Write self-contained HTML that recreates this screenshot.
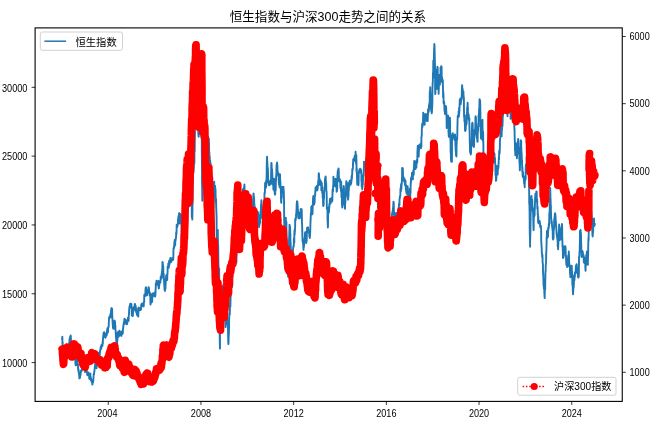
<!DOCTYPE html><html><head><meta charset="utf-8"><title>chart</title><style>html,body{margin:0;padding:0;background:#fff}body{width:661px;height:428px;overflow:hidden;font-family:"Liberation Sans",sans-serif}svg{display:block;will-change:transform}text{filter:grayscale(1)}</style></head><body><svg width="661" height="428" viewBox="0 0 661 428" font-family="Liberation Sans, sans-serif"><rect width="661" height="428" fill="#fff"/><path d="M62.1 339.2L62.3 336.6L62.4 338.9L62.4 341.3L62.5 344.1L62.6 342.1L62.8 346.0L62.8 349.1L62.9 350.2L62.9 350.1L63.0 351.3L63.2 350.5L63.3 350.6L63.3 349.8L63.4 350.0L63.5 351.4L63.6 351.4L63.7 351.6L63.8 352.5L63.8 351.9L63.9 354.6L64.1 353.9L64.2 354.9L64.2 355.7L64.3 355.5L64.3 356.2L64.5 356.3L64.6 356.5L64.7 356.6L64.7 356.3L64.8 355.7L65.0 356.2L65.0 355.4L65.1 355.3L65.2 355.4L65.2 355.7L65.4 355.1L65.5 356.3L65.5 356.2L65.6 356.0L65.7 355.2L65.9 352.5L65.9 351.0L66.0 348.7L66.1 346.1L66.1 344.7L66.3 344.8L66.4 344.6L66.4 346.9L66.5 346.9L66.6 347.3L66.8 348.6L66.8 348.2L66.9 349.0L66.9 348.9L67.0 349.0L67.2 349.2L67.3 348.6L67.3 349.0L67.4 348.4L67.5 348.4L67.6 349.2L67.7 348.4L67.8 350.2L67.8 348.5L67.9 348.2L68.1 349.3L68.1 350.6L68.2 352.1L68.3 352.8L68.3 353.0L68.5 350.1L68.6 347.9L68.7 346.3L68.7 347.7L68.8 345.2L69.0 344.9L69.0 345.3L69.1 344.1L69.2 342.6L69.2 343.6L69.4 342.6L69.5 342.0L69.5 340.8L69.6 338.6L69.7 339.3L69.9 340.6L69.9 339.9L70.0 339.1L70.1 338.7L70.1 337.0L70.3 336.4L70.4 338.7L70.4 337.9L70.5 336.6L70.6 335.4L70.8 336.1L70.8 337.2L70.9 337.5L70.9 341.1L71.0 341.8L71.2 343.1L71.3 344.7L71.3 343.9L71.4 343.3L71.4 344.7L71.6 346.1L71.7 345.7L71.8 348.7L71.8 349.8L71.9 350.1L72.1 352.5L72.1 352.8L72.2 353.0L72.3 354.2L72.3 353.0L72.5 354.0L72.6 353.3L72.7 352.7L72.7 353.7L72.8 354.0L73.0 354.1L73.0 355.5L73.1 357.1L73.2 357.5L73.2 357.4L73.4 357.3L73.5 357.0L73.5 357.2L73.6 356.2L73.7 354.3L73.9 352.3L73.9 351.2L74.0 350.2L74.1 351.2L74.1 350.0L74.3 350.4L74.4 351.1L74.4 351.3L74.5 352.1L74.6 353.9L74.7 355.6L74.8 356.0L74.9 355.1L74.9 355.1L75.0 356.9L75.2 358.7L75.3 359.3L75.3 359.0L75.4 361.6L75.4 363.9L75.6 363.8L75.7 365.4L75.8 365.1L75.8 364.1L75.9 365.4L76.1 363.7L76.1 364.5L76.2 363.0L76.3 360.9L76.3 359.5L76.5 360.4L76.6 359.4L76.7 358.9L76.7 357.8L76.8 357.1L77.0 358.2L77.0 359.1L77.1 359.9L77.2 361.0L77.2 362.0L77.4 362.5L77.5 362.3L77.5 364.2L77.6 365.1L77.7 363.1L77.9 364.8L77.9 364.8L78.0 364.5L78.0 366.6L78.1 369.2L78.3 369.9L78.4 368.9L78.4 370.4L78.5 372.0L78.6 371.1L78.7 370.1L78.8 371.2L78.9 371.9L78.9 372.6L79.0 373.5L79.2 375.4L79.3 376.5L79.3 377.5L79.4 378.4L79.4 377.5L79.6 378.4L79.7 376.9L79.8 377.6L79.8 378.3L79.9 378.0L80.1 376.0L80.1 375.5L80.2 374.6L80.3 373.6L80.3 374.1L80.5 374.7L80.6 374.2L80.6 374.9L80.7 372.7L80.8 372.4L81.0 370.9L81.0 370.8L81.1 371.1L81.2 370.3L81.2 370.4L81.4 370.8L81.5 370.7L81.5 371.0L81.6 371.0L81.7 370.9L81.9 368.4L81.9 368.9L82.0 366.6L82.0 366.1L82.1 365.4L82.3 365.5L82.4 363.9L82.4 363.8L82.5 364.7L82.6 361.4L82.7 362.3L82.8 361.0L82.9 360.6L82.9 359.5L83.0 359.7L83.2 359.8L83.3 361.4L83.3 362.5L83.4 365.1L83.4 365.3L83.6 366.3L83.7 366.6L83.8 367.1L83.8 368.9L83.9 367.8L84.1 367.5L84.1 368.0L84.2 367.9L84.3 365.3L84.3 366.8L84.5 366.2L84.6 369.6L84.6 369.9L84.7 369.5L84.8 370.1L85.0 372.0L85.0 371.9L85.1 371.2L85.2 370.1L85.2 368.7L85.4 364.5L85.5 364.7L85.5 366.3L85.6 366.1L85.7 366.7L85.9 365.0L85.9 364.7L86.0 366.0L86.0 365.5L86.1 366.5L86.3 368.8L86.4 368.4L86.4 370.2L86.5 369.2L86.6 369.2L86.7 370.7L86.8 371.7L86.9 373.0L86.9 372.4L87.0 372.8L87.2 373.2L87.2 374.1L87.3 375.0L87.4 375.3L87.4 375.0L87.6 373.8L87.7 372.7L87.8 373.1L87.8 374.1L87.9 374.0L88.1 373.6L88.1 372.7L88.2 372.4L88.3 372.4L88.3 372.5L88.5 372.5L88.6 372.6L88.6 373.6L88.7 375.0L88.8 374.7L89.0 374.7L89.0 374.6L89.1 376.0L89.2 377.5L89.2 378.3L89.4 378.6L89.5 379.1L89.5 379.1L89.6 378.8L89.7 378.1L89.8 377.2L89.9 376.1L90.0 375.6L90.0 375.5L90.1 373.6L90.3 373.8L90.4 373.7L90.4 376.1L90.5 376.1L90.5 377.6L90.7 376.8L90.8 377.8L90.9 378.0L90.9 380.2L91.0 378.1L91.2 379.2L91.2 379.2L91.3 380.2L91.4 381.4L91.4 381.1L91.6 381.7L91.7 381.7L91.8 380.4L91.8 381.8L91.9 381.0L92.1 380.5L92.1 382.6L92.2 383.2L92.3 384.4L92.3 384.5L92.5 384.3L92.6 383.1L92.6 382.6L92.7 381.3L92.8 381.2L93.0 382.0L93.0 381.5L93.1 380.7L93.1 382.2L93.2 380.5L93.4 380.0L93.5 377.3L93.5 377.1L93.6 375.8L93.7 374.1L93.8 373.7L93.9 373.5L94.0 374.5L94.0 373.6L94.1 372.8L94.3 371.4L94.4 371.3L94.4 371.8L94.5 371.1L94.5 369.7L94.7 368.7L94.8 366.6L94.9 366.1L94.9 366.2L95.0 365.2L95.2 363.8L95.2 361.8L95.3 361.8L95.4 361.7L95.4 361.7L95.6 361.8L95.7 362.2L95.8 362.7L95.8 363.0L95.9 363.5L96.1 365.2L96.1 366.3L96.2 363.3L96.3 365.1L96.3 367.0L96.5 368.4L96.6 367.4L96.6 366.3L96.7 366.5L96.8 365.7L97.0 365.9L97.0 364.5L97.1 363.8L97.1 364.7L97.2 362.1L97.4 361.2L97.5 359.8L97.5 360.7L97.6 360.6L97.7 361.2L97.8 361.2L97.9 360.9L98.0 360.4L98.0 359.6L98.1 361.1L98.3 361.2L98.4 361.1L98.4 360.6L98.5 360.7L98.5 360.3L98.7 360.9L98.8 359.9L98.9 357.6L98.9 354.2L99.0 352.7L99.2 352.5L99.2 354.0L99.3 354.7L99.4 355.6L99.4 356.1L99.6 356.5L99.7 355.3L99.7 355.6L99.8 354.4L99.9 351.8L100.1 351.9L100.1 350.9L100.2 349.9L100.3 349.9L100.3 350.1L100.5 348.8L100.6 349.0L100.6 348.3L100.7 347.0L100.8 347.0L101.0 346.1L101.0 347.2L101.1 347.7L101.1 348.5L101.2 348.8L101.4 347.5L101.5 347.2L101.5 345.4L101.6 344.7L101.7 344.7L101.8 345.6L101.9 345.9L102.0 345.5L102.0 345.8L102.1 346.0L102.3 345.6L102.3 345.7L102.4 345.9L102.5 345.8L102.5 345.7L102.7 340.8L102.8 343.7L102.9 341.0L102.9 340.7L103.0 337.8L103.2 338.0L103.2 335.9L103.3 336.0L103.4 334.3L103.4 334.4L103.6 334.0L103.7 332.8L103.7 332.4L103.8 332.9L103.9 334.3L104.1 333.7L104.1 332.9L104.2 332.2L104.3 333.1L104.3 332.5L104.5 333.3L104.6 333.7L104.6 333.9L104.7 334.1L104.8 334.5L105.0 335.1L105.0 335.8L105.1 337.2L105.1 336.1L105.2 336.2L105.4 337.3L105.5 337.4L105.5 337.8L105.6 337.2L105.6 335.8L105.8 336.5L105.9 336.4L106.0 334.0L106.0 333.8L106.1 334.6L106.3 334.3L106.3 334.5L106.4 335.5L106.5 335.7L106.5 333.1L106.7 334.3L106.8 335.0L106.9 333.5L106.9 331.2L107.0 332.0L107.2 331.5L107.2 329.9L107.3 329.8L107.4 328.1L107.4 328.3L107.6 331.6L107.7 329.8L107.7 331.1L107.8 332.5L107.9 332.4L108.1 330.9L108.1 327.9L108.2 327.1L108.2 327.1L108.3 327.1L108.5 327.0L108.6 327.2L108.6 326.1L108.7 326.4L108.8 322.9L108.9 321.0L109.0 319.5L109.1 317.8L109.1 317.2L109.2 317.5L109.4 316.8L109.5 316.6L109.5 316.9L109.6 316.9L109.6 317.9L109.8 316.6L109.9 316.7L110.0 316.9L110.0 317.5L110.1 317.3L110.3 315.2L110.3 314.1L110.4 315.5L110.5 317.6L110.5 315.2L110.7 315.8L110.8 314.3L110.9 313.1L110.9 313.2L111.0 311.7L111.2 309.6L111.2 309.5L111.3 308.5L111.4 309.1L111.4 308.2L111.6 309.1L111.7 308.2L111.7 309.2L111.8 308.6L111.9 308.6L112.1 308.9L112.1 310.0L112.2 310.3L112.2 313.0L112.3 316.3L112.5 320.2L112.6 321.4L112.6 323.2L112.7 323.4L112.8 326.0L112.9 326.1L113.0 327.9L113.1 327.3L113.1 326.8L113.2 328.5L113.4 328.1L113.5 328.2L113.5 328.7L113.6 328.8L113.6 328.4L113.8 327.2L113.9 326.8L114.0 325.6L114.0 324.8L114.1 325.1L114.3 324.9L114.3 323.9L114.4 322.0L114.5 320.8L114.5 323.2L114.7 323.0L114.8 320.9L114.8 320.7L114.9 322.2L115.0 323.0L115.2 325.2L115.2 326.2L115.3 325.1L115.4 326.1L115.4 330.1L115.6 330.1L115.7 330.6L115.7 332.3L115.8 333.9L115.9 335.9L116.1 338.3L116.1 338.0L116.2 338.9L116.2 340.1L116.3 341.1L116.5 343.3L116.6 347.1L116.6 347.1L116.7 347.5L116.8 347.8L116.9 349.3L117.0 347.1L117.1 346.3L117.1 344.2L117.2 338.7L117.4 340.4L117.5 337.1L117.5 334.9L117.6 335.0L117.6 333.1L117.8 332.3L117.9 333.3L118.0 332.2L118.0 333.5L118.1 333.3L118.3 333.8L118.3 332.9L118.4 335.5L118.5 336.8L118.5 335.4L118.7 335.2L118.8 336.4L118.8 335.3L118.9 335.0L119.0 334.5L119.2 332.0L119.2 332.4L119.3 330.6L119.4 330.7L119.4 331.0L119.6 330.8L119.7 331.6L119.7 331.1L119.8 331.8L119.9 333.1L120.1 334.4L120.1 335.4L120.2 334.7L120.2 334.8L120.3 335.1L120.5 335.3L120.6 335.3L120.6 334.0L120.7 335.1L120.7 333.6L120.9 333.9L121.0 335.2L121.1 332.2L121.1 334.5L121.2 334.3L121.4 335.7L121.4 335.9L121.5 334.2L121.6 332.7L121.6 331.8L121.8 333.1L121.9 334.1L122.0 333.5L122.0 334.1L122.1 331.3L122.3 331.6L122.3 332.1L122.4 331.0L122.5 331.2L122.5 331.9L122.7 333.7L122.8 333.0L122.8 333.2L122.9 330.6L123.0 328.5L123.2 327.9L123.2 327.9L123.3 327.5L123.4 325.0L123.4 325.4L123.6 324.7L123.7 323.4L123.7 323.5L123.8 322.5L123.9 323.3L124.0 323.8L124.1 323.8L124.2 323.7L124.2 322.5L124.3 319.2L124.5 318.8L124.6 319.2L124.6 323.7L124.7 323.6L124.7 322.3L124.9 322.5L125.0 321.3L125.1 321.8L125.1 321.3L125.2 321.2L125.4 320.4L125.4 321.8L125.5 320.7L125.6 319.7L125.6 320.6L125.8 322.1L125.9 320.6L126.0 320.4L126.0 321.9L126.1 323.3L126.3 324.0L126.3 322.8L126.4 323.1L126.5 324.2L126.5 324.1L126.7 322.4L126.8 321.4L126.8 322.9L126.9 323.6L127.0 324.1L127.2 323.8L127.2 323.4L127.3 323.3L127.3 323.1L127.4 320.5L127.6 320.1L127.7 320.9L127.7 320.7L127.8 319.7L127.9 319.6L128.0 317.6L128.1 318.7L128.2 319.1L128.2 319.3L128.3 318.7L128.5 318.6L128.6 320.9L128.6 320.3L128.7 318.1L128.7 315.9L128.9 315.1L129.0 313.4L129.1 311.7L129.1 310.7L129.2 309.2L129.4 308.0L129.4 306.7L129.5 307.3L129.6 306.7L129.6 307.3L129.8 306.7L129.9 305.6L129.9 304.9L130.0 306.9L130.1 305.2L130.3 304.0L130.3 303.6L130.4 304.0L130.5 304.1L130.5 303.6L130.7 304.6L130.8 307.3L130.8 307.4L130.9 307.0L131.0 307.6L131.2 307.1L131.2 306.7L131.3 304.0L131.3 303.9L131.4 304.4L131.6 306.7L131.7 307.2L131.7 311.3L131.8 315.4L131.9 314.9L132.0 312.4L132.1 310.6L132.2 312.4L132.2 313.8L132.3 315.3L132.5 316.0L132.6 313.4L132.6 314.6L132.7 316.0L132.7 316.0L132.9 315.8L133.0 313.2L133.1 312.6L133.1 311.3L133.2 311.0L133.4 311.4L133.4 310.3L133.5 309.9L133.6 308.1L133.6 307.5L133.8 306.9L133.9 310.1L133.9 310.3L134.0 309.0L134.1 306.9L134.3 308.2L134.3 309.5L134.4 309.3L134.5 309.7L134.5 307.3L134.7 304.6L134.8 303.9L134.8 304.3L134.9 304.0L135.0 304.0L135.2 304.9L135.2 307.0L135.3 306.2L135.3 308.9L135.4 309.3L135.6 309.4L135.7 308.1L135.7 305.9L135.8 307.8L135.9 308.0L136.0 310.8L136.1 311.8L136.2 312.3L136.2 309.9L136.3 308.4L136.5 311.3L136.5 311.3L136.6 311.8L136.7 311.2L136.7 313.7L136.9 314.4L137.0 314.5L137.1 314.2L137.1 314.2L137.2 315.2L137.4 315.6L137.4 315.3L137.5 313.9L137.6 313.7L137.6 314.3L137.8 313.9L137.9 314.2L137.9 313.9L138.0 313.8L138.1 315.3L138.3 316.5L138.3 315.0L138.4 312.7L138.5 309.9L138.5 307.7L138.7 307.6L138.8 308.3L138.8 308.5L138.9 308.5L139.0 308.8L139.2 309.7L139.2 309.1L139.3 309.8L139.3 310.2L139.4 309.9L139.6 310.2L139.7 309.8L139.7 309.8L139.8 308.9L139.8 309.1L140.0 308.8L140.1 308.4L140.2 309.9L140.2 308.5L140.3 308.4L140.5 308.0L140.5 308.6L140.6 309.7L140.7 309.9L140.7 308.9L140.9 308.7L141.0 309.4L141.1 309.3L141.1 307.7L141.2 305.1L141.4 304.6L141.4 306.6L141.5 304.1L141.6 304.0L141.6 304.5L141.8 304.4L141.9 306.1L141.9 304.2L142.0 304.2L142.1 303.5L142.3 304.4L142.3 304.2L142.4 304.4L142.4 304.5L142.5 304.8L142.7 304.6L142.8 304.6L142.8 304.1L142.9 304.8L143.0 305.2L143.1 305.8L143.2 305.7L143.3 306.1L143.3 306.2L143.4 306.3L143.6 306.4L143.7 306.0L143.7 305.8L143.8 305.3L143.8 302.7L144.0 302.5L144.1 302.0L144.2 301.2L144.2 297.2L144.3 294.8L144.5 295.7L144.5 295.0L144.6 295.0L144.7 295.1L144.7 295.4L144.9 295.5L145.0 295.8L145.1 295.8L145.1 295.0L145.2 296.1L145.4 295.3L145.4 292.5L145.5 289.4L145.6 288.4L145.6 287.8L145.8 287.6L145.9 287.9L145.9 288.7L146.0 287.2L146.1 289.4L146.3 289.8L146.3 289.7L146.4 292.7L146.4 291.9L146.5 291.6L146.7 295.4L146.8 294.0L146.8 295.1L146.9 295.4L147.0 295.3L147.1 294.4L147.2 291.2L147.3 291.9L147.3 291.6L147.4 291.1L147.6 290.4L147.7 290.3L147.7 290.1L147.8 290.9L147.8 292.5L148.0 291.2L148.1 289.3L148.2 289.0L148.2 289.5L148.3 289.4L148.5 287.3L148.5 287.6L148.6 287.8L148.7 287.5L148.7 287.9L148.9 287.6L149.0 288.3L149.0 290.0L149.1 290.4L149.2 292.7L149.4 292.0L149.4 293.7L149.5 294.0L149.6 295.4L149.6 292.8L149.8 292.5L149.9 294.5L149.9 293.1L150.0 293.2L150.1 294.5L150.3 296.1L150.3 298.3L150.4 302.1L150.4 304.1L150.5 304.6L150.7 302.2L150.8 301.4L150.8 299.8L150.9 302.5L151.0 303.0L151.1 302.8L151.2 302.6L151.3 302.7L151.3 302.5L151.4 301.3L151.6 297.2L151.6 298.0L151.7 298.5L151.8 295.4L151.8 294.1L152.0 294.4L152.1 297.3L152.2 301.7L152.2 297.2L152.3 298.3L152.5 297.1L152.5 296.5L152.6 294.6L152.7 294.2L152.7 293.5L152.9 293.5L153.0 293.4L153.0 293.7L153.1 293.9L153.2 295.0L153.4 294.2L153.4 294.4L153.5 295.7L153.6 293.7L153.6 293.9L153.8 293.8L153.9 293.9L153.9 294.0L154.0 293.3L154.1 294.0L154.3 293.9L154.3 294.2L154.4 296.0L154.4 295.8L154.5 295.5L154.7 292.8L154.8 292.3L154.8 293.7L154.9 293.3L154.9 295.7L155.1 296.5L155.2 295.8L155.3 295.7L155.3 295.7L155.4 295.2L155.6 289.8L155.6 290.6L155.7 288.0L155.8 286.7L155.8 283.6L156.0 283.0L156.1 283.0L156.2 282.9L156.2 283.6L156.3 283.4L156.5 281.6L156.5 280.8L156.6 283.7L156.7 283.8L156.7 283.8L156.9 281.5L157.0 283.7L157.0 284.0L157.1 281.9L157.2 283.2L157.4 283.1L157.4 283.7L157.5 283.8L157.6 284.7L157.6 284.9L157.8 284.9L157.9 284.0L157.9 283.6L158.0 283.9L158.1 281.7L158.2 282.4L158.3 281.1L158.4 280.8L158.4 283.5L158.5 286.0L158.7 288.1L158.8 288.4L158.8 287.7L158.9 288.1L158.9 288.4L159.1 285.2L159.2 285.3L159.3 284.1L159.3 285.5L159.4 283.7L159.6 282.7L159.6 283.7L159.7 282.3L159.8 282.2L159.8 282.5L160.0 282.3L160.1 281.2L160.2 281.9L160.2 282.0L160.3 282.7L160.5 280.5L160.5 280.0L160.6 280.3L160.7 276.8L160.7 278.4L160.9 279.1L161.0 277.6L161.0 278.7L161.1 278.0L161.2 277.2L161.4 278.1L161.4 278.6L161.5 275.6L161.5 274.1L161.6 275.3L161.8 275.3L161.9 273.6L161.9 271.6L162.0 271.7L162.1 270.9L162.2 268.6L162.3 267.9L162.4 264.2L162.4 262.1L162.5 262.6L162.7 262.1L162.8 265.5L162.8 265.8L162.9 266.0L162.9 264.3L163.1 268.9L163.2 268.6L163.3 266.7L163.3 272.9L163.4 277.5L163.6 276.0L163.6 274.8L163.7 273.6L163.8 276.9L163.8 277.6L164.0 280.4L164.1 279.0L164.1 282.0L164.2 283.8L164.3 285.8L164.5 287.7L164.5 289.4L164.6 289.4L164.7 290.4L164.7 289.1L164.9 289.9L165.0 290.6L165.0 290.9L165.1 289.1L165.2 287.6L165.4 285.7L165.4 282.9L165.5 288.6L165.5 287.4L165.6 284.2L165.8 282.0L165.9 279.2L165.9 280.0L166.0 278.4L166.1 276.3L166.2 275.7L166.3 275.7L166.4 275.4L166.4 275.3L166.5 275.9L166.7 275.9L166.8 276.0L166.8 275.5L166.9 275.6L166.9 276.1L167.1 278.7L167.2 280.0L167.3 276.2L167.3 274.5L167.4 274.8L167.6 271.4L167.6 268.8L167.7 266.4L167.8 266.9L167.8 267.1L168.0 266.6L168.1 266.4L168.1 267.0L168.2 266.3L168.3 263.5L168.5 263.4L168.5 267.3L168.6 267.3L168.7 267.9L168.7 267.0L168.9 266.9L169.0 263.5L169.0 264.3L169.1 260.8L169.2 261.4L169.4 265.0L169.4 262.8L169.5 260.5L169.5 260.5L169.6 260.3L169.8 263.1L169.9 261.3L169.9 261.1L170.0 260.8L170.1 260.2L170.2 260.5L170.3 258.0L170.4 258.4L170.4 260.4L170.5 259.6L170.7 258.9L170.7 261.1L170.8 261.6L170.9 259.4L170.9 260.2L171.1 260.0L171.2 261.8L171.3 262.0L171.3 261.1L171.4 258.2L171.6 259.4L171.6 259.0L171.7 258.6L171.8 258.4L171.8 258.8L172.0 259.2L172.1 259.3L172.1 259.8L172.2 260.4L172.3 260.0L172.5 260.0L172.5 259.8L172.6 259.6L172.7 259.2L172.7 259.5L172.9 258.9L173.0 259.2L173.0 258.2L173.1 259.3L173.2 259.9L173.3 257.5L173.4 254.3L173.5 248.6L173.5 248.3L173.6 248.3L173.8 247.8L173.9 248.0L173.9 247.1L174.0 246.3L174.0 247.2L174.2 248.0L174.3 244.3L174.4 242.1L174.4 242.2L174.5 243.5L174.7 240.0L174.7 242.0L174.8 242.0L174.9 239.8L174.9 243.3L175.1 244.8L175.2 245.4L175.3 240.5L175.3 241.9L175.4 241.4L175.6 240.3L175.6 238.9L175.7 239.2L175.8 239.3L175.8 239.1L176.0 237.5L176.1 236.0L176.1 232.8L176.2 235.7L176.3 234.9L176.5 233.1L176.5 230.5L176.6 231.3L176.6 228.6L176.7 224.7L176.9 225.1L177.0 224.4L177.0 225.1L177.1 224.8L177.2 227.0L177.3 224.5L177.4 226.7L177.5 226.0L177.5 225.0L177.6 225.4L177.8 224.4L177.9 222.9L177.9 219.8L178.0 223.7L178.0 221.7L178.2 221.5L178.3 217.1L178.4 220.0L178.4 217.3L178.5 216.1L178.7 216.7L178.7 220.9L178.8 218.5L178.9 219.4L178.9 217.0L179.1 213.1L179.2 213.2L179.3 213.6L179.3 213.1L179.4 214.9L179.6 218.9L179.6 220.1L179.7 223.5L179.8 221.7L179.8 221.0L180.0 219.0L180.1 214.8L180.1 214.1L180.2 217.3L180.3 215.5L180.5 216.2L180.5 214.3L180.6 214.6L180.6 214.1L180.7 214.9L180.9 214.8L181.0 214.7L181.0 215.0L181.1 215.3L181.2 219.0L181.3 220.8L181.4 223.7L181.5 229.7L181.5 233.6L181.6 239.0L181.8 243.3L181.9 242.4L181.9 241.2L182.0 239.9L182.0 242.4L182.2 239.5L182.3 236.2L182.4 236.3L182.4 236.8L182.5 234.8L182.7 233.7L182.7 231.3L182.8 227.3L182.9 227.4L182.9 229.6L183.1 228.5L183.2 229.1L183.2 228.3L183.3 227.2L183.4 227.7L183.6 228.1L183.6 227.1L183.7 228.0L183.8 226.8L183.8 228.0L184.0 226.3L184.1 227.8L184.1 227.4L184.2 228.2L184.3 222.9L184.5 220.4L184.5 220.2L184.6 220.1L184.6 221.6L184.7 223.5L184.9 220.2L185.0 223.3L185.0 226.7L185.1 224.3L185.2 220.1L185.3 220.6L185.4 220.9L185.5 221.1L185.5 221.2L185.6 221.9L185.8 221.2L185.8 222.0L185.9 221.5L186.0 222.1L186.0 221.6L186.2 221.1L186.3 220.9L186.4 215.8L186.4 216.1L186.5 214.7L186.7 215.6L186.7 215.6L186.8 215.7L186.9 219.2L186.9 221.3L187.1 215.9L187.2 218.6L187.2 220.0L187.3 216.2L187.4 212.9L187.6 210.7L187.6 211.5L187.7 210.1L187.8 206.6L187.8 206.6L188.0 207.1L188.1 208.3L188.1 202.7L188.2 203.3L188.3 205.6L188.5 205.3L188.5 201.7L188.6 199.3L188.6 199.1L188.7 199.2L188.9 199.5L189.0 202.2L189.0 202.8L189.1 201.9L189.1 200.5L189.3 197.6L189.4 200.0L189.5 194.1L189.5 197.6L189.6 196.8L189.8 193.4L189.8 193.4L189.9 185.5L190.0 182.3L190.0 186.5L190.2 184.5L190.3 185.3L190.4 184.0L190.4 179.1L190.5 176.9L190.7 182.1L190.7 183.1L190.8 180.8L190.9 177.2L190.9 176.8L191.1 176.8L191.2 181.1L191.2 180.0L191.3 187.1L191.4 191.0L191.6 193.9L191.6 203.5L191.7 205.0L191.7 205.7L191.8 217.2L192.0 215.0L192.1 216.3L192.1 212.6L192.2 217.0L192.3 219.6L192.4 214.0L192.5 209.2L192.6 201.0L192.6 196.0L192.7 183.7L192.9 184.2L193.0 174.0L193.0 173.3L193.1 171.3L193.1 170.1L193.3 170.9L193.4 171.0L193.5 172.7L193.5 171.4L193.6 170.8L193.8 167.8L193.8 159.9L193.9 155.9L194.0 161.5L194.0 164.1L194.2 159.5L194.3 163.6L194.4 160.7L194.4 155.2L194.5 147.9L194.7 146.7L194.7 151.4L194.8 141.6L194.9 136.0L194.9 126.6L195.1 124.3L195.2 123.7L195.2 118.6L195.3 118.4L195.4 112.2L195.6 99.3L195.6 103.7L195.7 101.8L195.7 99.2L195.8 98.5L196.0 104.9L196.1 99.9L196.1 97.9L196.2 105.1L196.3 110.1L196.4 109.7L196.5 100.4L196.6 95.3L196.6 87.7L196.7 78.8L196.9 70.5L197.0 64.8L197.0 63.2L197.1 66.8L197.1 70.2L197.3 67.0L197.4 76.1L197.5 80.2L197.5 88.6L197.6 97.4L197.8 99.9L197.8 104.6L197.9 112.2L198.0 115.0L198.0 116.7L198.2 121.2L198.3 130.1L198.3 133.9L198.4 134.2L198.5 135.9L198.7 136.8L198.7 134.9L198.8 122.7L198.9 113.2L198.9 106.0L199.1 105.1L199.2 107.1L199.2 107.2L199.3 108.4L199.4 102.4L199.6 104.1L199.6 98.3L199.7 103.9L199.7 108.5L199.8 121.8L200.0 129.8L200.1 134.1L200.1 128.3L200.2 125.6L200.3 122.4L200.4 115.3L200.5 116.5L200.6 115.6L200.6 121.0L200.7 119.7L200.9 117.4L200.9 120.0L201.0 120.7L201.1 123.1L201.1 122.3L201.3 126.4L201.4 123.0L201.5 126.3L201.5 125.4L201.6 136.1L201.8 141.0L201.8 148.8L201.9 160.5L202.0 168.2L202.0 181.7L202.2 191.0L202.3 200.8L202.3 191.3L202.4 176.2L202.5 177.3L202.7 176.9L202.7 178.7L202.8 175.9L202.9 177.4L202.9 175.1L203.1 171.1L203.2 158.9L203.2 157.6L203.3 158.0L203.4 157.5L203.6 158.4L203.6 157.4L203.7 161.4L203.7 165.2L203.8 162.0L204.0 158.4L204.1 157.2L204.1 156.7L204.2 157.1L204.2 158.0L204.4 159.7L204.5 161.7L204.6 166.0L204.6 164.6L204.7 165.3L204.9 164.7L204.9 165.3L205.0 172.2L205.1 174.5L205.1 178.5L205.3 192.4L205.4 198.3L205.5 199.9L205.5 200.3L205.6 203.2L205.8 210.0L205.8 207.6L205.9 206.5L206.0 203.0L206.0 201.8L206.2 198.6L206.3 193.7L206.3 186.5L206.4 184.3L206.5 183.9L206.7 185.7L206.7 183.3L206.8 180.6L206.9 180.8L206.9 174.2L207.1 165.7L207.2 166.2L207.2 169.5L207.3 166.7L207.4 167.1L207.5 163.3L207.6 161.7L207.7 158.1L207.7 163.8L207.8 159.4L208.0 154.5L208.1 157.5L208.1 156.2L208.2 151.0L208.2 152.8L208.4 150.9L208.5 148.6L208.6 145.7L208.6 143.6L208.7 138.2L208.9 138.8L208.9 142.1L209.0 142.8L209.1 146.8L209.1 153.9L209.3 154.8L209.4 152.5L209.5 159.5L209.5 162.8L209.6 159.7L209.8 157.0L209.8 160.2L209.9 164.1L210.0 163.7L210.0 160.3L210.2 163.8L210.3 163.7L210.3 162.7L210.4 162.9L210.5 162.6L210.7 168.1L210.7 174.4L210.8 177.8L210.8 183.2L210.9 178.6L211.1 179.1L211.2 177.5L211.2 178.0L211.3 181.1L211.4 182.5L211.5 183.5L211.6 183.4L211.7 188.7L211.7 187.7L211.8 191.2L212.0 193.5L212.1 192.9L212.1 190.1L212.2 191.8L212.2 191.0L212.4 196.0L212.5 201.0L212.6 205.0L212.6 204.4L212.7 206.8L212.9 209.8L212.9 209.8L213.0 206.2L213.1 209.0L213.1 208.5L213.3 208.7L213.4 206.3L213.4 208.1L213.5 205.6L213.6 195.5L213.8 192.1L213.8 188.8L213.9 187.1L214.0 182.5L214.0 182.0L214.2 181.7L214.3 185.3L214.3 187.1L214.4 187.4L214.5 186.9L214.7 194.3L214.7 195.1L214.8 190.6L214.8 195.0L214.9 188.9L215.1 185.7L215.2 189.9L215.2 194.8L215.3 196.5L215.4 191.6L215.5 189.0L215.6 195.0L215.7 197.2L215.7 198.1L215.8 201.0L216.0 203.0L216.1 199.3L216.1 203.5L216.2 206.1L216.2 207.6L216.4 212.1L216.5 214.9L216.6 218.7L216.6 229.1L216.7 233.1L216.9 235.6L216.9 240.3L217.0 240.4L217.1 246.2L217.1 252.8L217.3 243.4L217.4 250.8L217.4 255.2L217.5 257.5L217.6 245.8L217.8 230.0L217.8 235.2L217.9 238.0L218.0 241.8L218.0 243.3L218.2 245.8L218.3 252.3L218.3 256.5L218.4 263.7L218.5 266.1L218.7 269.4L218.7 275.2L218.8 281.3L218.8 288.3L218.9 296.6L219.1 283.2L219.2 268.5L219.2 281.0L219.3 288.8L219.4 302.7L219.5 312.5L219.6 321.9L219.7 330.6L219.7 336.2L219.8 342.7L220.0 348.6L220.0 336.5L220.1 321.2L220.2 303.0L220.2 308.0L220.4 304.1L220.5 300.3L220.6 296.0L220.6 298.6L220.7 299.1L220.9 304.1L220.9 308.5L221.0 313.9L221.1 314.4L221.1 317.9L221.3 323.8L221.4 326.3L221.4 329.3L221.5 331.0L221.6 325.3L221.8 320.5L221.8 316.7L221.9 316.8L222.0 313.9L222.0 309.1L222.2 305.2L222.3 301.2L222.3 301.7L222.4 302.2L222.5 298.6L222.6 294.2L222.7 289.1L222.8 285.8L222.8 286.4L222.9 288.3L223.1 289.9L223.2 291.0L223.2 294.1L223.3 293.3L223.3 292.2L223.5 297.2L223.6 295.8L223.7 302.3L223.7 300.3L223.8 300.3L224.0 301.3L224.0 300.5L224.1 302.2L224.2 299.8L224.2 300.5L224.4 295.7L224.5 291.7L224.6 286.8L224.6 293.2L224.7 296.5L224.9 298.9L224.9 304.6L225.0 310.3L225.1 312.9L225.1 310.1L225.3 313.9L225.4 318.0L225.4 321.0L225.5 324.1L225.6 327.1L225.8 325.7L225.8 321.1L225.9 322.6L225.9 320.9L226.0 317.5L226.2 316.9L226.3 313.8L226.3 311.1L226.4 314.6L226.5 311.2L226.6 310.7L226.7 315.4L226.8 315.4L226.8 314.3L226.9 314.8L227.1 316.9L227.2 317.1L227.2 320.3L227.3 324.1L227.3 324.4L227.5 324.5L227.6 324.4L227.7 324.6L227.7 324.8L227.8 323.9L228.0 325.4L228.0 327.9L228.1 334.5L228.2 337.9L228.2 340.9L228.4 344.1L228.5 343.7L228.6 339.6L228.6 337.0L228.7 336.7L228.9 333.3L228.9 332.4L229.0 328.9L229.1 327.4L229.1 322.3L229.3 314.4L229.4 314.8L229.4 314.5L229.5 313.0L229.6 314.0L229.8 314.8L229.8 313.4L229.9 310.5L229.9 309.8L230.0 305.4L230.2 298.6L230.3 302.6L230.3 299.2L230.4 306.6L230.5 300.9L230.6 298.2L230.7 292.0L230.8 292.1L230.8 287.7L230.9 285.5L231.1 287.4L231.2 287.0L231.2 286.9L231.3 285.1L231.3 285.2L231.5 287.3L231.6 287.2L231.7 286.2L231.7 286.6L231.8 285.9L232.0 285.6L232.0 287.1L232.1 287.0L232.2 285.1L232.2 278.7L232.4 276.1L232.5 272.9L232.5 276.7L232.6 274.7L232.7 266.8L232.9 266.3L232.9 257.8L233.0 253.7L233.1 252.9L233.1 252.1L233.3 252.0L233.4 249.1L233.4 249.4L233.5 249.5L233.6 250.1L233.8 249.3L233.8 244.2L233.9 241.3L233.9 240.4L234.0 239.2L234.2 239.7L234.3 240.2L234.3 241.7L234.4 241.6L234.5 242.5L234.6 248.0L234.7 250.1L234.8 250.8L234.8 249.0L234.9 248.4L235.1 247.5L235.1 247.8L235.2 248.1L235.3 244.9L235.3 248.0L235.5 248.4L235.6 247.3L235.7 252.9L235.7 256.1L235.8 258.5L236.0 262.5L236.0 257.9L236.1 259.0L236.2 260.8L236.2 261.5L236.4 262.7L236.5 260.8L236.5 259.2L236.6 253.4L236.7 250.4L236.9 249.0L236.9 241.4L237.0 234.7L237.1 231.4L237.1 229.8L237.3 223.6L237.4 222.0L237.4 220.4L237.5 218.5L237.6 217.1L237.8 215.2L237.8 214.0L237.9 215.6L237.9 217.0L238.0 216.1L238.2 218.7L238.3 220.2L238.3 219.2L238.4 222.2L238.4 224.8L238.6 223.4L238.7 222.8L238.8 225.6L238.8 224.9L238.9 224.9L239.1 225.2L239.1 224.7L239.2 226.9L239.3 225.8L239.3 228.4L239.5 228.7L239.6 229.0L239.7 229.4L239.7 228.7L239.8 225.8L240.0 222.5L240.0 222.2L240.1 219.6L240.2 214.4L240.2 213.6L240.4 208.5L240.5 208.4L240.5 203.7L240.6 200.6L240.7 203.7L240.9 206.6L240.9 206.7L241.0 211.7L241.1 212.2L241.1 213.8L241.3 213.2L241.4 213.4L241.4 213.4L241.5 216.7L241.6 219.8L241.7 218.1L241.8 215.1L241.9 214.5L241.9 211.8L242.0 209.1L242.2 200.9L242.3 196.4L242.3 198.5L242.4 196.6L242.4 195.8L242.6 192.2L242.7 190.7L242.8 190.4L242.8 190.5L242.9 189.3L243.1 190.6L243.1 193.2L243.2 197.0L243.3 201.3L243.3 200.8L243.5 199.0L243.6 196.1L243.7 196.9L243.7 191.9L243.8 194.3L244.0 187.2L244.0 189.5L244.1 188.7L244.2 190.2L244.2 188.4L244.4 184.4L244.5 185.3L244.5 186.7L244.6 192.9L244.7 193.9L244.9 195.9L244.9 195.6L245.0 198.9L245.0 205.1L245.1 209.3L245.3 199.9L245.4 200.6L245.4 201.1L245.5 202.2L245.6 202.7L245.7 205.4L245.8 209.0L245.9 207.2L245.9 205.6L246.0 208.5L246.2 211.7L246.3 210.3L246.3 212.1L246.4 208.5L246.4 210.0L246.6 211.9L246.7 211.8L246.8 211.3L246.8 209.2L246.9 208.2L247.1 206.9L247.1 205.4L247.2 201.4L247.3 199.2L247.3 198.0L247.5 195.5L247.6 194.4L247.6 191.7L247.7 193.6L247.8 194.0L248.0 194.4L248.0 194.0L248.1 197.3L248.2 202.4L248.2 206.1L248.4 208.0L248.5 212.7L248.5 215.2L248.6 219.1L248.7 222.8L248.9 223.5L248.9 223.8L249.0 224.0L249.0 222.2L249.1 223.3L249.3 224.5L249.4 223.1L249.4 224.3L249.5 226.4L249.6 229.1L249.7 231.1L249.8 230.6L249.9 228.4L249.9 230.6L250.0 229.3L250.2 226.5L250.3 225.2L250.3 226.1L250.4 227.3L250.4 227.1L250.6 227.6L250.7 223.5L250.8 217.9L250.8 217.9L250.9 216.6L251.1 214.7L251.1 214.5L251.2 214.3L251.3 213.1L251.3 212.9L251.5 213.7L251.6 212.7L251.6 215.1L251.7 213.0L251.8 210.0L252.0 213.2L252.0 208.8L252.1 208.4L252.2 207.4L252.2 211.2L252.4 210.6L252.5 210.8L252.5 208.9L252.6 207.0L252.7 211.2L252.9 215.0L252.9 209.4L253.0 207.9L253.0 202.8L253.1 200.6L253.3 197.7L253.4 194.0L253.4 195.4L253.5 194.7L253.5 193.4L253.7 194.1L253.8 197.7L253.9 197.4L253.9 196.7L254.0 197.1L254.2 200.4L254.2 202.3L254.3 204.0L254.4 203.8L254.4 210.1L254.6 208.6L254.7 206.2L254.8 209.8L254.8 210.0L254.9 209.7L255.1 213.7L255.1 218.9L255.2 219.3L255.3 222.6L255.3 226.1L255.5 229.3L255.6 228.9L255.6 229.4L255.7 230.9L255.8 236.5L256.0 238.0L256.0 239.3L256.1 239.2L256.2 237.9L256.2 238.9L256.4 238.5L256.5 238.9L256.5 237.1L256.6 234.6L256.7 230.0L256.8 228.2L256.9 226.7L257.0 227.3L257.0 227.5L257.1 224.4L257.3 222.4L257.4 215.2L257.4 211.8L257.5 213.3L257.5 212.0L257.7 214.1L257.8 220.1L257.9 219.0L257.9 215.6L258.0 213.6L258.2 212.4L258.2 214.9L258.3 212.9L258.4 215.0L258.4 215.7L258.6 219.9L258.7 221.2L258.8 223.2L258.8 223.8L258.9 225.1L259.1 227.1L259.1 226.0L259.2 224.3L259.3 225.2L259.3 225.7L259.5 224.5L259.6 221.3L259.6 220.5L259.7 215.0L259.8 217.8L260.0 219.8L260.0 218.7L260.1 220.4L260.1 220.2L260.2 222.7L260.4 219.3L260.5 217.5L260.5 215.0L260.6 213.9L260.7 210.8L260.8 210.6L260.9 211.1L261.0 208.0L261.0 204.5L261.1 205.0L261.3 203.8L261.4 200.2L261.4 204.6L261.5 206.3L261.5 206.9L261.7 206.2L261.8 208.8L261.9 210.0L261.9 209.9L262.0 214.1L262.2 217.4L262.2 217.9L262.3 218.0L262.4 217.7L262.4 215.0L262.6 218.0L262.7 217.6L262.8 216.9L262.8 217.4L262.9 216.2L263.1 214.8L263.1 213.9L263.2 216.3L263.3 213.9L263.3 210.8L263.5 211.1L263.6 213.9L263.6 210.5L263.7 212.0L263.8 201.8L264.0 202.9L264.0 204.3L264.1 203.3L264.1 207.0L264.2 205.2L264.4 200.4L264.5 194.9L264.5 193.3L264.6 192.5L264.7 193.1L264.8 192.1L264.9 192.9L265.0 190.1L265.0 186.4L265.1 183.0L265.3 186.6L265.4 184.7L265.4 182.6L265.5 187.8L265.5 184.9L265.7 187.4L265.8 185.2L265.9 187.7L265.9 181.7L266.0 181.1L266.2 181.7L266.2 186.7L266.3 184.5L266.4 181.9L266.4 182.3L266.6 176.6L266.7 171.5L266.7 168.1L266.8 163.9L266.9 159.1L267.1 156.6L267.1 158.1L267.2 161.8L267.3 163.2L267.3 161.2L267.5 166.6L267.6 167.1L267.6 172.5L267.7 170.6L267.8 168.0L268.0 171.0L268.0 172.3L268.1 177.4L268.1 182.2L268.2 178.7L268.4 181.1L268.5 183.5L268.5 183.6L268.6 183.7L268.7 182.8L268.8 184.0L268.9 184.7L269.0 185.1L269.0 185.3L269.1 185.1L269.3 185.2L269.3 184.7L269.4 183.1L269.5 181.4L269.5 183.4L269.7 184.0L269.8 183.3L269.9 181.9L269.9 182.5L270.0 182.2L270.2 182.3L270.2 184.3L270.3 184.2L270.4 183.6L270.4 183.2L270.6 181.5L270.7 180.5L270.7 184.3L270.8 184.1L270.9 183.7L271.1 177.0L271.1 174.4L271.2 169.1L271.3 163.2L271.3 163.0L271.5 163.2L271.6 163.9L271.6 164.1L271.7 167.9L271.8 170.7L272.0 169.0L272.0 173.1L272.1 170.7L272.1 172.0L272.2 171.6L272.4 177.5L272.5 177.8L272.5 178.8L272.6 180.1L272.6 179.9L272.8 183.5L272.9 184.6L273.0 179.7L273.0 178.3L273.1 182.4L273.3 185.4L273.3 186.9L273.4 189.6L273.5 188.4L273.5 189.6L273.7 189.6L273.8 189.2L273.9 186.5L273.9 185.1L274.0 184.0L274.2 179.0L274.2 179.3L274.3 183.8L274.4 185.9L274.4 191.3L274.6 190.9L274.7 193.4L274.7 192.3L274.8 192.8L274.9 194.3L275.1 194.7L275.1 194.4L275.2 194.6L275.2 193.5L275.3 191.9L275.5 189.5L275.6 188.5L275.6 190.6L275.7 189.5L275.8 186.5L275.9 178.6L276.0 178.3L276.1 180.3L276.1 176.4L276.2 176.2L276.4 173.1L276.5 166.1L276.5 168.4L276.6 166.9L276.6 164.4L276.8 166.7L276.9 168.1L277.0 167.3L277.0 162.4L277.1 162.9L277.3 165.8L277.3 164.7L277.4 166.0L277.5 170.5L277.5 174.7L277.7 171.1L277.8 174.0L277.9 173.1L277.9 172.7L278.0 173.7L278.2 173.2L278.2 173.1L278.3 173.6L278.4 173.1L278.4 176.7L278.6 176.9L278.7 174.7L278.7 178.6L278.8 182.5L278.9 181.1L279.1 184.9L279.1 183.5L279.2 182.4L279.2 184.1L279.3 183.8L279.5 183.1L279.6 185.8L279.6 187.4L279.7 184.6L279.8 179.0L279.9 176.0L280.0 174.2L280.1 177.4L280.1 179.9L280.2 179.8L280.4 182.3L280.5 185.5L280.5 184.8L280.6 185.9L280.6 187.5L280.8 188.8L280.9 193.3L281.0 193.2L281.0 199.0L281.1 201.4L281.3 202.9L281.3 201.3L281.4 197.2L281.5 194.7L281.5 190.4L281.7 195.2L281.8 197.7L281.8 196.0L281.9 191.9L282.0 191.0L282.2 192.5L282.2 187.8L282.3 187.0L282.4 187.3L282.4 187.4L282.6 187.0L282.7 188.1L282.7 188.9L282.8 186.6L282.9 188.9L283.1 186.9L283.1 186.9L283.2 189.1L283.2 187.6L283.3 187.6L283.5 186.9L283.6 190.6L283.6 191.7L283.7 190.7L283.8 191.4L283.9 195.2L284.0 200.6L284.1 206.5L284.1 212.9L284.2 221.2L284.4 228.3L284.4 234.2L284.5 232.6L284.6 231.7L284.6 232.0L284.8 231.7L284.9 230.8L285.0 229.4L285.0 229.7L285.1 229.6L285.3 230.0L285.3 226.8L285.4 226.6L285.5 226.2L285.5 221.4L285.7 218.8L285.8 218.3L285.8 217.6L285.9 220.4L286.0 220.8L286.2 223.2L286.2 223.0L286.3 221.3L286.4 223.2L286.4 229.0L286.6 233.7L286.7 241.2L286.7 243.7L286.8 243.6L286.9 242.6L287.1 249.7L287.1 252.9L287.2 252.7L287.2 254.8L287.3 256.6L287.5 260.6L287.6 259.9L287.6 259.9L287.7 258.5L287.7 258.1L287.9 268.1L288.0 276.6L288.1 273.8L288.1 271.9L288.2 269.4L288.4 268.6L288.4 265.2L288.5 264.4L288.6 258.6L288.6 257.4L288.8 254.0L288.9 249.8L289.0 245.6L289.0 239.8L289.1 238.8L289.3 234.1L289.3 231.4L289.4 231.5L289.5 227.4L289.5 224.7L289.7 226.8L289.8 226.4L289.8 226.1L289.9 226.4L290.0 226.5L290.2 229.6L290.2 233.0L290.3 237.3L290.4 234.0L290.4 239.4L290.6 244.0L290.7 242.8L290.7 245.1L290.8 246.5L290.9 253.4L291.0 255.2L291.1 254.4L291.2 251.6L291.2 252.8L291.3 256.8L291.5 256.7L291.6 254.8L291.6 252.6L291.7 252.3L291.7 251.2L291.9 252.0L292.0 252.9L292.1 250.2L292.1 250.5L292.2 251.1L292.4 251.0L292.4 250.1L292.5 250.5L292.6 251.1L292.6 251.1L292.8 251.5L292.9 251.4L293.0 249.7L293.0 248.9L293.1 248.4L293.3 247.5L293.3 246.7L293.4 246.0L293.5 245.9L293.5 246.5L293.7 246.7L293.8 245.1L293.8 240.6L293.9 238.4L294.0 240.8L294.2 241.3L294.2 239.8L294.3 242.8L294.3 235.0L294.4 232.5L294.6 229.9L294.7 233.9L294.7 234.7L294.8 230.2L294.9 231.6L295.0 228.4L295.1 228.1L295.2 221.7L295.2 219.1L295.3 221.1L295.5 219.3L295.6 219.6L295.6 218.2L295.7 219.9L295.7 219.9L295.9 217.2L296.0 216.4L296.1 214.0L296.1 217.2L296.2 214.1L296.4 212.6L296.4 210.6L296.5 210.3L296.6 208.4L296.6 205.9L296.8 202.9L296.9 202.7L296.9 201.5L297.0 201.2L297.1 201.3L297.3 201.9L297.3 201.7L297.4 201.8L297.5 204.3L297.5 204.3L297.7 206.2L297.8 209.0L297.8 208.9L297.9 210.0L298.0 211.8L298.2 212.5L298.2 217.9L298.3 215.9L298.3 214.3L298.4 212.6L298.6 213.3L298.7 216.5L298.7 218.2L298.8 216.0L298.9 214.6L299.0 216.6L299.1 215.0L299.2 213.9L299.2 212.8L299.3 217.3L299.5 215.0L299.6 214.2L299.6 216.1L299.7 218.4L299.7 217.6L299.9 212.8L300.0 214.7L300.1 213.4L300.1 214.7L300.2 217.1L300.4 216.2L300.4 213.0L300.5 214.1L300.6 214.3L300.6 209.3L300.8 209.3L300.9 211.9L300.9 209.3L301.0 211.4L301.1 209.4L301.3 209.9L301.3 209.5L301.4 211.4L301.5 211.9L301.5 209.3L301.7 209.2L301.8 213.9L301.8 214.6L301.9 219.1L302.0 223.8L302.2 227.5L302.2 228.8L302.3 232.2L302.3 233.0L302.4 236.6L302.6 241.1L302.7 242.0L302.7 241.0L302.8 240.6L302.9 243.3L303.0 242.8L303.1 243.7L303.2 243.7L303.2 243.8L303.3 247.0L303.5 249.9L303.5 248.4L303.6 246.4L303.7 247.7L303.7 247.4L303.9 247.3L304.0 244.3L304.1 245.4L304.1 244.5L304.2 241.9L304.4 243.1L304.4 240.0L304.5 239.1L304.6 238.5L304.6 238.0L304.8 237.4L304.9 235.1L304.9 235.3L305.0 233.0L305.1 232.6L305.3 232.1L305.3 236.9L305.4 239.2L305.5 240.4L305.5 240.9L305.7 240.4L305.8 238.9L305.8 240.9L305.9 240.7L306.0 240.9L306.1 240.9L306.2 242.7L306.3 243.0L306.3 242.2L306.4 241.0L306.6 241.1L306.7 240.8L306.7 240.4L306.8 236.6L306.8 232.8L307.0 230.6L307.1 227.7L307.2 231.0L307.2 229.6L307.3 230.6L307.5 227.6L307.5 229.9L307.6 227.5L307.7 229.5L307.7 231.6L307.9 230.7L308.0 229.8L308.1 227.4L308.1 228.4L308.2 231.1L308.4 230.8L308.4 229.7L308.5 230.6L308.6 232.1L308.6 232.3L308.8 233.1L308.9 231.7L308.9 230.6L309.0 230.8L309.1 232.1L309.3 232.2L309.3 234.9L309.4 236.7L309.4 233.1L309.5 231.9L309.7 236.2L309.8 238.0L309.8 237.5L309.9 236.4L310.0 236.7L310.1 232.0L310.2 232.9L310.3 229.0L310.3 229.6L310.4 224.9L310.6 219.0L310.7 219.7L310.7 216.8L310.8 215.7L310.8 213.4L311.0 212.7L311.1 213.9L311.2 212.7L311.2 210.3L311.3 206.6L311.5 207.8L311.5 209.8L311.6 207.2L311.7 209.5L311.7 207.2L311.9 206.0L312.0 210.6L312.1 210.4L312.1 209.8L312.2 208.7L312.4 214.3L312.4 213.9L312.5 213.7L312.6 211.0L312.6 208.7L312.8 206.0L312.9 204.9L312.9 202.3L313.0 200.4L313.1 197.7L313.3 196.7L313.3 196.6L313.4 195.9L313.4 196.1L313.5 197.4L313.7 199.5L313.8 200.4L313.8 201.0L313.9 202.8L314.0 203.5L314.1 204.0L314.2 204.5L314.3 203.2L314.3 202.5L314.4 201.7L314.6 203.1L314.7 199.2L314.7 199.1L314.8 196.7L314.8 197.0L315.0 195.2L315.1 194.0L315.2 194.9L315.2 195.2L315.3 190.6L315.5 190.0L315.5 188.1L315.6 188.0L315.7 187.6L315.7 187.1L315.9 187.9L316.0 187.6L316.0 188.5L316.1 190.7L316.2 190.6L316.4 188.6L316.4 186.8L316.5 187.2L316.6 187.1L316.6 187.4L316.8 188.4L316.9 187.9L316.9 186.4L317.0 185.7L317.1 189.3L317.3 190.1L317.3 190.4L317.4 190.2L317.4 189.4L317.5 189.1L317.7 188.9L317.8 185.9L317.8 186.2L317.9 184.7L318.0 185.8L318.1 185.6L318.2 181.1L318.3 182.1L318.3 183.3L318.4 181.4L318.6 179.1L318.6 176.8L318.7 173.7L318.8 173.6L318.8 173.1L319.0 174.2L319.1 177.5L319.2 178.1L319.2 177.6L319.3 180.7L319.5 183.0L319.5 183.0L319.6 179.4L319.7 179.2L319.7 181.8L319.9 180.1L320.0 183.9L320.0 185.1L320.1 184.8L320.2 183.8L320.4 181.8L320.4 182.6L320.5 182.0L320.6 183.4L320.6 182.3L320.8 182.7L320.9 182.8L320.9 181.8L321.0 181.3L321.1 185.6L321.3 185.2L321.3 190.3L321.4 188.2L321.4 184.3L321.5 182.8L321.7 185.6L321.8 183.0L321.8 183.5L321.9 186.6L321.9 185.2L322.1 187.8L322.2 191.7L322.3 192.9L322.3 193.3L322.4 193.1L322.6 193.2L322.6 197.1L322.7 197.4L322.8 196.4L322.8 197.0L323.0 198.3L323.1 204.5L323.2 204.7L323.2 205.7L323.3 206.1L323.5 205.6L323.5 205.2L323.6 204.9L323.7 204.1L323.7 198.7L323.9 195.2L324.0 195.0L324.0 199.1L324.1 192.1L324.2 190.6L324.4 189.0L324.4 187.3L324.5 187.2L324.6 188.2L324.6 188.5L324.8 186.6L324.9 185.1L324.9 180.0L325.0 180.9L325.1 178.4L325.2 180.9L325.3 183.7L325.4 177.6L325.4 178.0L325.5 176.4L325.7 176.9L325.8 180.6L325.8 181.0L325.9 180.9L325.9 184.7L326.1 182.7L326.2 183.6L326.3 189.7L326.3 191.0L326.4 192.0L326.6 191.4L326.6 191.8L326.7 196.4L326.8 202.5L326.8 208.8L327.0 208.1L327.1 209.1L327.2 208.3L327.2 208.9L327.3 209.7L327.5 210.9L327.5 220.1L327.6 221.2L327.7 221.2L327.7 223.1L327.9 227.5L328.0 225.1L328.0 222.5L328.1 217.0L328.2 213.9L328.4 213.2L328.4 210.7L328.5 207.9L328.5 208.7L328.6 207.2L328.8 209.2L328.9 207.3L328.9 210.7L329.0 212.1L329.1 210.4L329.2 205.4L329.3 207.6L329.4 205.7L329.4 203.7L329.5 204.9L329.7 203.9L329.8 202.9L329.8 200.2L329.9 199.5L329.9 199.0L330.1 201.6L330.2 200.8L330.3 199.0L330.3 201.4L330.4 202.2L330.6 202.5L330.6 203.5L330.7 202.0L330.8 202.4L330.8 201.9L331.0 198.6L331.1 201.9L331.1 200.2L331.2 198.3L331.3 198.5L331.5 199.8L331.5 198.8L331.6 199.9L331.7 197.8L331.7 198.5L331.9 198.6L332.0 198.8L332.0 201.6L332.1 200.8L332.2 201.1L332.4 199.4L332.4 196.4L332.5 192.6L332.5 193.6L332.6 189.7L332.8 189.2L332.9 190.1L332.9 190.6L333.0 191.4L333.1 186.5L333.2 185.2L333.3 185.0L333.4 181.0L333.4 176.7L333.5 177.9L333.7 179.4L333.8 182.0L333.8 185.4L333.9 186.3L333.9 185.1L334.1 185.6L334.2 186.0L334.3 181.0L334.3 179.5L334.4 180.4L334.6 181.9L334.6 179.9L334.7 181.3L334.8 181.5L334.8 183.5L335.0 181.7L335.1 180.8L335.1 179.4L335.2 178.9L335.3 179.6L335.5 179.4L335.5 179.7L335.6 178.8L335.7 181.4L335.7 184.0L335.9 186.6L336.0 185.6L336.0 185.1L336.1 180.8L336.2 180.5L336.4 183.9L336.4 183.9L336.5 181.0L336.5 186.6L336.6 191.7L336.8 191.5L336.9 189.1L336.9 191.0L337.0 191.1L337.0 190.2L337.2 189.0L337.3 183.9L337.4 180.6L337.4 175.1L337.5 176.9L337.7 171.4L337.7 172.9L337.8 171.0L337.9 171.1L337.9 171.5L338.1 169.4L338.2 171.4L338.3 170.2L338.3 170.8L338.4 172.3L338.6 168.4L338.6 168.6L338.7 171.1L338.8 171.1L338.8 175.3L339.0 177.6L339.1 179.6L339.1 180.5L339.2 181.2L339.3 180.6L339.5 180.3L339.5 181.0L339.6 180.9L339.7 180.4L339.7 180.6L339.9 180.2L340.0 179.4L340.0 182.2L340.1 180.8L340.2 179.9L340.3 183.3L340.4 188.0L340.5 185.3L340.5 184.1L340.6 185.1L340.8 182.8L340.9 189.6L340.9 191.1L341.0 187.0L341.0 186.5L341.2 181.8L341.3 187.2L341.4 190.6L341.4 196.0L341.5 197.3L341.7 194.8L341.7 195.3L341.8 197.3L341.9 196.9L341.9 203.5L342.1 206.0L342.2 206.8L342.3 207.5L342.3 206.4L342.4 205.4L342.6 203.7L342.6 206.8L342.7 199.5L342.8 196.6L342.8 198.1L343.0 190.8L343.1 192.8L343.1 191.9L343.2 189.3L343.3 190.0L343.5 189.7L343.5 188.6L343.6 186.2L343.6 187.6L343.7 185.9L343.9 189.3L344.0 187.8L344.0 191.1L344.1 195.7L344.2 195.3L344.3 198.2L344.4 204.2L344.5 202.7L344.5 198.4L344.6 197.2L344.8 200.6L344.9 205.9L344.9 205.2L345.0 208.7L345.0 208.2L345.2 202.6L345.3 202.7L345.4 201.6L345.4 197.0L345.5 197.5L345.7 195.3L345.7 194.7L345.8 194.3L345.9 195.3L345.9 194.7L346.1 187.0L346.2 184.6L346.2 183.9L346.3 181.1L346.4 182.0L346.6 182.9L346.6 182.5L346.7 184.2L346.8 183.4L346.8 186.8L347.0 182.9L347.1 184.8L347.1 186.2L347.2 190.2L347.3 189.8L347.5 190.1L347.5 192.4L347.6 195.6L347.6 195.8L347.7 197.7L347.9 195.2L348.0 195.2L348.0 198.1L348.1 199.7L348.2 199.1L348.3 197.4L348.4 196.5L348.5 194.3L348.5 195.8L348.6 188.6L348.8 190.4L348.9 185.3L348.9 186.2L349.0 184.6L349.0 182.4L349.2 184.2L349.3 186.5L349.4 182.4L349.4 182.0L349.5 182.5L349.7 180.6L349.7 181.1L349.8 183.5L349.9 183.7L349.9 181.6L350.1 183.9L350.2 184.5L350.2 184.7L350.3 184.0L350.4 184.2L350.6 183.8L350.6 184.3L350.7 184.7L350.8 184.2L350.8 183.3L351.0 180.0L351.1 180.7L351.1 180.9L351.2 183.3L351.3 182.0L351.5 181.0L351.5 179.8L351.6 175.9L351.6 175.9L351.7 179.5L351.9 177.9L352.0 177.8L352.0 176.7L352.1 175.3L352.2 173.4L352.3 169.5L352.4 168.9L352.5 171.0L352.5 169.5L352.6 169.8L352.8 169.0L352.8 168.1L352.9 167.7L353.0 162.6L353.0 165.8L353.2 159.4L353.3 160.3L353.4 160.6L353.4 159.5L353.5 160.3L353.7 159.0L353.7 158.4L353.8 158.9L353.9 160.3L353.9 160.7L354.1 160.2L354.2 160.5L354.2 158.2L354.3 158.7L354.4 158.2L354.6 157.7L354.6 157.0L354.7 155.7L354.8 157.3L354.8 159.9L355.0 158.6L355.1 160.3L355.1 160.9L355.2 160.5L355.3 159.7L355.4 158.0L355.5 154.3L355.6 151.7L355.6 154.3L355.7 154.6L355.9 158.7L356.0 163.6L356.0 156.6L356.1 159.8L356.1 156.6L356.3 154.9L356.4 160.6L356.5 160.9L356.5 171.4L356.6 170.9L356.8 172.6L356.8 168.6L356.9 174.1L357.0 174.2L357.0 176.4L357.2 183.1L357.3 184.6L357.4 184.0L357.4 183.9L357.5 183.9L357.7 183.2L357.7 182.2L357.8 183.2L357.9 182.9L357.9 183.1L358.1 184.2L358.2 184.1L358.2 184.6L358.3 185.0L358.4 185.2L358.6 183.3L358.6 180.1L358.7 177.0L358.7 172.8L358.8 173.5L359.0 171.8L359.1 172.1L359.1 170.8L359.2 170.3L359.3 169.9L359.4 170.9L359.5 169.6L359.6 169.9L359.6 169.3L359.7 171.3L359.9 172.3L360.0 170.8L360.0 171.1L360.1 170.4L360.1 168.8L360.3 168.8L360.4 169.3L360.5 169.1L360.5 169.8L360.6 172.0L360.8 171.1L360.8 169.4L360.9 170.3L361.0 170.8L361.0 170.1L361.2 172.3L361.3 174.1L361.4 174.0L361.4 179.8L361.5 181.4L361.7 182.5L361.7 186.8L361.8 183.3L361.9 183.8L361.9 183.3L362.1 185.0L362.2 188.6L362.2 189.4L362.3 188.1L362.4 187.0L362.6 185.6L362.6 185.1L362.7 181.5L362.7 180.0L362.8 184.6L363.0 179.3L363.1 175.2L363.1 175.3L363.2 176.4L363.3 176.9L363.4 175.9L363.5 175.9L363.6 175.5L363.6 175.1L363.7 170.0L363.9 171.4L364.0 166.0L364.0 161.6L364.1 162.0L364.1 164.4L364.3 162.3L364.4 162.4L364.5 162.1L364.5 165.6L364.6 163.0L364.8 165.2L364.8 167.4L364.9 165.3L365.0 163.6L365.0 162.9L365.2 163.0L365.3 164.0L365.3 163.8L365.4 164.0L365.5 164.1L365.7 163.4L365.7 163.5L365.8 163.4L365.9 162.3L365.9 160.3L366.1 159.0L366.2 158.7L366.2 164.0L366.3 160.6L366.4 162.7L366.6 161.5L366.6 158.1L366.7 157.7L366.7 158.3L366.8 158.6L367.0 158.2L367.1 158.0L367.1 159.8L367.2 168.4L367.3 171.0L367.4 170.7L367.5 170.7L367.6 173.8L367.6 173.9L367.7 172.7L367.9 169.7L367.9 169.1L368.0 167.7L368.1 166.9L368.1 165.8L368.3 166.4L368.4 159.1L368.5 157.6L368.5 160.1L368.6 157.5L368.8 157.2L368.8 157.5L368.9 151.6L369.0 148.1L369.0 141.3L369.2 137.4L369.3 136.4L369.3 133.5L369.4 127.0L369.5 122.4L369.7 114.6L369.7 115.1L369.8 112.9L369.9 111.9L369.9 109.0L370.1 113.7L370.2 116.0L370.2 116.8L370.3 112.3L370.4 112.8L370.6 111.6L370.6 108.7L370.7 108.4L370.7 111.7L370.8 111.1L371.0 108.0L371.1 115.8L371.1 124.2L371.2 124.6L371.2 121.2L371.4 121.3L371.5 121.2L371.6 125.8L371.6 123.2L371.7 121.4L371.9 119.0L371.9 118.1L372.0 119.8L372.1 114.6L372.1 114.9L372.3 113.1L372.4 111.4L372.5 115.2L372.5 120.9L372.6 122.8L372.8 124.5L372.8 127.8L372.9 122.1L373.0 125.2L373.0 120.7L373.2 121.8L373.3 122.3L373.3 124.3L373.4 129.2L373.5 126.0L373.7 131.3L373.7 134.4L373.8 133.2L373.9 127.9L373.9 123.4L374.1 121.7L374.2 123.2L374.2 134.2L374.3 139.8L374.4 139.7L374.5 139.6L374.6 138.9L374.7 145.4L374.7 151.9L374.8 155.8L375.0 163.2L375.1 172.1L375.1 176.5L375.2 175.4L375.2 176.5L375.4 172.7L375.5 167.4L375.6 165.8L375.6 165.4L375.7 169.8L375.9 167.8L375.9 167.6L376.0 160.3L376.1 155.6L376.1 154.4L376.3 157.9L376.4 159.9L376.5 161.6L376.5 161.7L376.6 161.1L376.8 168.2L376.8 171.7L376.9 173.3L377.0 174.2L377.0 175.4L377.2 180.9L377.3 187.3L377.3 188.6L377.4 189.8L377.5 192.5L377.7 196.4L377.7 196.9L377.8 196.5L377.8 203.2L377.9 206.1L378.1 207.7L378.2 208.3L378.2 208.3L378.3 203.1L378.4 202.4L378.5 201.9L378.6 202.1L378.7 201.9L378.7 201.0L378.8 200.8L379.0 200.0L379.1 200.1L379.1 206.6L379.2 210.3L379.2 213.5L379.4 215.5L379.5 216.9L379.6 216.9L379.6 217.5L379.7 216.3L379.9 217.7L379.9 218.5L380.0 219.3L380.1 218.2L380.1 218.5L380.3 218.0L380.4 217.3L380.4 213.3L380.5 209.8L380.6 207.2L380.8 204.5L380.8 202.2L380.9 197.2L381.0 201.1L381.0 201.0L381.2 198.7L381.3 201.2L381.3 198.4L381.4 197.9L381.5 194.5L381.7 190.4L381.7 189.1L381.8 191.3L381.8 185.5L381.9 181.6L382.1 183.9L382.2 186.8L382.2 186.6L382.3 188.6L382.4 188.6L382.5 190.3L382.6 190.7L382.7 192.4L382.7 197.9L382.8 195.7L383.0 194.2L383.1 192.2L383.1 195.4L383.2 191.4L383.2 195.5L383.4 193.3L383.5 196.2L383.6 194.9L383.6 193.4L383.7 192.3L383.9 192.5L383.9 194.8L384.0 193.4L384.1 196.6L384.1 197.1L384.3 197.5L384.4 196.9L384.4 196.7L384.5 196.9L384.6 201.2L384.8 201.9L384.8 207.0L384.9 205.7L385.0 207.5L385.0 207.6L385.2 206.9L385.3 204.8L385.3 204.3L385.4 203.4L385.5 200.3L385.7 202.1L385.7 202.5L385.8 202.6L385.8 205.1L385.9 204.4L386.1 203.7L386.2 202.9L386.2 200.5L386.3 198.6L386.4 204.5L386.5 211.6L386.6 215.9L386.7 217.0L386.7 220.2L386.8 217.4L387.0 221.6L387.0 222.9L387.1 228.5L387.2 231.8L387.2 235.0L387.4 240.4L387.5 241.1L387.6 244.6L387.6 245.0L387.7 241.7L387.9 240.3L387.9 238.2L388.0 233.8L388.1 232.8L388.1 229.3L388.3 228.7L388.4 228.0L388.4 227.8L388.5 230.2L388.6 231.1L388.8 229.7L388.8 234.4L388.9 239.1L389.0 243.8L389.0 248.1L389.2 245.8L389.3 248.6L389.3 248.7L389.4 245.8L389.5 244.3L389.6 243.9L389.7 244.6L389.8 241.7L389.8 240.8L389.9 238.3L390.1 237.2L390.2 237.2L390.2 235.4L390.3 231.4L390.3 235.0L390.5 229.9L390.6 227.5L390.7 228.7L390.7 222.6L390.8 225.5L391.0 222.5L391.0 225.0L391.1 221.2L391.2 217.4L391.2 221.4L391.4 220.0L391.5 217.9L391.6 220.1L391.6 222.1L391.7 218.6L391.9 215.7L391.9 216.5L392.0 213.7L392.1 214.3L392.1 214.7L392.3 214.5L392.4 213.0L392.4 211.8L392.5 212.7L392.6 214.5L392.8 212.8L392.8 211.4L392.9 208.3L392.9 212.2L393.0 210.2L393.2 206.5L393.3 205.6L393.3 204.3L393.4 202.6L393.5 201.7L393.6 201.7L393.7 204.1L393.8 204.0L393.8 206.3L393.9 210.3L394.1 212.9L394.2 212.6L394.2 218.2L394.3 216.7L394.3 217.1L394.5 220.6L394.6 224.3L394.7 226.5L394.7 227.5L394.8 228.8L395.0 226.4L395.0 224.7L395.1 227.4L395.2 223.7L395.2 225.7L395.4 221.7L395.5 217.7L395.6 213.9L395.6 215.0L395.7 213.3L395.9 213.4L395.9 213.7L396.0 213.3L396.1 213.8L396.1 213.2L396.3 213.0L396.4 215.7L396.4 221.7L396.5 222.1L396.6 222.0L396.8 214.2L396.8 219.3L396.9 220.0L396.9 222.2L397.0 222.3L397.2 219.8L397.3 219.9L397.3 220.2L397.4 221.7L397.5 221.4L397.6 220.5L397.7 215.8L397.8 214.9L397.8 214.0L397.9 212.6L398.1 211.3L398.2 211.2L398.2 211.1L398.3 209.0L398.3 212.8L398.5 209.9L398.6 209.4L398.7 207.2L398.7 207.1L398.8 208.3L399.0 205.1L399.0 204.2L399.1 203.6L399.2 203.5L399.2 204.8L399.4 205.5L399.5 203.8L399.5 199.3L399.6 199.0L399.7 198.9L399.9 196.6L399.9 197.1L400.0 196.0L400.1 197.1L400.1 196.6L400.3 194.9L400.4 192.0L400.4 189.9L400.5 189.1L400.6 187.7L400.8 189.0L400.8 190.7L400.9 191.3L400.9 190.5L401.0 184.5L401.2 186.3L401.3 183.6L401.3 186.1L401.4 188.9L401.5 186.6L401.6 184.0L401.7 184.2L401.8 184.0L401.8 181.9L401.9 180.6L402.1 174.8L402.1 167.9L402.2 170.0L402.3 170.9L402.3 168.5L402.5 168.6L402.6 168.4L402.7 169.1L402.7 168.9L402.8 168.1L403.0 172.4L403.0 177.3L403.1 180.4L403.2 176.5L403.2 176.1L403.4 177.2L403.5 177.6L403.5 180.5L403.6 180.3L403.7 179.6L403.9 179.1L403.9 179.0L404.0 178.7L404.1 178.5L404.1 178.0L404.3 178.3L404.4 178.5L404.4 179.4L404.5 182.2L404.6 181.7L404.8 179.7L404.8 181.7L404.9 182.2L404.9 184.4L405.0 184.9L405.2 185.4L405.3 184.4L405.3 183.7L405.4 180.8L405.4 180.4L405.6 184.5L405.7 185.1L405.8 185.3L405.8 189.0L405.9 189.2L406.1 189.7L406.1 188.2L406.2 191.7L406.3 192.3L406.3 191.5L406.5 189.8L406.6 193.7L406.7 193.4L406.7 191.9L406.8 186.1L407.0 186.1L407.0 191.3L407.1 190.5L407.2 192.5L407.2 190.5L407.4 192.0L407.5 189.7L407.5 186.5L407.6 186.2L407.7 188.0L407.9 189.0L407.9 189.9L408.0 194.2L408.0 193.1L408.1 194.9L408.3 194.4L408.4 197.8L408.4 200.6L408.5 201.7L408.6 199.8L408.7 201.1L408.8 202.6L408.9 200.7L408.9 200.5L409.0 203.3L409.2 201.0L409.3 202.4L409.3 201.2L409.4 201.3L409.4 197.4L409.6 197.9L409.7 198.1L409.8 197.4L409.8 194.1L409.9 188.7L410.1 195.8L410.1 193.5L410.2 194.9L410.3 196.4L410.3 192.9L410.5 193.3L410.6 188.8L410.7 182.7L410.7 184.3L410.8 184.4L411.0 180.5L411.0 178.0L411.1 177.7L411.2 177.3L411.2 178.6L411.4 178.2L411.5 178.7L411.5 179.2L411.6 178.1L411.7 179.7L411.9 179.0L411.9 178.2L412.0 172.8L412.0 173.1L412.1 173.6L412.3 175.9L412.4 175.7L412.4 176.5L412.5 177.0L412.6 177.9L412.7 179.0L412.8 177.9L412.9 179.2L412.9 174.8L413.0 173.9L413.2 173.6L413.3 173.5L413.3 171.8L413.4 170.2L413.4 174.7L413.6 174.8L413.7 173.2L413.8 174.0L413.8 169.2L413.9 167.7L414.1 165.5L414.1 164.1L414.2 161.6L414.3 161.0L414.3 161.5L414.5 161.7L414.6 161.7L414.6 165.1L414.7 164.6L414.8 166.3L415.0 163.9L415.0 165.1L415.1 166.7L415.2 167.8L415.2 168.3L415.4 168.9L415.5 169.1L415.5 166.9L415.6 164.0L415.7 163.8L415.9 161.1L415.9 162.8L416.0 163.3L416.0 167.1L416.1 167.1L416.3 166.1L416.4 167.6L416.4 166.7L416.5 162.4L416.6 161.9L416.7 160.5L416.8 159.9L416.9 160.7L416.9 160.9L417.0 161.4L417.2 161.4L417.2 162.7L417.3 160.6L417.4 156.9L417.4 152.1L417.6 149.6L417.7 146.1L417.8 145.8L417.8 149.8L417.9 151.7L418.1 153.4L418.1 154.1L418.2 151.3L418.3 150.6L418.3 151.9L418.5 152.2L418.6 156.0L418.6 155.1L418.7 156.6L418.8 152.9L419.0 149.3L419.0 147.3L419.1 147.0L419.2 147.0L419.2 145.1L419.4 147.1L419.5 147.5L419.5 147.8L419.6 144.5L419.7 144.6L419.9 146.2L419.9 148.0L420.0 147.8L420.0 147.0L420.1 144.8L420.3 145.4L420.4 144.8L420.4 144.5L420.5 145.5L420.5 148.0L420.7 147.9L420.8 147.9L420.9 148.4L420.9 146.6L421.0 145.6L421.2 144.5L421.2 142.1L421.3 146.4L421.4 146.8L421.4 137.2L421.6 136.8L421.7 134.3L421.8 135.5L421.8 130.3L421.9 128.2L422.1 126.5L422.1 124.3L422.2 125.7L422.3 124.3L422.3 123.5L422.5 123.6L422.6 125.0L422.6 126.6L422.7 123.3L422.8 123.3L423.0 124.1L423.0 123.0L423.1 116.7L423.2 114.6L423.2 112.8L423.4 116.5L423.5 118.2L423.5 114.3L423.6 113.5L423.7 113.9L423.8 113.7L423.9 113.9L424.0 114.9L424.0 114.2L424.1 117.3L424.3 118.7L424.4 117.1L424.4 121.9L424.5 122.1L424.5 124.6L424.7 124.7L424.8 118.9L424.9 118.3L424.9 115.2L425.0 117.5L425.2 117.1L425.2 114.6L425.3 115.6L425.4 114.4L425.4 116.2L425.6 118.0L425.7 119.4L425.8 116.3L425.8 114.4L425.9 114.0L426.1 115.0L426.1 117.8L426.2 114.8L426.3 118.0L426.3 120.4L426.5 118.1L426.6 118.0L426.6 119.0L426.7 120.1L426.8 121.0L427.0 120.4L427.0 120.8L427.1 119.8L427.1 118.4L427.2 115.8L427.4 119.0L427.5 121.0L427.5 118.4L427.6 118.8L427.7 121.1L427.8 117.0L427.9 116.4L428.0 114.6L428.0 110.2L428.1 109.2L428.3 113.5L428.4 109.7L428.4 111.0L428.5 111.0L428.5 111.3L428.7 111.5L428.8 111.4L428.9 106.7L428.9 105.8L429.0 109.3L429.2 104.1L429.2 105.0L429.3 108.2L429.4 103.3L429.4 103.4L429.6 107.2L429.7 102.2L429.7 96.5L429.8 91.3L429.9 92.4L430.1 92.8L430.1 90.0L430.2 87.3L430.3 91.1L430.3 91.5L430.5 95.4L430.6 93.7L430.6 96.2L430.7 98.6L430.8 100.6L431.0 99.5L431.0 104.4L431.1 107.1L431.1 110.7L431.2 109.2L431.4 111.6L431.5 110.6L431.5 111.4L431.6 111.3L431.7 113.0L431.8 113.3L431.9 111.5L432.0 111.0L432.0 110.0L432.1 107.8L432.3 105.2L432.4 100.9L432.4 92.2L432.5 87.8L432.5 88.4L432.7 82.1L432.8 82.4L432.9 77.1L432.9 72.9L433.0 77.4L433.2 77.9L433.2 68.6L433.3 60.7L433.4 62.6L433.4 71.5L433.6 62.7L433.7 67.9L433.7 64.7L433.8 61.5L433.9 58.3L434.1 49.3L434.1 48.1L434.2 48.4L434.3 49.6L434.3 43.9L434.5 45.1L434.6 48.5L434.6 47.6L434.7 53.8L434.8 59.5L435.0 65.1L435.0 70.6L435.1 77.7L435.1 85.4L435.2 94.1L435.4 93.2L435.5 89.9L435.5 89.4L435.6 88.6L435.7 81.6L435.8 89.6L435.9 83.5L436.0 77.7L436.0 77.4L436.1 74.9L436.3 72.4L436.3 69.8L436.4 75.7L436.5 78.9L436.5 82.9L436.7 88.9L436.8 85.5L436.9 81.8L436.9 78.9L437.0 75.3L437.2 80.1L437.2 83.3L437.3 79.6L437.4 74.0L437.4 66.6L437.6 67.1L437.7 68.3L437.7 70.0L437.8 76.0L437.9 76.7L438.1 86.6L438.1 86.8L438.2 85.7L438.3 86.0L438.3 89.6L438.5 89.3L438.6 90.9L438.6 93.9L438.7 90.9L438.8 89.5L438.9 84.5L439.0 75.2L439.1 75.8L439.1 79.8L439.2 77.7L439.4 79.9L439.5 75.2L439.5 75.1L439.6 78.8L439.6 81.3L439.8 81.4L439.9 84.7L440.0 77.3L440.0 75.7L440.1 77.3L440.3 76.2L440.3 76.8L440.4 75.9L440.5 76.7L440.5 67.7L440.7 73.8L440.8 67.5L440.9 73.7L440.9 71.6L441.0 67.7L441.2 66.1L441.2 68.3L441.3 67.1L441.4 68.7L441.4 70.2L441.6 66.8L441.7 75.7L441.7 81.3L441.8 81.4L441.9 82.0L442.1 77.2L442.1 78.6L442.2 79.9L442.2 80.8L442.3 80.4L442.5 81.0L442.6 81.3L442.6 80.3L442.7 83.9L442.8 80.0L442.9 85.3L443.0 87.3L443.1 97.2L443.1 91.4L443.2 91.0L443.4 95.6L443.5 93.9L443.5 95.6L443.6 102.6L443.6 103.3L443.8 103.5L443.9 102.4L444.0 102.3L444.0 102.5L444.1 101.7L444.3 103.8L444.3 107.2L444.4 107.2L444.5 110.5L444.5 110.5L444.7 111.5L444.8 111.8L444.9 113.1L444.9 113.4L445.0 114.0L445.2 113.5L445.2 112.5L445.3 113.4L445.4 113.6L445.4 111.2L445.6 111.4L445.7 108.9L445.7 106.0L445.8 108.8L445.9 107.7L446.1 107.0L446.1 106.8L446.2 108.6L446.2 111.3L446.3 110.7L446.5 115.8L446.6 119.2L446.6 121.3L446.7 128.0L446.8 125.0L446.9 125.3L447.0 123.4L447.1 127.6L447.1 127.2L447.2 126.3L447.4 125.0L447.5 123.2L447.5 119.5L447.6 120.1L447.6 117.8L447.8 119.0L447.9 119.1L448.0 115.9L448.0 115.4L448.1 116.4L448.3 121.3L448.3 126.8L448.4 126.4L448.5 129.1L448.5 132.3L448.7 134.4L448.8 136.5L448.8 136.7L448.9 132.2L449.0 132.4L449.2 130.3L449.2 132.7L449.3 127.5L449.4 124.8L449.4 120.0L449.6 117.6L449.7 120.0L449.7 124.1L449.8 118.4L449.9 117.7L450.1 122.9L450.1 128.2L450.2 134.9L450.2 137.7L450.3 134.2L450.5 140.3L450.6 144.5L450.6 151.3L450.7 152.5L450.8 153.5L450.9 156.9L451.0 159.5L451.1 157.5L451.1 161.5L451.2 155.6L451.4 159.8L451.4 161.4L451.5 159.3L451.6 158.5L451.6 159.0L451.8 160.7L451.9 161.8L452.0 151.9L452.0 142.1L452.1 135.7L452.3 135.6L452.3 134.8L452.4 135.3L452.5 134.7L452.5 133.6L452.7 133.2L452.8 136.0L452.8 136.3L452.9 137.2L453.0 136.7L453.2 137.0L453.2 135.0L453.3 136.3L453.4 137.1L453.4 137.2L453.6 135.0L453.7 136.0L453.7 136.8L453.8 137.2L453.9 135.4L454.1 136.9L454.1 139.1L454.2 137.3L454.2 137.4L454.3 134.7L454.5 137.1L454.6 140.0L454.6 139.9L454.7 136.4L454.7 134.9L454.9 135.8L455.0 134.4L455.1 134.9L455.1 135.7L455.2 136.4L455.4 142.2L455.4 144.2L455.5 145.1L455.6 147.5L455.6 149.2L455.8 151.5L455.9 151.3L456.0 153.3L456.0 155.2L456.1 154.1L456.3 155.8L456.3 155.9L456.4 156.5L456.5 155.3L456.5 147.8L456.7 142.6L456.8 140.0L456.8 138.9L456.9 137.8L457.0 139.9L457.2 139.3L457.2 136.8L457.3 136.1L457.4 127.4L457.4 127.9L457.6 119.4L457.7 117.8L457.7 117.4L457.8 115.6L457.9 115.8L458.0 116.1L458.1 116.8L458.2 117.3L458.2 116.3L458.3 115.5L458.5 116.8L458.6 111.1L458.6 111.4L458.7 116.3L458.7 116.0L458.9 116.7L459.0 114.2L459.1 109.0L459.1 107.7L459.2 113.6L459.4 108.5L459.4 111.3L459.5 107.4L459.6 106.1L459.6 105.6L459.8 99.6L459.9 99.8L460.0 100.0L460.0 99.1L460.1 99.9L460.3 99.1L460.3 99.8L460.4 99.4L460.5 98.4L460.5 99.7L460.7 104.2L460.8 102.7L460.8 103.1L460.9 102.2L461.0 99.5L461.2 100.5L461.2 99.8L461.3 99.7L461.3 100.3L461.4 100.4L461.6 98.8L461.7 97.3L461.7 96.9L461.8 92.4L461.9 90.4L462.0 87.0L462.1 85.1L462.2 85.5L462.2 86.3L462.3 89.8L462.5 92.2L462.6 88.9L462.6 89.1L462.7 89.5L462.7 92.4L462.9 93.4L463.0 91.9L463.1 92.1L463.1 92.5L463.2 93.2L463.4 92.3L463.4 91.4L463.5 94.5L463.6 95.9L463.6 97.7L463.8 98.5L463.9 97.5L463.9 99.4L464.0 110.9L464.1 116.8L464.3 117.3L464.3 115.1L464.4 121.2L464.5 119.1L464.5 117.4L464.7 115.0L464.8 115.3L464.8 123.1L464.9 124.7L465.0 130.6L465.2 128.3L465.2 129.8L465.3 131.0L465.3 129.5L465.4 130.0L465.6 130.1L465.7 129.8L465.7 128.8L465.8 127.8L465.9 123.4L466.0 123.8L466.1 123.5L466.2 124.0L466.2 124.5L466.3 125.1L466.5 121.5L466.6 122.1L466.6 123.7L466.7 120.4L466.7 122.6L466.9 113.9L467.0 114.7L467.1 112.9L467.1 107.8L467.2 107.4L467.4 107.9L467.4 108.0L467.5 106.5L467.6 102.8L467.6 103.3L467.8 106.4L467.9 107.0L467.9 111.6L468.0 113.1L468.1 116.4L468.3 118.1L468.3 117.2L468.4 117.8L468.5 116.0L468.5 117.0L468.7 114.4L468.8 118.6L468.8 119.6L468.9 120.0L469.0 119.7L469.2 118.7L469.2 118.4L469.3 117.9L469.3 122.3L469.4 125.3L469.6 131.9L469.7 137.4L469.7 139.7L469.8 141.2L469.8 142.1L470.0 148.5L470.1 152.3L470.2 151.1L470.2 150.7L470.3 149.3L470.5 153.5L470.5 153.6L470.6 153.1L470.7 154.5L470.7 153.7L470.9 153.1L471.0 153.7L471.1 152.7L471.1 150.6L471.2 146.1L471.4 143.3L471.4 145.4L471.5 146.4L471.6 145.2L471.6 145.6L471.8 137.0L471.9 137.4L471.9 133.4L472.0 127.7L472.1 123.7L472.3 123.0L472.3 123.6L472.4 122.7L472.5 126.9L472.5 122.9L472.7 123.8L472.8 135.1L472.8 136.0L472.9 139.8L473.0 140.1L473.1 141.1L473.2 142.3L473.3 140.7L473.3 142.0L473.4 145.5L473.6 145.8L473.7 146.2L473.7 146.9L473.8 146.4L473.8 144.8L474.0 145.6L474.1 146.7L474.2 137.5L474.2 130.8L474.3 133.0L474.5 136.9L474.5 137.0L474.6 133.9L474.7 133.2L474.7 130.0L474.9 129.3L475.0 129.3L475.1 129.4L475.1 129.9L475.2 129.4L475.4 123.0L475.4 119.5L475.5 116.5L475.6 116.9L475.6 116.2L475.8 117.6L475.9 120.2L475.9 117.2L476.0 124.1L476.1 123.5L476.3 123.5L476.3 130.2L476.4 128.7L476.4 132.5L476.5 134.6L476.7 134.6L476.8 133.2L476.8 137.7L476.9 138.4L477.0 137.6L477.1 138.0L477.2 138.2L477.3 141.5L477.3 136.8L477.4 136.7L477.6 141.8L477.7 136.2L477.7 136.6L477.8 131.7L477.8 129.9L478.0 131.1L478.1 128.6L478.2 127.1L478.2 127.4L478.3 125.5L478.5 126.4L478.5 122.7L478.6 115.3L478.7 118.7L478.7 119.1L478.9 114.6L479.0 112.2L479.1 108.8L479.1 112.6L479.2 111.3L479.4 108.7L479.4 106.3L479.5 99.9L479.6 101.7L479.6 99.1L479.8 101.4L479.9 101.5L479.9 100.3L480.0 100.4L480.1 100.3L480.3 105.7L480.3 108.9L480.4 112.1L480.4 119.0L480.5 125.3L480.7 132.2L480.8 133.5L480.8 134.2L480.9 134.8L481.0 138.1L481.1 136.3L481.2 137.9L481.3 138.8L481.3 135.3L481.4 135.4L481.6 138.6L481.7 134.1L481.7 136.7L481.8 130.3L481.8 136.8L482.0 127.8L482.1 124.2L482.2 122.4L482.2 120.2L482.3 120.2L482.5 119.8L482.5 123.7L482.6 127.9L482.7 136.5L482.7 140.6L482.9 140.5L483.0 137.4L483.0 135.8L483.1 131.8L483.2 138.1L483.4 146.1L483.4 149.5L483.5 158.5L483.6 164.2L483.6 171.3L483.8 181.0L483.9 188.4L483.9 196.7L484.0 201.4L484.1 194.4L484.3 188.9L484.3 183.7L484.4 176.4L484.4 175.7L484.5 174.2L484.7 174.8L484.8 175.4L484.8 175.6L484.9 173.5L485.0 169.8L485.1 167.7L485.2 169.5L485.3 165.8L485.3 165.5L485.4 167.3L485.6 164.2L485.6 164.6L485.7 166.5L485.8 166.0L485.8 168.4L486.0 169.8L486.1 167.6L486.2 165.4L486.2 164.5L486.3 162.9L486.5 162.5L486.5 162.0L486.6 161.0L486.7 164.8L486.7 164.9L486.9 169.0L487.0 167.0L487.0 164.9L487.1 164.1L487.2 163.2L487.4 164.8L487.4 164.7L487.5 167.7L487.6 169.2L487.6 170.4L487.8 170.2L487.9 174.9L487.9 177.8L488.0 181.4L488.1 178.9L488.3 181.1L488.3 183.0L488.4 184.6L488.4 183.1L488.5 184.2L488.7 184.0L488.8 182.1L488.8 184.5L488.9 183.4L488.9 184.7L489.1 182.2L489.2 179.1L489.3 176.6L489.3 175.7L489.4 174.1L489.6 173.7L489.6 169.9L489.7 171.2L489.8 173.8L489.8 167.2L490.0 167.9L490.1 166.0L490.2 161.9L490.2 162.7L490.3 163.6L490.5 163.5L490.5 164.0L490.6 160.8L490.7 154.2L490.7 148.6L490.9 141.3L491.0 137.7L491.0 139.4L491.1 140.9L491.2 144.5L491.4 145.7L491.4 144.0L491.5 144.4L491.5 153.8L491.6 156.3L491.8 156.3L491.9 158.1L491.9 158.3L492.0 157.8L492.1 155.8L492.2 160.5L492.3 160.8L492.4 160.8L492.4 162.2L492.5 161.7L492.7 160.2L492.8 157.4L492.8 158.6L492.9 157.2L492.9 153.0L493.1 151.8L493.2 154.5L493.3 153.9L493.3 153.0L493.4 153.0L493.6 152.8L493.6 153.1L493.7 152.1L493.8 152.2L493.8 154.8L494.0 156.6L494.1 157.7L494.2 155.7L494.2 155.8L494.3 154.8L494.5 153.7L494.5 154.9L494.6 157.6L494.7 157.8L494.7 158.0L494.9 160.2L495.0 163.2L495.0 157.9L495.1 162.7L495.2 162.8L495.4 166.1L495.4 168.6L495.5 173.9L495.5 173.3L495.6 175.2L495.8 176.1L495.9 176.8L495.9 178.7L496.0 180.9L496.1 180.4L496.2 180.5L496.3 178.9L496.4 177.3L496.4 178.0L496.5 174.2L496.7 167.9L496.8 168.0L496.8 166.7L496.9 165.9L496.9 166.5L497.1 166.7L497.2 169.0L497.3 169.8L497.3 168.5L497.4 167.4L497.6 169.4L497.6 173.1L497.7 174.5L497.8 169.9L497.8 169.5L498.0 169.8L498.1 167.3L498.1 167.8L498.2 168.5L498.3 168.4L498.5 166.4L498.5 164.4L498.6 163.3L498.7 163.4L498.7 160.4L498.9 157.3L499.0 158.5L499.0 159.5L499.1 154.0L499.2 150.7L499.4 151.2L499.4 152.9L499.5 151.3L499.5 152.5L499.6 153.7L499.8 149.4L499.9 145.1L499.9 141.6L500.0 140.8L500.1 138.1L500.2 137.7L500.3 137.0L500.4 135.1L500.4 135.7L500.5 132.3L500.7 132.7L500.7 127.6L500.8 125.8L500.9 126.5L500.9 129.4L501.1 125.7L501.2 124.7L501.3 129.3L501.3 136.2L501.4 127.0L501.6 136.4L501.6 136.4L501.7 133.4L501.8 128.3L501.8 124.7L502.0 130.4L502.1 125.2L502.1 128.5L502.2 125.4L502.3 126.1L502.5 125.0L502.5 126.2L502.6 121.9L502.7 122.0L502.7 116.9L502.9 116.8L503.0 113.9L503.0 106.9L503.1 102.2L503.2 100.8L503.4 99.3L503.4 101.0L503.5 95.6L503.5 92.0L503.6 88.7L503.8 85.1L503.9 91.5L503.9 97.3L504.0 102.5L504.0 110.9L504.2 110.2L504.3 108.5L504.4 110.3L504.4 109.0L504.5 106.8L504.7 98.4L504.7 94.9L504.8 95.1L504.9 88.0L504.9 82.6L505.1 81.0L505.2 77.5L505.3 72.4L505.3 75.7L505.4 81.0L505.6 83.7L505.6 84.3L505.7 88.1L505.8 95.5L505.8 101.3L506.0 102.6L506.1 101.4L506.1 105.0L506.2 104.9L506.3 105.4L506.5 105.2L506.5 104.2L506.6 104.2L506.7 106.5L506.7 103.2L506.9 102.9L507.0 103.2L507.0 102.5L507.1 107.5L507.2 105.6L507.3 110.6L507.4 112.4L507.5 113.8L507.5 116.2L507.6 110.3L507.8 110.4L507.9 110.3L507.9 109.6L508.0 109.8L508.0 110.2L508.2 106.3L508.3 105.8L508.4 109.8L508.4 109.3L508.5 109.0L508.7 107.6L508.7 103.4L508.8 103.8L508.9 106.0L508.9 103.9L509.1 102.5L509.2 103.3L509.3 103.9L509.3 105.9L509.4 103.7L509.6 104.1L509.6 103.4L509.7 103.4L509.8 104.4L509.8 104.9L510.0 105.5L510.1 107.1L510.1 104.2L510.2 105.9L510.3 105.8L510.5 104.1L510.5 106.5L510.6 112.5L510.6 118.7L510.7 115.2L510.9 113.5L511.0 113.0L511.0 118.7L511.1 117.9L511.2 113.8L511.3 105.9L511.4 106.1L511.5 104.1L511.5 103.3L511.6 102.2L511.8 99.0L511.9 102.6L511.9 101.7L512.0 103.6L512.0 103.3L512.2 100.4L512.3 98.4L512.4 98.0L512.4 97.8L512.5 99.9L512.7 101.3L512.7 99.6L512.8 103.1L512.9 104.6L512.9 104.7L513.1 103.5L513.2 103.9L513.2 100.1L513.3 97.9L513.4 98.1L513.6 99.4L513.6 101.8L513.7 103.4L513.8 106.4L513.8 106.1L514.0 107.8L514.1 111.2L514.1 114.6L514.2 118.1L514.3 126.0L514.5 130.6L514.5 128.7L514.6 130.8L514.6 134.5L514.7 138.0L514.9 143.6L515.0 147.5L515.0 150.4L515.1 144.7L515.2 148.4L515.3 155.3L515.4 154.9L515.5 151.9L515.5 147.7L515.6 142.9L515.8 144.7L515.9 145.4L515.9 144.1L516.0 148.4L516.0 149.1L516.2 154.2L516.3 151.5L516.4 153.6L516.4 153.0L516.5 154.8L516.7 151.0L516.7 153.2L516.8 155.2L516.9 155.5L516.9 158.2L517.1 155.3L517.2 153.8L517.2 153.0L517.3 149.6L517.4 150.5L517.6 147.9L517.6 144.0L517.7 142.6L517.8 142.0L517.8 143.5L518.0 145.3L518.1 140.9L518.1 139.0L518.2 139.0L518.3 139.5L518.5 142.9L518.5 145.0L518.6 147.3L518.6 153.3L518.7 150.4L518.9 150.3L519.0 150.0L519.0 148.7L519.1 150.6L519.2 147.5L519.3 156.8L519.4 161.9L519.5 161.5L519.5 162.0L519.6 163.5L519.8 167.9L519.8 170.1L519.9 170.3L520.0 166.0L520.0 165.6L520.2 162.1L520.3 159.0L520.4 157.9L520.4 153.8L520.5 148.7L520.7 148.8L520.7 144.9L520.8 140.9L520.9 140.3L520.9 140.9L521.1 141.3L521.2 141.8L521.2 147.4L521.3 147.5L521.4 150.9L521.6 152.7L521.6 154.7L521.7 155.2L521.8 159.5L521.8 160.4L522.0 160.0L522.1 163.3L522.1 167.3L522.2 167.4L522.3 171.8L522.4 167.1L522.5 170.5L522.6 175.8L522.6 176.2L522.7 175.2L522.9 174.5L523.0 175.7L523.0 176.4L523.1 172.2L523.1 177.5L523.3 177.7L523.4 177.1L523.5 176.5L523.5 176.5L523.6 176.5L523.8 176.8L523.8 176.1L523.9 176.4L524.0 181.0L524.0 181.9L524.2 183.6L524.3 181.2L524.4 180.9L524.4 179.7L524.5 183.7L524.7 187.2L524.7 184.2L524.8 183.1L524.9 179.3L524.9 181.6L525.1 180.5L525.2 179.8L525.2 177.1L525.3 177.3L525.4 178.2L525.6 177.4L525.6 179.2L525.7 176.7L525.7 168.9L525.8 166.1L526.0 164.4L526.1 167.0L526.1 166.9L526.2 167.5L526.3 170.0L526.4 168.1L526.5 169.4L526.6 164.0L526.6 156.8L526.7 160.5L526.9 162.8L527.0 163.7L527.0 169.5L527.1 168.0L527.1 169.8L527.3 172.6L527.4 169.5L527.5 168.2L527.5 167.1L527.6 167.8L527.8 162.4L527.8 157.2L527.9 156.6L528.0 157.2L528.0 157.6L528.2 156.5L528.3 162.5L528.4 161.5L528.4 160.8L528.5 164.9L528.7 165.9L528.7 174.1L528.8 179.2L528.9 182.4L528.9 186.1L529.1 187.6L529.2 194.2L529.2 202.8L529.3 204.1L529.4 203.8L529.6 212.5L529.6 215.6L529.7 221.7L529.7 227.7L529.8 234.8L530.0 239.6L530.1 246.8L530.1 242.6L530.2 238.4L530.3 235.6L530.4 231.5L530.5 225.6L530.6 218.9L530.6 219.6L530.7 213.5L530.9 208.1L531.0 202.6L531.0 199.8L531.1 197.5L531.1 197.9L531.3 196.5L531.4 196.0L531.5 195.9L531.5 201.5L531.6 202.7L531.8 201.7L531.8 206.8L531.9 206.3L532.0 206.1L532.0 205.0L532.2 199.5L532.3 201.8L532.3 203.6L532.4 205.3L532.5 208.7L532.7 209.8L532.7 210.4L532.8 207.7L532.9 207.8L532.9 210.0L533.1 213.4L533.2 215.7L533.2 218.7L533.3 220.6L533.4 225.6L533.6 230.1L533.6 230.0L533.7 227.1L533.7 221.0L533.8 218.2L534.0 215.8L534.1 215.3L534.1 212.9L534.2 216.3L534.3 215.3L534.4 212.5L534.5 213.5L534.6 215.1L534.6 215.8L534.7 210.5L534.9 207.7L534.9 205.5L535.0 201.6L535.1 198.5L535.1 197.0L535.3 197.2L535.4 193.8L535.5 197.8L535.5 198.5L535.6 197.5L535.8 196.8L535.8 196.0L535.9 195.0L536.0 194.5L536.0 195.3L536.2 196.1L536.3 191.5L536.3 194.7L536.4 195.9L536.5 195.7L536.7 193.4L536.7 191.7L536.8 198.5L536.9 199.3L536.9 201.4L537.1 202.8L537.2 199.5L537.2 202.4L537.3 208.7L537.4 207.0L537.6 208.5L537.6 206.7L537.7 209.8L537.7 214.7L537.8 212.5L538.0 215.9L538.1 222.6L538.1 222.4L538.2 216.4L538.2 216.0L538.4 219.7L538.5 222.2L538.6 223.3L538.6 223.1L538.7 222.8L538.9 222.9L538.9 222.2L539.0 222.2L539.1 221.4L539.1 220.8L539.3 221.3L539.4 222.0L539.5 222.5L539.5 220.9L539.6 221.2L539.8 221.2L539.8 222.5L539.9 221.7L540.0 223.8L540.0 223.8L540.2 226.6L540.3 226.8L540.3 226.9L540.4 227.3L540.5 226.4L540.7 226.1L540.7 226.2L540.8 225.6L540.9 227.4L540.9 226.8L541.1 228.8L541.2 234.8L541.2 241.4L541.3 241.4L541.4 243.6L541.5 245.3L541.6 247.3L541.7 247.8L541.7 247.7L541.8 252.8L542.0 253.6L542.1 254.5L542.1 255.8L542.2 256.5L542.2 257.6L542.4 254.6L542.5 257.1L542.6 259.6L542.6 262.3L542.7 263.2L542.9 263.5L542.9 263.4L543.0 269.5L543.1 274.2L543.1 272.4L543.3 275.4L543.4 279.6L543.5 282.4L543.5 285.6L543.6 282.3L543.8 283.8L543.8 287.0L543.9 288.4L544.0 287.8L544.0 287.9L544.2 286.3L544.3 289.9L544.3 292.3L544.4 293.5L544.5 295.7L544.7 298.1L544.7 293.6L544.8 292.7L544.8 291.1L544.9 289.1L545.1 289.5L545.2 289.0L545.2 283.8L545.3 280.5L545.4 274.7L545.5 271.0L545.6 272.4L545.7 267.2L545.7 265.8L545.8 264.9L546.0 262.9L546.1 259.5L546.1 253.3L546.2 256.7L546.2 253.6L546.4 250.6L546.5 245.3L546.6 244.3L546.6 239.5L546.7 237.9L546.9 233.7L546.9 231.4L547.0 231.1L547.1 236.1L547.1 238.2L547.3 238.1L547.4 232.7L547.4 230.4L547.5 232.3L547.6 232.8L547.8 232.8L547.8 233.0L547.9 234.7L548.0 236.6L548.0 233.5L548.2 227.7L548.3 228.0L548.3 230.6L548.4 229.0L548.5 228.0L548.7 228.1L548.7 227.1L548.8 224.8L548.8 223.7L548.9 226.9L549.1 225.1L549.2 221.6L549.2 220.1L549.3 213.4L549.4 213.7L549.5 212.2L549.6 211.9L549.7 210.0L549.7 208.2L549.8 202.1L550.0 197.4L550.1 196.9L550.1 194.4L550.2 190.0L550.2 187.9L550.4 193.7L550.5 199.6L550.6 199.3L550.6 199.1L550.7 204.1L550.9 206.2L550.9 209.3L551.0 212.9L551.1 215.8L551.1 218.2L551.3 219.0L551.4 222.5L551.4 220.9L551.5 223.8L551.6 221.7L551.8 222.3L551.8 221.2L551.9 223.7L552.0 223.9L552.0 226.1L552.2 226.6L552.3 227.9L552.3 228.1L552.4 228.5L552.5 229.8L552.7 231.2L552.7 232.3L552.8 238.2L552.8 236.9L552.9 238.4L553.1 239.6L553.2 237.6L553.2 238.9L553.3 237.4L553.3 235.6L553.5 238.7L553.6 233.9L553.7 230.2L553.7 227.1L553.8 226.7L554.0 229.2L554.0 227.6L554.1 225.9L554.2 222.4L554.2 219.4L554.4 218.8L554.5 217.9L554.6 218.2L554.6 216.4L554.7 216.3L554.9 214.0L554.9 213.6L555.0 215.4L555.1 213.6L555.1 213.2L555.3 214.2L555.4 215.6L555.4 216.2L555.5 215.8L555.6 218.4L555.8 221.7L555.8 222.7L555.9 221.0L556.0 225.4L556.0 226.4L556.2 225.9L556.3 227.1L556.3 229.4L556.4 229.8L556.5 231.3L556.6 234.0L556.7 232.9L556.8 234.8L556.8 234.0L556.9 236.7L557.1 235.7L557.2 237.8L557.2 238.2L557.3 238.5L557.3 239.5L557.5 236.4L557.6 240.9L557.7 246.1L557.7 246.6L557.8 242.8L558.0 244.6L558.0 247.3L558.1 249.3L558.2 247.3L558.2 246.6L558.4 241.9L558.5 239.0L558.6 240.6L558.6 238.1L558.7 234.9L558.9 229.7L558.9 233.6L559.0 232.0L559.1 226.8L559.1 224.4L559.3 227.6L559.4 231.2L559.4 232.4L559.5 237.9L559.6 239.7L559.8 240.2L559.8 238.4L559.9 237.2L559.9 238.0L560.0 239.9L560.2 237.8L560.3 236.8L560.3 234.9L560.4 237.9L560.5 239.4L560.6 234.3L560.7 233.7L560.8 233.7L560.8 230.7L560.9 229.2L561.1 229.9L561.2 230.1L561.2 228.6L561.3 228.0L561.3 231.8L561.5 228.1L561.6 226.2L561.7 227.1L561.7 228.2L561.8 227.9L562.0 223.9L562.0 224.2L562.1 225.7L562.2 228.1L562.2 235.7L562.4 241.1L562.5 246.4L562.5 246.4L562.6 246.6L562.7 247.5L562.9 253.1L562.9 255.5L563.0 258.0L563.1 255.0L563.1 255.4L563.3 257.7L563.4 257.5L563.4 257.5L563.5 255.4L563.6 256.6L563.8 252.8L563.8 249.4L563.9 248.2L563.9 247.2L564.0 246.5L564.2 246.4L564.3 246.8L564.3 246.8L564.4 246.6L564.5 250.5L564.6 251.5L564.7 250.1L564.8 249.6L564.8 252.3L564.9 247.1L565.1 248.8L565.2 247.4L565.2 246.5L565.3 246.1L565.3 246.3L565.5 247.7L565.6 248.8L565.7 253.7L565.7 255.4L565.8 255.1L566.0 256.2L566.0 255.8L566.1 259.3L566.2 262.9L566.2 263.0L566.4 265.0L566.5 264.6L566.5 261.9L566.6 261.2L566.7 262.5L566.9 261.7L566.9 262.3L567.0 263.2L567.1 266.1L567.1 267.0L567.3 264.6L567.4 266.4L567.4 266.4L567.5 264.6L567.6 264.4L567.8 264.7L567.8 264.7L567.9 263.3L567.9 261.0L568.0 258.9L568.2 255.5L568.3 256.6L568.3 257.0L568.4 256.0L568.5 257.1L568.6 256.7L568.7 255.3L568.8 251.4L568.8 253.9L568.9 254.2L569.1 256.5L569.1 261.3L569.2 264.3L569.3 263.1L569.3 266.2L569.5 266.0L569.6 266.1L569.7 264.9L569.7 265.7L569.8 267.0L570.0 270.2L570.0 273.5L570.1 274.1L570.2 273.6L570.2 273.8L570.4 277.2L570.5 275.9L570.5 274.2L570.6 272.4L570.7 272.2L570.9 270.7L570.9 273.1L571.0 275.4L571.1 275.8L571.1 275.3L571.3 273.4L571.4 270.9L571.4 269.9L571.5 267.4L571.6 265.6L571.8 266.3L571.8 267.6L571.9 271.1L571.9 271.1L572.0 271.4L572.2 274.7L572.3 279.6L572.3 282.6L572.4 285.1L572.4 284.8L572.6 285.3L572.7 285.3L572.8 289.3L572.8 291.2L572.9 291.8L573.1 294.3L573.1 293.8L573.2 291.1L573.3 289.0L573.3 289.6L573.5 287.5L573.6 287.6L573.7 287.1L573.7 286.2L573.8 284.6L574.0 281.0L574.0 278.0L574.1 278.8L574.2 275.1L574.2 277.7L574.4 280.3L574.5 278.8L574.5 275.6L574.6 275.9L574.7 275.9L574.9 276.7L574.9 274.9L575.0 272.4L575.0 272.2L575.1 272.9L575.3 273.5L575.4 272.7L575.4 272.7L575.5 273.0L575.6 271.9L575.7 270.5L575.8 268.7L575.9 266.0L575.9 269.1L576.0 270.2L576.2 266.4L576.3 265.8L576.3 265.0L576.4 264.6L576.4 265.0L576.6 264.2L576.7 265.8L576.8 267.0L576.8 264.9L576.9 267.1L577.1 271.1L577.1 273.0L577.2 273.1L577.3 272.6L577.3 272.2L577.5 272.8L577.6 272.2L577.7 271.8L577.7 271.3L577.8 273.5L578.0 276.8L578.0 275.5L578.1 277.1L578.2 277.5L578.2 277.4L578.4 277.5L578.5 276.3L578.5 275.9L578.6 275.6L578.7 276.9L578.9 272.3L578.9 267.5L579.0 262.1L579.0 257.0L579.1 257.3L579.3 256.6L579.4 255.7L579.4 253.1L579.5 251.5L579.6 252.9L579.7 251.0L579.8 244.8L579.9 242.3L579.9 239.2L580.0 230.8L580.2 232.4L580.3 232.6L580.3 235.6L580.4 233.6L580.4 232.3L580.6 230.0L580.7 232.2L580.8 232.5L580.8 232.5L580.9 232.8L581.1 236.9L581.1 241.4L581.2 244.2L581.3 246.9L581.3 251.4L581.5 253.1L581.6 251.9L581.6 256.0L581.7 256.8L581.8 257.0L582.0 254.8L582.0 253.7L582.1 250.7L582.2 251.0L582.2 250.8L582.4 251.0L582.5 253.5L582.5 255.5L582.6 256.2L582.7 254.5L582.9 252.3L582.9 253.7L583.0 255.2L583.0 256.3L583.1 256.3L583.3 256.4L583.4 256.0L583.4 255.4L583.5 254.9L583.6 256.1L583.7 257.1L583.8 261.7L583.9 260.2L583.9 262.0L584.0 262.7L584.2 262.9L584.2 262.6L584.3 262.4L584.4 261.6L584.4 261.3L584.6 259.7L584.7 260.3L584.8 258.3L584.8 257.8L584.9 258.0L585.1 261.2L585.1 261.4L585.2 261.5L585.3 262.5L585.3 266.7L585.5 270.4L585.6 270.8L585.6 268.3L585.7 265.4L585.8 265.2L586.0 264.9L586.0 262.6L586.1 259.9L586.2 256.6L586.2 255.2L586.4 256.2L586.5 258.8L586.5 257.3L586.6 254.5L586.7 253.8L586.9 251.4L586.9 252.2L587.0 252.7L587.0 252.8L587.1 252.6L587.3 253.2L587.4 253.9L587.4 255.2L587.5 255.2L587.5 257.8L587.7 261.6L587.8 262.6L587.9 264.8L587.9 260.9L588.0 258.2L588.2 252.5L588.2 248.1L588.3 241.8L588.4 239.7L588.4 237.9L588.6 240.7L588.7 234.2L588.8 228.5L588.8 221.3L588.9 211.6L589.1 209.3L589.1 204.4L589.2 196.7L589.3 192.7L589.3 187.6L589.5 182.3L589.6 212.2L589.6 212.4L589.7 212.6L589.8 214.0L590.0 211.0L590.0 210.4L590.1 210.3L590.2 211.6L590.2 213.9L590.4 216.4L590.5 218.9L590.5 221.3L590.6 222.0L590.7 222.1L590.8 221.6L590.9 220.9L591.0 221.0L591.0 220.6L591.1 219.6L591.3 218.1L591.4 214.8L591.4 213.3L591.5 211.8L591.5 213.8L591.7 216.1L591.8 218.1L591.9 219.5L591.9 223.2L592.0 222.6L592.2 222.9L592.2 227.2L592.3 231.8L592.4 232.2L592.4 235.0L592.6 235.9L592.7 236.5L592.8 235.7L592.8 232.6L592.9 232.9L593.1 232.7L593.1 231.2L593.2 229.3L593.3 223.8L593.3 220.9L593.5 219.3L593.6 220.2L593.6 220.2L593.7 218.9L593.8 221.9L594.0 219.2L594.0 218.5L594.1 224.4L594.1 224.0L594.2 225.0L594.4 225.4L594.5 225.6L594.5 225.9L594.6 223.9L594.7 224.4L594.8 224.7L594.9 224.1" fill="none" stroke="#1f77b4" stroke-width="1.9" stroke-linejoin="round" stroke-linecap="square"/><rect x="40.3" y="32" width="82.2" height="18.3" rx="2" ry="2" fill="#fff" fill-opacity="0.8" stroke="#ccc" stroke-width="0.9"/><path d="M44.4 41.2H66.1" stroke="#1f77b4" stroke-width="1.5" fill="none"/><text x="75.5" y="45.6" font-size="10.3px" fill="#000" textLength="41.2" lengthAdjust="spacingAndGlyphs" font-family="Liberation Sans, Noto Sans CJK SC, sans-serif">恒生指数</text><path d="M181.3 258.1L181.4 274.4M202.9 132.5L203.1 107.0M208.1 217.8L208.1 201.4M208.1 201.4L208.2 186.3M372.5 91.5L372.5 114.8M373.9 108.4L373.9 128.0M374.3 123.4L374.4 148.3M374.5 158.0L374.6 139.1M375.1 175.7L375.1 193.5M375.1 193.5L375.2 177.7M376.1 159.0L376.3 183.0M377.7 165.6L377.7 182.6M377.9 198.4L378.1 219.5M378.1 219.5L378.2 235.1M588.9 190.8L589.1 169.7M589.6 153.6L589.6 173.8" fill="none" stroke="#ff0000" stroke-width="1.5" stroke-dasharray="1.5 2.5"/><defs><path id="rl" d="M62.1 349.1L62.3 349.0L62.4 350.6L62.4 350.8L62.5 354.7L62.6 354.7L62.8 356.7L62.8 356.5L62.9 358.1L62.9 358.8L63.0 360.6L63.2 362.0L63.3 363.2L63.3 363.5L63.4 364.4L63.5 364.4L63.6 364.2L63.7 363.4L63.8 362.2L63.8 361.1L63.9 359.8L64.1 358.1L64.2 357.2L64.2 356.9L64.3 355.8L64.3 355.2L64.5 357.3L64.6 357.4L64.7 356.4L64.7 356.1L64.8 354.8L65.0 354.8L65.0 354.3L65.1 353.8L65.2 352.6L65.2 352.9L65.4 352.0L65.5 352.4L65.5 351.7L65.6 351.1L65.7 349.8L65.9 348.5L65.9 348.5L66.0 348.3L66.1 348.6L66.1 348.8L66.3 348.7L66.4 348.4L66.4 349.0L66.5 349.1L66.6 348.9L66.8 349.2L66.8 348.4L66.9 347.6L66.9 347.3L67.0 347.2L67.2 348.4L67.3 349.2L67.3 350.2L67.4 349.7L67.5 349.1L67.6 349.8L67.7 349.8L67.8 350.0L67.8 349.0L67.9 349.8L68.1 349.7L68.1 349.5L68.2 349.5L68.3 349.1L68.3 349.6L68.5 349.7L68.6 349.9L68.7 349.6L68.7 349.6L68.8 348.9L69.0 349.0L69.0 349.6L69.1 349.2L69.2 348.4L69.2 349.0L69.4 349.1L69.5 349.1L69.5 348.8L69.6 349.0L69.7 349.0L69.9 349.4L69.9 349.0L70.0 349.9L70.1 349.0L70.1 350.0L70.3 350.9L70.4 351.9L70.4 352.8L70.5 354.4L70.6 353.7L70.8 354.1L70.8 355.0L70.9 352.9L70.9 352.7L71.0 353.0L71.2 352.5L71.3 352.4L71.3 352.3L71.4 352.7L71.4 353.8L71.6 355.8L71.7 356.9L71.8 356.5L71.8 356.5L71.9 356.6L72.1 356.7L72.1 356.7L72.2 357.0L72.3 357.0L72.3 356.2L72.5 355.3L72.6 355.5L72.7 355.3L72.7 355.7L72.8 355.8L73.0 348.5L73.0 344.8L73.1 345.0L73.2 345.4L73.2 345.1L73.4 345.0L73.5 344.6L73.5 344.0L73.6 344.0L73.7 344.0L73.9 344.2L73.9 344.3L74.0 344.0L74.1 344.0L74.1 343.9L74.3 344.0L74.4 345.5L74.4 346.7L74.5 346.4L74.6 346.1L74.7 344.6L74.8 347.1L74.9 346.8L74.9 344.8L75.0 347.3L75.2 348.1L75.3 348.2L75.3 348.1L75.4 347.7L75.4 347.6L75.6 347.7L75.7 347.3L75.8 348.2L75.8 347.9L75.9 347.4L76.1 347.6L76.1 348.6L76.2 348.5L76.3 348.7L76.3 348.8L76.5 348.4L76.6 347.5L76.7 347.8L76.7 347.7L76.8 347.8L77.0 347.8L77.0 348.2L77.1 348.0L77.2 347.7L77.2 348.0L77.4 347.7L77.5 347.7L77.5 347.4L77.6 347.2L77.7 346.9L77.9 347.7L77.9 349.7L78.0 348.7L78.0 348.2L78.1 349.3L78.3 351.9L78.4 351.4L78.4 351.7L78.5 351.8L78.6 352.2L78.7 352.0L78.8 352.8L78.9 353.8L78.9 353.8L79.0 353.2L79.2 353.5L79.3 353.3L79.3 353.6L79.4 355.1L79.4 356.4L79.6 353.7L79.7 354.7L79.8 354.4L79.8 353.3L79.9 353.7L80.1 354.6L80.1 353.6L80.2 354.2L80.3 354.9L80.3 355.0L80.5 354.9L80.6 354.6L80.6 355.0L80.7 354.6L80.8 354.2L81.0 353.5L81.0 353.7L81.1 355.8L81.2 357.5L81.2 357.7L81.4 359.6L81.5 359.7L81.5 358.7L81.6 359.6L81.7 360.0L81.9 360.4L81.9 358.5L82.0 359.0L82.0 359.9L82.1 360.1L82.3 360.4L82.4 360.8L82.4 359.7L82.5 360.6L82.6 362.2L82.7 363.7L82.8 363.5L82.9 363.6L82.9 364.0L83.0 363.6L83.2 364.7L83.3 364.9L83.3 365.1L83.4 363.5L83.4 363.0L83.6 362.9L83.7 362.8L83.8 363.0L83.8 362.9L83.9 363.1L84.1 363.2L84.1 363.0L84.2 362.9L84.3 362.8L84.3 362.7L84.5 363.0L84.6 363.3L84.6 363.1L84.7 363.2L84.8 364.0L85.0 364.3L85.0 365.4L85.1 366.4L85.2 366.8L85.2 367.3L85.4 366.2L85.5 365.7L85.5 365.9L85.6 365.2L85.7 362.5L85.9 361.3L85.9 360.9L86.0 360.7L86.0 361.1L86.1 359.8L86.3 361.2L86.4 361.2L86.4 361.8L86.5 361.7L86.6 361.4L86.7 361.3L86.8 360.1L86.9 360.3L86.9 359.3L87.0 358.6L87.2 358.1L87.2 360.5L87.3 357.8L87.4 358.6L87.4 358.1L87.6 360.2L87.7 360.5L87.8 361.2L87.8 361.0L87.9 360.0L88.1 358.8L88.1 359.9L88.2 357.9L88.3 357.9L88.3 357.7L88.5 357.7L88.6 357.9L88.6 358.1L88.7 358.1L88.8 358.2L89.0 359.1L89.0 358.5L89.1 359.7L89.2 359.9L89.2 359.7L89.4 358.2L89.5 360.0L89.5 358.6L89.6 360.0L89.7 358.6L89.8 360.9L89.9 361.0L90.0 361.1L90.0 361.2L90.1 359.7L90.3 359.7L90.4 360.1L90.4 360.9L90.5 360.2L90.5 360.6L90.7 359.1L90.8 357.8L90.9 356.1L90.9 357.5L91.0 356.3L91.2 356.9L91.2 356.6L91.3 356.4L91.4 355.0L91.4 354.6L91.6 354.6L91.7 352.8L91.8 352.6L91.8 352.6L91.9 354.2L92.1 355.0L92.1 354.6L92.2 354.8L92.3 356.7L92.3 358.2L92.5 358.3L92.6 357.4L92.6 357.3L92.7 355.0L92.8 354.4L93.0 354.1L93.0 353.5L93.1 353.8L93.1 354.4L93.2 356.6L93.4 356.0L93.5 357.9L93.5 358.8L93.6 358.7L93.7 358.2L93.8 355.1L93.9 356.7L94.0 356.0L94.0 355.0L94.1 355.2L94.3 355.0L94.4 354.1L94.4 354.0L94.5 354.0L94.5 354.2L94.7 354.3L94.8 353.8L94.9 354.0L94.9 354.5L95.0 355.8L95.2 355.4L95.2 358.0L95.3 356.6L95.4 357.8L95.4 356.8L95.6 356.6L95.7 356.0L95.8 357.6L95.8 357.7L95.9 358.3L96.1 358.4L96.1 357.0L96.2 359.3L96.3 359.1L96.3 359.0L96.5 358.9L96.6 358.7L96.6 359.4L96.7 358.7L96.8 358.7L97.0 358.7L97.0 359.7L97.1 359.8L97.1 359.6L97.2 359.6L97.4 359.5L97.5 359.7L97.5 360.0L97.6 360.0L97.7 359.6L97.8 359.7L97.9 359.2L98.0 359.7L98.0 359.7L98.1 359.9L98.3 360.0L98.4 359.7L98.4 359.7L98.5 359.5L98.5 359.8L98.7 360.1L98.8 361.5L98.9 361.0L98.9 360.1L99.0 360.2L99.2 361.1L99.2 360.5L99.3 362.3L99.4 360.3L99.4 359.9L99.6 361.0L99.7 360.6L99.7 360.5L99.8 360.7L99.9 360.3L100.1 359.7L100.1 359.9L100.2 360.3L100.3 361.8L100.3 362.2L100.5 362.8L100.6 362.1L100.6 362.6L100.7 361.7L100.8 361.6L101.0 362.1L101.0 362.0L101.1 361.8L101.1 362.4L101.2 362.7L101.4 363.5L101.5 363.8L101.5 365.1L101.6 364.7L101.7 365.0L101.8 364.3L101.9 364.4L102.0 365.1L102.0 365.0L102.1 364.8L102.3 364.8L102.3 364.9L102.4 365.1L102.5 364.8L102.5 364.8L102.7 364.7L102.8 364.7L102.9 364.7L102.9 364.8L103.0 364.8L103.2 364.7L103.2 364.8L103.3 365.9L103.4 366.0L103.4 365.8L103.6 365.7L103.7 365.2L103.7 364.7L103.8 365.8L103.9 365.7L104.1 365.5L104.1 365.3L104.2 365.9L104.3 365.6L104.3 365.6L104.5 367.0L104.6 366.8L104.6 367.0L104.7 367.6L104.8 367.0L105.0 367.6L105.0 367.3L105.1 367.3L105.1 367.6L105.2 367.2L105.4 367.7L105.5 367.3L105.5 366.4L105.6 366.0L105.6 364.8L105.8 365.8L105.9 366.7L106.0 366.2L106.0 367.4L106.1 365.4L106.3 364.0L106.3 364.4L106.4 366.4L106.5 366.4L106.5 363.7L106.7 362.0L106.8 360.0L106.9 362.2L106.9 364.1L107.0 364.4L107.2 365.9L107.2 365.5L107.3 363.6L107.4 361.8L107.4 361.3L107.6 358.9L107.7 359.1L107.7 358.0L107.8 358.8L107.9 358.9L108.1 358.7L108.1 358.6L108.2 357.5L108.2 357.2L108.3 357.7L108.5 357.6L108.6 357.4L108.6 357.4L108.7 357.9L108.8 357.9L108.9 357.8L109.0 356.4L109.1 355.1L109.1 354.3L109.2 353.6L109.4 353.4L109.5 352.6L109.5 354.3L109.6 355.3L109.6 354.2L109.8 353.9L109.9 354.9L110.0 352.9L110.0 352.6L110.1 352.2L110.3 352.2L110.3 351.4L110.4 350.4L110.5 350.4L110.5 352.1L110.7 350.9L110.8 348.9L110.9 349.0L110.9 349.0L111.0 348.4L111.2 348.4L111.2 347.3L111.3 348.9L111.4 347.7L111.4 347.5L111.6 347.5L111.7 347.5L111.7 347.7L111.8 347.4L111.9 347.6L112.1 349.7L112.1 350.4L112.2 350.6L112.2 350.5L112.3 350.3L112.5 350.7L112.6 350.6L112.6 350.1L112.7 350.4L112.8 350.3L112.9 350.4L113.0 346.8L113.1 348.0L113.1 348.0L113.2 346.8L113.4 347.2L113.5 348.7L113.5 350.3L113.6 349.5L113.6 350.2L113.8 350.4L113.9 349.5L114.0 349.0L114.0 348.4L114.1 348.2L114.3 347.3L114.3 347.0L114.4 347.9L114.5 347.6L114.5 346.8L114.7 345.9L114.8 346.2L114.8 346.5L114.9 346.7L115.0 348.8L115.2 349.1L115.2 350.6L115.3 353.2L115.4 353.8L115.4 353.4L115.6 355.2L115.7 354.9L115.7 355.0L115.8 354.9L115.9 354.8L116.1 354.5L116.1 354.5L116.2 354.7L116.2 354.5L116.3 355.4L116.5 356.0L116.6 356.9L116.6 356.3L116.7 356.6L116.8 357.2L116.9 356.2L117.0 356.1L117.1 355.1L117.1 354.3L117.2 354.7L117.4 355.3L117.5 355.6L117.5 357.2L117.6 357.1L117.6 356.9L117.8 356.9L117.9 358.3L118.0 357.6L118.0 357.0L118.1 357.4L118.3 357.7L118.3 358.1L118.4 357.9L118.5 357.7L118.5 358.3L118.7 359.5L118.8 359.1L118.8 361.0L118.9 361.2L119.0 360.3L119.2 358.7L119.2 360.8L119.3 362.1L119.4 361.4L119.4 362.5L119.6 364.0L119.7 363.7L119.7 364.9L119.8 364.8L119.9 365.6L120.1 365.1L120.1 365.5L120.2 364.7L120.2 364.6L120.3 364.7L120.5 364.7L120.6 364.5L120.6 364.8L120.7 364.6L120.7 364.4L120.9 364.5L121.0 364.5L121.1 364.5L121.1 364.7L121.2 364.8L121.4 364.6L121.4 364.8L121.5 364.5L121.6 365.7L121.6 365.6L121.8 365.9L121.9 365.4L122.0 365.6L122.0 365.5L122.1 365.4L122.3 366.9L122.3 367.5L122.4 366.6L122.5 367.3L122.5 368.3L122.7 368.3L122.8 368.6L122.8 368.1L122.9 368.0L123.0 368.7L123.2 368.8L123.2 368.8L123.3 366.5L123.4 366.9L123.4 367.4L123.6 367.8L123.7 368.3L123.7 368.5L123.8 369.5L123.9 370.9L124.0 371.0L124.1 371.7L124.2 370.6L124.2 370.1L124.3 370.8L124.5 372.3L124.6 371.0L124.6 369.6L124.7 368.3L124.7 367.7L124.9 364.0L125.0 361.9L125.1 362.6L125.1 361.8L125.2 360.2L125.4 361.3L125.4 360.8L125.5 360.9L125.6 366.3L125.6 367.1L125.8 363.8L125.9 363.3L126.0 364.0L126.0 362.4L126.1 364.5L126.3 366.3L126.3 366.6L126.4 364.7L126.5 366.3L126.5 364.8L126.7 365.9L126.8 365.8L126.8 364.0L126.9 364.7L127.0 364.9L127.2 365.9L127.2 367.6L127.3 367.1L127.3 367.0L127.4 367.6L127.6 367.2L127.7 367.2L127.7 366.0L127.8 367.8L127.9 368.1L128.0 368.4L128.1 368.0L128.2 367.9L128.2 367.2L128.3 366.5L128.5 365.2L128.6 364.0L128.6 364.0L128.7 364.7L128.7 364.7L128.9 364.2L129.0 365.1L129.1 366.1L129.1 365.8L129.2 367.2L129.4 366.7L129.4 367.0L129.5 367.1L129.6 370.3L129.6 370.0L129.8 367.6L129.9 369.1L129.9 369.8L130.0 369.1L130.1 369.8L130.3 367.9L130.3 367.8L130.4 370.0L130.5 369.1L130.5 370.2L130.7 369.2L130.8 370.4L130.8 371.5L130.9 372.4L131.0 372.0L131.2 370.0L131.2 371.1L131.3 372.2L131.3 372.2L131.4 372.3L131.6 372.2L131.7 372.3L131.7 372.7L131.8 371.8L131.9 372.0L132.0 371.9L132.1 372.1L132.2 372.1L132.2 371.3L132.3 371.8L132.5 372.1L132.6 372.1L132.6 372.7L132.7 374.3L132.7 375.1L132.9 374.1L133.0 373.3L133.1 374.4L133.1 375.1L133.2 374.7L133.4 375.3L133.4 374.5L133.5 373.3L133.6 372.6L133.6 371.9L133.8 373.1L133.9 374.3L133.9 375.2L134.0 375.5L134.1 373.1L134.3 372.6L134.3 370.8L134.4 371.2L134.5 372.1L134.5 369.9L134.7 371.5L134.8 371.7L134.8 369.8L134.9 369.5L135.0 369.6L135.2 369.7L135.2 369.8L135.3 370.0L135.3 371.4L135.4 371.7L135.6 371.7L135.7 371.7L135.7 370.8L135.8 370.9L135.9 372.7L136.0 372.0L136.1 372.9L136.2 371.4L136.2 373.6L136.3 373.3L136.5 372.2L136.5 373.7L136.6 373.0L136.7 372.4L136.7 372.9L136.9 373.5L137.0 373.1L137.1 373.5L137.1 375.7L137.2 376.0L137.4 375.5L137.4 375.6L137.5 376.9L137.6 376.2L137.6 377.1L137.8 377.2L137.9 376.2L137.9 377.1L138.0 376.4L138.1 377.3L138.3 377.5L138.3 377.7L138.4 377.5L138.5 377.2L138.5 377.1L138.7 377.1L138.8 377.1L138.8 376.7L138.9 376.6L139.0 377.0L139.2 377.9L139.2 378.6L139.3 378.6L139.3 379.7L139.4 379.6L139.6 378.7L139.7 380.2L139.7 379.0L139.8 378.7L139.8 380.8L140.0 380.8L140.1 380.8L140.2 381.9L140.2 382.1L140.3 382.5L140.5 382.7L140.5 382.7L140.6 382.6L140.7 382.3L140.7 381.8L140.9 382.1L141.0 382.4L141.1 383.3L141.1 383.3L141.2 384.4L141.4 382.7L141.4 380.8L141.5 379.0L141.6 378.9L141.6 379.4L141.8 378.8L141.9 378.6L141.9 378.9L142.0 380.7L142.1 381.4L142.3 380.7L142.3 381.1L142.4 380.5L142.4 381.1L142.5 380.5L142.7 381.0L142.8 382.7L142.8 382.5L142.9 382.9L143.0 383.9L143.1 383.2L143.2 383.6L143.3 383.9L143.3 383.4L143.4 383.2L143.6 383.7L143.7 383.8L143.7 383.7L143.8 382.7L143.8 383.1L144.0 382.8L144.1 382.4L144.2 382.6L144.2 381.6L144.3 380.7L144.5 381.5L144.5 381.1L144.6 381.6L144.7 380.4L144.7 380.4L144.9 380.2L145.0 380.1L145.1 380.4L145.1 378.4L145.2 378.1L145.4 376.7L145.4 377.1L145.5 378.1L145.6 377.1L145.6 376.7L145.8 376.5L145.9 375.7L145.9 374.5L146.0 374.3L146.1 375.0L146.3 375.3L146.3 375.2L146.4 375.4L146.4 375.2L146.5 375.2L146.7 375.2L146.8 374.3L146.8 374.1L146.9 373.4L147.0 373.2L147.1 373.8L147.2 374.0L147.3 374.0L147.3 374.0L147.4 373.9L147.6 373.6L147.7 373.5L147.7 373.4L147.8 373.8L147.8 374.2L148.0 375.0L148.1 375.0L148.2 376.3L148.2 377.1L148.3 377.6L148.5 378.5L148.5 378.8L148.6 380.6L148.7 379.8L148.7 380.4L148.9 379.3L149.0 379.8L149.0 380.1L149.1 380.4L149.2 380.2L149.4 379.4L149.4 379.6L149.5 379.4L149.6 381.2L149.6 379.7L149.8 380.6L149.9 381.6L149.9 380.4L150.0 380.2L150.1 380.6L150.3 381.5L150.3 380.6L150.4 381.4L150.4 381.2L150.5 381.7L150.7 381.4L150.8 380.9L150.8 380.7L150.9 380.9L151.0 380.9L151.1 381.2L151.2 380.8L151.3 380.9L151.3 381.4L151.4 382.0L151.6 381.8L151.6 381.9L151.7 381.1L151.8 380.8L151.8 381.7L152.0 381.8L152.1 381.9L152.2 381.6L152.2 380.8L152.3 380.9L152.5 381.4L152.5 381.3L152.6 381.0L152.7 380.8L152.7 381.1L152.9 380.3L153.0 381.3L153.0 381.1L153.1 380.3L153.2 380.7L153.4 380.9L153.4 380.5L153.5 380.0L153.6 380.3L153.6 379.2L153.8 379.0L153.9 379.6L153.9 377.8L154.0 377.2L154.1 377.3L154.3 377.3L154.3 377.9L154.4 377.6L154.4 377.9L154.5 377.5L154.7 377.3L154.8 377.2L154.8 376.9L154.9 376.9L154.9 377.4L155.1 375.8L155.2 375.3L155.3 374.7L155.3 375.0L155.4 374.5L155.6 372.6L155.6 372.9L155.7 372.6L155.8 373.7L155.8 373.2L156.0 373.0L156.1 372.7L156.2 371.6L156.2 371.2L156.3 370.8L156.5 370.3L156.5 368.9L156.6 370.3L156.7 370.5L156.7 370.3L156.9 370.0L157.0 369.7L157.0 368.7L157.1 369.1L157.2 368.8L157.4 368.6L157.4 368.6L157.5 368.8L157.6 368.8L157.6 369.4L157.8 368.5L157.9 368.5L157.9 368.2L158.0 368.7L158.1 369.1L158.2 368.8L158.3 368.9L158.4 369.1L158.4 369.1L158.5 369.1L158.7 368.4L158.8 368.6L158.8 369.0L158.9 368.1L158.9 369.4L159.1 369.3L159.2 369.7L159.3 370.2L159.3 369.3L159.4 368.2L159.6 368.1L159.6 368.4L159.7 368.1L159.8 368.5L159.8 368.3L160.0 368.1L160.1 367.8L160.2 368.1L160.2 368.9L160.3 368.3L160.5 367.7L160.5 368.0L160.6 368.4L160.7 366.9L160.7 367.3L160.9 366.2L161.0 364.6L161.0 363.5L161.1 365.9L161.2 366.6L161.4 367.2L161.4 367.0L161.5 366.4L161.5 365.3L161.6 363.5L161.8 362.0L161.9 363.2L161.9 362.0L162.0 361.1L162.1 360.9L162.2 360.7L162.3 359.8L162.4 359.0L162.4 357.1L162.5 355.6L162.7 355.9L162.8 354.9L162.8 355.3L162.9 351.9L162.9 349.3L163.1 348.8L163.2 348.3L163.3 346.5L163.3 345.5L163.4 345.3L163.6 345.3L163.6 347.1L163.7 345.0L163.8 345.3L163.8 347.0L164.0 347.0L164.1 348.1L164.1 346.3L164.2 345.7L164.3 345.4L164.5 346.4L164.5 348.2L164.6 350.8L164.7 351.9L164.7 353.2L164.9 352.6L165.0 353.6L165.0 354.8L165.1 353.3L165.2 353.8L165.4 353.6L165.4 351.2L165.5 351.8L165.5 350.3L165.6 348.1L165.8 348.0L165.9 347.5L165.9 348.3L166.0 347.5L166.1 345.3L166.2 345.2L166.3 345.7L166.4 345.4L166.4 346.3L166.5 346.0L166.7 347.0L166.8 345.8L166.8 345.3L166.9 345.2L166.9 346.4L167.1 350.5L167.2 348.4L167.3 348.6L167.3 350.6L167.4 350.9L167.6 350.2L167.6 351.6L167.7 351.9L167.8 352.5L167.8 353.1L168.0 355.4L168.1 354.4L168.1 355.1L168.2 354.3L168.3 356.0L168.5 356.9L168.5 356.0L168.6 354.8L168.7 356.5L168.7 356.7L168.9 357.0L169.0 357.1L169.0 355.7L169.1 356.1L169.2 355.9L169.4 352.7L169.4 354.1L169.5 353.2L169.5 352.0L169.6 351.3L169.8 353.7L169.9 352.8L169.9 350.9L170.0 349.5L170.1 349.1L170.2 348.9L170.3 348.6L170.4 349.2L170.4 348.4L170.5 346.2L170.7 346.4L170.7 345.9L170.8 346.4L170.9 347.1L170.9 346.8L171.1 345.8L171.2 348.5L171.3 348.2L171.3 346.1L171.4 348.2L171.6 346.0L171.6 346.2L171.7 346.2L171.8 345.5L171.8 345.4L172.0 344.2L172.1 345.8L172.1 345.5L172.2 345.5L172.3 345.3L172.5 344.2L172.5 342.5L172.6 343.2L172.7 342.8L172.7 342.2L172.9 342.2L173.0 342.5L173.0 340.9L173.1 341.8L173.2 342.5L173.3 341.1L173.4 340.9L173.5 340.6L173.5 340.7L173.6 342.1L173.8 341.3L173.9 341.4L173.9 341.4L174.0 339.9L174.0 339.0L174.2 338.5L174.3 337.0L174.4 337.7L174.4 337.4L174.5 334.7L174.7 332.0L174.7 332.2L174.8 332.8L174.9 332.0L174.9 332.1L175.1 331.5L175.2 330.4L175.3 329.6L175.3 329.4L175.4 328.0L175.6 327.9L175.6 326.0L175.7 324.9L175.8 324.3L175.8 322.9L176.0 322.1L176.1 320.6L176.1 319.1L176.2 319.4L176.3 316.4L176.5 313.7L176.5 313.9L176.6 315.3L176.6 312.9L176.7 314.5L176.9 313.2L177.0 311.0L177.0 310.6L177.1 309.6L177.2 308.2L177.3 308.3L177.4 306.7L177.5 306.2L177.5 304.4L177.6 302.4L177.8 301.4L177.9 298.2L177.9 295.9L178.0 295.5L178.0 292.8L178.2 293.4L178.3 291.4L178.4 289.1L178.4 285.1L178.5 285.7L178.7 284.8L178.7 283.7L178.8 280.2L178.9 279.0L178.9 276.2L179.1 274.3L179.2 272.7L179.3 270.2L179.3 273.6L179.4 274.6L179.6 278.3L179.6 279.3L179.7 283.2L179.8 284.8L179.8 289.5L180.0 291.7L180.1 290.8L180.1 288.4L180.2 287.1L180.3 284.4L180.5 284.0L180.5 280.2L180.6 277.0L180.6 277.8L180.7 276.1L180.9 271.0L181.0 268.1L181.0 264.2L181.1 264.1L181.2 261.8L181.3 258.1M181.4 274.4L181.5 274.4L181.5 274.7L181.6 274.7L181.8 273.4L181.9 273.4L181.9 267.4L182.0 267.1L182.0 265.5L182.2 266.6L182.3 266.3L182.4 266.6L182.4 262.9L182.5 265.1L182.7 264.1L182.7 260.1L182.8 262.6L182.9 259.1L182.9 253.6L183.1 253.8L183.2 254.1L183.2 254.1L183.3 254.3L183.4 252.8L183.6 252.0L183.6 249.2L183.7 248.3L183.8 246.9L183.8 249.3L184.0 244.1L184.1 239.7L184.1 239.2L184.2 237.1L184.3 235.0L184.5 238.1L184.5 235.6L184.6 232.2L184.6 231.3L184.7 228.7L184.9 223.2L185.0 218.6L185.0 215.7L185.1 210.5L185.2 204.1L185.3 200.4L185.4 199.6L185.5 197.1L185.5 194.1L185.6 194.1L185.8 193.7L185.8 192.6L185.9 192.3L186.0 184.0L186.0 182.7L186.2 179.2L186.3 180.7L186.4 175.5L186.4 174.1L186.5 167.8L186.7 170.1L186.7 165.8L186.8 165.9L186.9 164.8L186.9 165.2L187.1 162.7L187.2 159.4L187.2 172.3L187.3 186.5L187.4 194.9L187.6 203.7L187.6 199.1L187.7 197.1L187.8 196.1L187.8 189.4L188.0 188.9L188.1 184.8L188.1 175.4L188.2 168.9L188.3 165.9L188.5 159.2L188.5 154.0L188.6 160.5L188.6 165.7L188.7 170.3L188.9 175.8L189.0 174.2L189.0 178.4L189.1 185.4L189.1 188.4L189.3 190.6L189.4 194.5L189.5 198.9L189.5 201.7L189.6 200.3L189.8 194.7L189.8 189.8L189.9 185.1L190.0 184.0L190.0 180.7L190.2 175.5L190.3 171.2L190.4 166.8L190.4 165.6L190.5 166.3L190.7 160.0L190.7 154.2L190.8 156.2L190.9 150.0L190.9 148.8L191.1 144.0L191.2 139.9L191.2 137.9L191.3 135.9L191.4 129.1L191.6 122.0L191.6 124.0L191.7 119.0L191.7 120.2L191.8 119.2L192.0 119.3L192.1 112.8L192.1 108.3L192.2 106.0L192.3 103.6L192.4 104.9L192.5 100.6L192.6 96.1L192.6 91.8L192.7 91.9L192.9 92.0L193.0 90.4L193.0 87.3L193.1 85.4L193.1 83.5L193.3 81.9L193.4 82.3L193.5 80.4L193.5 77.4L193.6 75.2L193.8 68.7L193.8 68.6L193.9 74.3L194.0 67.2L194.0 64.3L194.2 64.1L194.3 66.3L194.4 65.8L194.4 65.1L194.5 65.4L194.7 65.8L194.7 66.4L194.8 69.3L194.9 63.7L194.9 64.7L195.1 64.5L195.2 64.1L195.2 62.2L195.3 59.7L195.4 56.3L195.6 55.8L195.6 49.7L195.7 45.9L195.7 52.4L195.8 51.7L196.0 46.0L196.1 44.8L196.1 46.9L196.2 53.3L196.3 61.8L196.4 64.1L196.5 69.0L196.6 73.9L196.6 80.2L196.7 74.1L196.9 68.2L197.0 61.3L197.0 57.5L197.1 63.7L197.1 72.5L197.3 73.7L197.4 87.6L197.5 85.5L197.5 92.3L197.6 98.3L197.8 105.0L197.8 106.7L197.9 108.3L198.0 104.5L198.0 107.9L198.2 120.4L198.3 123.3L198.3 126.6L198.4 121.3L198.5 116.4L198.7 117.8L198.7 122.2L198.8 127.2L198.9 122.7L198.9 118.9L199.1 116.0L199.2 113.6L199.2 110.8L199.3 106.4L199.4 101.4L199.6 101.1L199.6 95.6L199.7 99.7L199.7 103.7L199.8 107.4L200.0 112.8L200.1 117.1L200.1 113.2L200.2 110.5L200.3 102.8L200.4 104.7L200.5 97.4L200.6 92.8L200.6 86.5L200.7 81.0L200.9 80.7L200.9 79.0L201.0 78.0L201.1 72.9L201.1 66.7L201.3 60.0L201.4 61.1L201.5 65.2L201.5 58.4L201.6 53.8L201.8 54.6L201.8 68.6L201.9 76.2L202.0 89.0L202.0 101.4L202.2 109.3L202.3 120.5L202.3 119.7L202.4 120.1L202.5 119.7L202.7 121.5L202.7 124.1L202.8 126.7L202.9 129.2L202.9 132.5M203.1 107.0L203.2 106.6L203.2 106.5L203.3 114.2L203.4 116.3L203.6 110.9L203.6 107.7L203.7 114.4L203.7 121.1L203.8 123.9L204.0 126.5L204.1 120.3L204.1 131.5L204.2 135.2L204.2 136.2L204.4 135.9L204.5 132.4L204.6 130.1L204.6 129.2L204.7 125.6L204.9 128.6L204.9 131.4L205.0 136.8L205.1 138.8L205.1 140.9L205.3 141.1L205.4 154.9L205.5 160.4L205.5 165.8L205.6 170.0L205.8 173.5L205.8 177.8L205.9 179.9L206.0 178.7L206.0 181.5L206.2 181.1L206.3 183.2L206.3 185.4L206.4 186.3L206.5 185.6L206.7 184.9L206.7 187.4L206.8 189.6L206.9 190.7L206.9 194.3L207.1 199.1L207.2 200.9L207.2 205.0L207.3 207.4L207.4 207.6L207.5 208.9L207.6 212.1L207.7 213.1L207.7 215.9L207.8 219.8L208.0 218.7L208.1 217.8M208.2 186.3L208.2 183.3L208.4 181.6L208.5 178.6L208.6 177.8L208.6 175.3L208.7 169.3L208.9 167.5L208.9 171.4L209.0 172.3L209.1 179.1L209.1 175.3L209.3 182.3L209.4 180.8L209.5 178.4L209.5 184.7L209.6 187.6L209.8 186.5L209.8 186.9L209.9 192.5L210.0 193.3L210.0 192.1L210.2 192.9L210.3 195.7L210.3 196.5L210.4 195.9L210.5 196.9L210.7 198.5L210.7 204.3L210.8 208.5L210.8 209.2L210.9 211.3L211.1 220.5L211.2 226.6L211.2 231.0L211.3 234.6L211.4 235.8L211.5 239.1L211.6 241.7L211.7 242.7L211.7 243.6L211.8 247.0L212.0 246.8L212.1 249.9L212.1 250.3L212.2 249.5L212.2 252.2L212.4 251.9L212.5 251.9L212.6 251.3L212.6 251.1L212.7 252.6L212.9 253.1L212.9 250.4L213.0 252.2L213.1 249.9L213.1 252.3L213.3 249.0L213.4 247.2L213.4 246.0L213.5 246.9L213.6 247.3L213.8 244.2L213.8 246.1L213.9 243.7L214.0 242.9L214.0 243.0L214.2 241.3L214.3 243.9L214.3 245.9L214.4 248.6L214.5 254.1L214.7 259.6L214.7 261.2L214.8 258.0L214.8 260.4L214.9 267.2L215.1 270.3L215.2 273.9L215.2 276.3L215.3 278.3L215.4 281.0L215.5 283.6L215.6 283.7L215.7 282.5L215.7 283.8L215.8 282.6L216.0 280.7L216.1 281.9L216.1 281.3L216.2 280.4L216.2 278.8L216.4 282.8L216.5 285.2L216.6 289.2L216.6 291.3L216.7 293.2L216.9 295.0L216.9 299.4L217.0 300.8L217.1 303.2L217.1 306.8L217.3 305.9L217.4 308.4L217.4 309.7L217.5 311.9L217.6 307.2L217.8 302.8L217.8 297.5L217.9 290.4L218.0 283.0L218.0 284.7L218.2 286.7L218.3 289.0L218.3 289.3L218.4 294.8L218.5 298.5L218.7 300.3L218.7 302.5L218.8 304.2L218.8 306.2L218.9 309.3L219.1 310.3L219.2 312.7L219.2 316.0L219.3 317.0L219.4 321.1L219.5 321.2L219.6 322.4L219.7 323.7L219.7 324.7L219.8 326.7L220.0 328.5L220.0 328.6L220.1 328.7L220.2 328.4L220.2 328.6L220.4 329.2L220.5 330.2L220.6 328.3L220.6 325.1L220.7 322.1L220.9 318.1L220.9 316.7L221.0 313.9L221.1 312.2L221.1 308.5L221.3 308.2L221.4 308.8L221.4 308.9L221.5 308.8L221.6 305.5L221.8 303.7L221.8 304.2L221.9 302.9L222.0 301.2L222.0 304.0L222.2 304.5L222.3 302.7L222.3 302.6L222.4 302.4L222.5 300.3L222.6 299.0L222.7 298.4L222.8 299.4L222.8 300.0L222.9 300.5L223.1 303.2L223.2 304.0L223.2 308.1L223.3 308.1L223.3 309.7L223.5 308.2L223.6 309.0L223.7 311.4L223.7 312.0L223.8 313.9L224.0 315.4L224.0 316.2L224.1 317.4L224.2 315.9L224.2 315.3L224.4 314.7L224.5 313.7L224.6 310.2L224.6 310.6L224.7 310.9L224.9 309.8L224.9 309.8L225.0 308.5L225.1 306.9L225.1 307.3L225.3 305.0L225.4 303.5L225.4 303.9L225.5 303.4L225.6 300.4L225.8 299.0L225.8 296.7L225.9 294.2L225.9 293.9L226.0 292.8L226.2 292.9L226.3 291.3L226.3 291.8L226.4 287.1L226.5 286.1L226.6 284.6L226.7 282.9L226.8 279.0L226.8 278.5L226.9 277.7L227.1 275.7L227.2 278.7L227.2 278.7L227.3 281.0L227.3 281.9L227.5 285.0L227.6 284.4L227.7 286.3L227.7 284.9L227.8 289.5L228.0 291.5L228.0 294.1L228.1 292.1L228.2 292.1L228.2 289.7L228.4 292.2L228.5 289.8L228.6 292.7L228.6 285.8L228.7 281.4L228.9 283.1L228.9 282.7L229.0 284.0L229.1 282.4L229.1 280.2L229.3 283.5L229.4 284.4L229.4 280.7L229.5 277.1L229.6 275.1L229.8 272.3L229.8 271.1L229.9 271.2L229.9 269.6L230.0 271.4L230.2 268.2L230.3 267.0L230.3 268.4L230.4 267.3L230.5 267.2L230.6 269.7L230.7 268.2L230.8 271.4L230.8 270.1L230.9 267.7L231.1 269.2L231.2 266.6L231.2 265.8L231.3 266.1L231.3 267.3L231.5 265.9L231.6 265.3L231.7 264.4L231.7 263.4L231.8 262.7L232.0 263.2L232.0 263.2L232.1 263.9L232.2 264.3L232.2 264.1L232.4 262.0L232.5 263.1L232.5 263.7L232.6 262.6L232.7 262.6L232.9 263.9L232.9 262.3L233.0 257.8L233.1 257.1L233.1 258.1L233.3 255.1L233.4 253.8L233.4 254.1L233.5 254.4L233.6 252.5L233.8 252.1L233.8 251.2L233.9 249.8L233.9 248.4L234.0 246.4L234.2 242.7L234.3 240.4L234.3 238.0L234.4 239.1L234.5 238.3L234.6 236.6L234.7 235.6L234.8 235.3L234.8 230.8L234.9 235.3L235.1 233.9L235.1 230.7L235.2 228.4L235.3 226.0L235.3 226.2L235.5 226.8L235.6 226.8L235.7 225.1L235.7 222.6L235.8 221.7L236.0 224.4L236.0 222.8L236.1 224.7L236.2 221.4L236.2 218.1L236.4 217.2L236.5 216.2L236.5 219.1L236.6 215.8L236.7 207.9L236.9 206.3L236.9 203.7L237.0 201.4L237.1 195.7L237.1 192.6L237.3 194.2L237.4 193.2L237.4 189.9L237.5 189.8L237.6 188.7L237.8 185.1L237.8 192.2L237.9 197.4L237.9 197.7L238.0 204.3L238.2 208.8L238.3 219.7L238.3 222.9L238.4 227.8L238.4 229.6L238.6 230.2L238.7 235.5L238.8 240.0L238.8 241.8L238.9 242.8L239.1 242.1L239.1 239.5L239.2 239.5L239.3 242.3L239.3 245.5L239.5 249.4L239.6 246.7L239.7 244.8L239.7 239.6L239.8 238.9L240.0 239.2L240.0 239.7L240.1 235.5L240.2 228.4L240.2 222.7L240.4 222.6L240.5 222.1L240.5 221.8L240.6 216.5L240.7 221.0L240.9 223.0L240.9 222.3L241.0 227.2L241.1 228.5L241.1 232.8L241.3 236.2L241.4 240.7L241.4 239.2L241.5 235.0L241.6 235.0L241.7 230.7L241.8 228.1L241.9 227.0L241.9 226.0L242.0 223.4L242.2 222.9L242.3 217.1L242.3 216.6L242.4 217.9L242.4 211.5L242.6 218.3L242.7 217.1L242.8 214.2L242.8 212.5L242.9 211.1L243.1 207.8L243.1 206.4L243.2 200.3L243.3 202.7L243.3 203.5L243.5 200.4L243.6 201.7L243.7 201.2L243.7 199.4L243.8 198.6L244.0 203.6L244.0 206.4L244.1 203.0L244.2 195.1L244.2 197.3L244.4 195.1L244.5 194.3L244.5 194.3L244.6 194.1L244.7 195.3L244.9 195.0L244.9 201.1L245.0 205.9L245.0 208.0L245.1 212.5L245.3 211.0L245.4 207.3L245.4 207.1L245.5 199.6L245.6 197.2L245.7 193.7L245.8 196.7L245.9 201.0L245.9 206.6L246.0 209.2L246.2 207.1L246.3 207.8L246.3 213.2L246.4 215.0L246.4 218.2L246.6 218.1L246.7 217.8L246.8 214.7L246.8 209.6L246.9 205.5L247.1 203.3L247.1 201.9L247.2 201.4L247.3 199.4L247.3 198.3L247.5 199.9L247.6 198.0L247.6 198.0L247.7 197.9L247.8 199.2L248.0 198.4L248.0 197.9L248.1 197.8L248.2 197.3L248.2 198.0L248.4 199.0L248.5 202.0L248.5 205.8L248.6 209.9L248.7 213.9L248.9 216.9L248.9 222.7L249.0 224.6L249.0 224.6L249.1 224.3L249.3 225.0L249.4 225.6L249.4 227.6L249.5 228.8L249.6 227.6L249.7 227.4L249.8 227.9L249.9 227.4L249.9 226.4L250.0 224.7L250.2 228.5L250.3 229.5L250.3 229.0L250.4 228.8L250.4 225.6L250.6 226.5L250.7 228.2L250.8 227.3L250.8 226.0L250.9 229.0L251.1 224.8L251.1 227.6L251.2 226.5L251.3 227.8L251.3 222.3L251.5 223.7L251.6 224.2L251.6 228.2L251.7 228.5L251.8 229.1L252.0 228.5L252.0 226.0L252.1 229.5L252.2 228.5L252.2 228.7L252.4 227.1L252.5 224.3L252.5 225.2L252.6 222.7L252.7 220.2L252.9 217.1L252.9 216.8L253.0 214.8L253.0 215.3L253.1 213.6L253.3 212.5L253.4 215.0L253.4 216.0L253.5 215.2L253.5 210.5L253.7 210.5L253.8 210.7L253.9 211.1L253.9 218.9L254.0 223.1L254.2 226.2L254.2 227.2L254.3 228.6L254.4 227.8L254.4 233.8L254.6 236.1L254.7 237.4L254.8 239.5L254.8 238.2L254.9 241.7L255.1 239.0L255.1 242.3L255.2 243.5L255.3 242.3L255.3 239.7L255.5 244.0L255.6 245.9L255.6 244.0L255.7 244.6L255.8 247.0L256.0 248.5L256.0 251.4L256.1 253.0L256.2 254.8L256.2 253.6L256.4 253.5L256.5 255.5L256.5 253.6L256.6 253.5L256.7 253.5L256.8 253.2L256.9 257.3L257.0 258.0L257.0 257.8L257.1 259.0L257.3 260.2L257.4 259.4L257.4 259.6L257.5 257.8L257.5 259.0L257.7 263.5L257.8 265.7L257.9 263.0L257.9 262.3L258.0 263.6L258.2 262.9L258.2 262.2L258.3 263.1L258.4 262.3L258.4 264.9L258.6 266.2L258.7 266.3L258.8 267.3L258.8 269.0L258.9 269.5L259.1 274.0L259.1 273.5L259.2 271.3L259.3 269.6L259.3 269.1L259.5 271.5L259.6 270.7L259.6 269.6L259.7 266.3L259.8 266.4L260.0 267.6L260.0 261.3L260.1 256.3L260.1 256.7L260.2 254.4L260.4 248.3L260.5 249.0L260.5 247.5L260.6 247.7L260.7 246.8L260.8 246.8L260.9 246.0L261.0 246.0L261.0 247.9L261.1 247.6L261.3 246.7L261.4 244.3L261.4 244.3L261.5 243.4L261.5 244.0L261.7 244.8L261.8 246.0L261.9 244.6L261.9 243.8L262.0 244.1L262.2 244.2L262.2 243.8L262.3 243.9L262.4 244.3L262.4 244.4L262.6 244.1L262.7 244.5L262.8 246.2L262.8 246.5L262.9 246.6L263.1 246.5L263.1 246.3L263.2 246.7L263.3 245.2L263.3 243.8L263.5 243.6L263.6 244.5L263.6 247.3L263.7 246.5L263.8 246.6L264.0 246.9L264.0 246.4L264.1 246.3L264.1 243.9L264.2 243.5L264.4 244.2L264.5 245.0L264.5 246.0L264.6 245.6L264.7 244.4L264.8 242.4L264.9 241.3L265.0 237.3L265.0 236.3L265.1 235.0L265.3 232.2L265.4 230.9L265.4 229.0L265.5 225.3L265.5 223.1L265.7 224.7L265.8 220.3L265.9 216.7L265.9 211.7L266.0 210.1L266.2 205.7L266.2 206.3L266.3 206.2L266.4 206.3L266.4 206.8L266.6 203.3L266.7 202.1L266.7 206.0L266.8 206.1L266.9 203.5L267.1 201.2L267.1 205.4L267.2 207.6L267.3 214.9L267.3 217.0L267.5 223.7L267.6 226.6L267.6 226.3L267.7 226.1L267.8 226.6L268.0 226.0L268.0 229.1L268.1 230.2L268.1 229.4L268.2 229.3L268.4 229.3L268.5 228.8L268.5 228.4L268.6 227.6L268.7 226.0L268.8 227.8L268.9 226.4L269.0 222.5L269.0 223.2L269.1 220.0L269.3 220.5L269.3 220.5L269.4 220.2L269.5 220.3L269.5 220.3L269.7 220.2L269.8 221.4L269.9 226.6L269.9 229.9L270.0 226.8L270.2 225.5L270.2 229.1L270.3 228.1L270.4 229.6L270.4 229.4L270.6 229.4L270.7 229.1L270.7 230.5L270.8 230.6L270.9 234.5L271.1 234.2L271.1 236.2L271.2 232.8L271.3 234.1L271.3 234.9L271.5 239.6L271.6 240.2L271.6 241.2L271.7 242.2L271.8 241.1L272.0 240.4L272.0 242.0L272.1 241.4L272.1 242.3L272.2 242.0L272.4 240.6L272.5 237.6L272.5 236.2L272.6 237.9L272.6 237.3L272.8 238.4L272.9 234.2L273.0 231.3L273.0 234.2L273.1 234.9L273.3 228.6L273.3 229.5L273.4 230.0L273.5 233.0L273.5 225.6L273.7 221.5L273.8 221.3L273.9 223.6L273.9 221.4L274.0 221.6L274.2 221.9L274.2 218.2L274.3 219.5L274.4 220.3L274.4 220.8L274.6 215.5L274.7 215.5L274.7 215.8L274.8 215.2L274.9 215.7L275.1 215.1L275.1 215.2L275.2 216.5L275.2 215.4L275.3 215.8L275.5 223.7L275.6 223.5L275.6 222.4L275.7 219.5L275.8 219.8L275.9 222.5L276.0 223.4L276.1 223.3L276.1 223.0L276.2 220.6L276.4 221.3L276.5 222.5L276.5 219.7L276.6 216.4L276.6 217.3L276.8 216.1L276.9 213.3L277.0 213.5L277.0 213.7L277.1 213.9L277.3 215.4L277.3 214.5L277.4 213.7L277.5 213.7L277.5 217.3L277.7 218.2L277.8 219.3L277.9 219.6L277.9 224.8L278.0 225.1L278.2 227.6L278.2 231.2L278.3 233.1L278.4 228.8L278.4 227.6L278.6 228.7L278.7 229.4L278.7 229.6L278.8 226.9L278.9 229.9L279.1 233.9L279.1 235.4L279.2 235.6L279.2 234.3L279.3 236.9L279.5 237.9L279.6 238.3L279.6 238.8L279.7 238.3L279.8 238.3L279.9 238.4L280.0 237.9L280.1 240.4L280.1 237.7L280.2 236.8L280.4 237.0L280.5 240.9L280.5 241.9L280.6 245.4L280.6 246.7L280.8 246.7L280.9 246.8L281.0 245.7L281.0 245.3L281.1 244.0L281.3 246.0L281.3 243.7L281.4 243.7L281.5 239.8L281.5 237.0L281.7 234.6L281.8 236.8L281.8 235.9L281.9 235.0L282.0 234.8L282.2 234.7L282.2 234.9L282.3 235.3L282.4 235.1L282.4 235.4L282.6 230.5L282.7 233.2L282.7 230.7L282.8 231.8L282.9 229.4L283.1 230.0L283.1 229.8L283.2 229.9L283.2 230.0L283.3 238.7L283.5 237.0L283.6 240.1L283.6 239.9L283.7 239.9L283.8 239.9L283.9 239.7L284.0 241.7L284.1 246.0L284.1 248.7L284.2 251.3L284.4 251.6L284.4 251.4L284.5 251.8L284.6 251.6L284.6 250.1L284.8 250.5L284.9 250.9L285.0 251.8L285.0 249.1L285.1 251.1L285.3 249.4L285.3 249.3L285.4 250.8L285.5 252.0L285.5 247.9L285.7 248.6L285.8 249.8L285.8 248.3L285.9 249.1L286.0 250.0L286.2 248.5L286.2 248.7L286.3 248.7L286.4 253.5L286.4 257.0L286.6 254.2L286.7 253.7L286.7 254.0L286.8 258.7L286.9 257.9L287.1 254.8L287.1 258.2L287.2 258.8L287.2 259.9L287.3 259.8L287.5 264.3L287.6 264.2L287.6 263.0L287.7 263.6L287.7 266.1L287.9 268.0L288.0 268.2L288.1 269.1L288.1 265.6L288.2 267.0L288.4 265.8L288.4 266.7L288.5 266.2L288.6 268.4L288.6 267.7L288.8 267.7L288.9 267.8L289.0 269.5L289.0 268.6L289.1 271.1L289.3 269.9L289.3 269.8L289.4 267.4L289.5 263.0L289.5 261.4L289.7 258.5L289.8 258.7L289.8 259.0L289.9 258.6L290.0 258.7L290.2 255.0L290.2 253.9L290.3 255.9L290.4 255.7L290.4 255.6L290.6 256.1L290.7 254.8L290.7 255.2L290.8 256.6L290.9 255.4L291.0 258.4L291.1 259.4L291.2 262.8L291.2 262.6L291.3 265.1L291.5 269.3L291.6 269.0L291.6 270.1L291.7 270.5L291.7 272.7L291.9 275.3L292.0 277.5L292.1 275.0L292.1 271.8L292.2 274.0L292.4 276.9L292.4 278.8L292.5 280.3L292.6 282.3L292.6 282.5L292.8 281.9L292.9 281.7L293.0 281.5L293.0 282.0L293.1 281.9L293.3 281.4L293.3 281.7L293.4 281.6L293.5 282.5L293.5 281.9L293.7 283.6L293.8 284.5L293.8 285.9L293.9 286.6L294.0 286.7L294.2 286.8L294.2 287.0L294.3 286.4L294.3 283.5L294.4 281.5L294.6 280.5L294.7 279.7L294.7 278.1L294.8 282.4L294.9 282.9L295.0 280.6L295.1 279.8L295.2 276.5L295.2 277.5L295.3 273.9L295.5 273.6L295.6 274.0L295.6 273.4L295.7 270.7L295.7 270.9L295.9 273.2L296.0 271.5L296.1 269.8L296.1 270.0L296.2 268.4L296.4 269.6L296.4 269.0L296.5 266.1L296.6 265.2L296.6 266.6L296.8 269.1L296.9 261.8L296.9 264.6L297.0 264.9L297.1 262.9L297.3 261.1L297.3 261.4L297.4 261.2L297.5 260.5L297.5 259.0L297.7 259.0L297.8 261.2L297.8 260.3L297.9 260.7L298.0 261.3L298.2 261.4L298.2 259.5L298.3 259.9L298.3 260.9L298.4 260.7L298.6 261.9L298.7 268.1L298.7 271.0L298.8 268.7L298.9 268.9L299.0 271.1L299.1 274.2L299.2 275.3L299.2 275.6L299.3 275.0L299.5 273.5L299.6 272.2L299.6 270.6L299.7 272.2L299.7 269.5L299.9 270.4L300.0 271.1L300.1 269.8L300.1 267.0L300.2 273.4L300.4 275.4L300.4 269.1L300.5 264.0L300.6 265.2L300.6 265.5L300.8 264.5L300.9 264.3L300.9 262.6L301.0 262.5L301.1 263.1L301.3 262.3L301.3 260.6L301.4 259.8L301.5 257.8L301.5 257.3L301.7 257.0L301.8 256.6L301.8 256.6L301.9 257.3L302.0 256.1L302.2 256.3L302.2 256.3L302.3 258.7L302.3 257.0L302.4 261.9L302.6 263.9L302.7 263.7L302.7 263.5L302.8 263.3L302.9 263.4L303.0 262.7L303.1 260.6L303.2 263.0L303.2 262.7L303.3 262.8L303.5 262.2L303.5 264.3L303.6 266.1L303.7 267.4L303.7 267.2L303.9 263.3L304.0 264.5L304.1 264.7L304.1 265.9L304.2 267.4L304.4 270.1L304.4 267.8L304.5 269.1L304.6 272.2L304.6 271.6L304.8 273.8L304.9 272.5L304.9 272.6L305.0 273.8L305.1 274.2L305.3 274.9L305.3 273.9L305.4 273.4L305.5 272.9L305.5 273.4L305.7 273.0L305.8 273.8L305.8 273.4L305.9 274.0L306.0 275.4L306.1 277.6L306.2 277.4L306.3 276.6L306.3 277.8L306.4 281.0L306.6 280.0L306.7 280.6L306.7 281.9L306.8 278.9L306.8 281.3L307.0 281.8L307.1 282.8L307.2 283.5L307.2 285.2L307.3 285.4L307.5 287.1L307.5 286.7L307.6 286.3L307.7 285.2L307.7 289.6L307.9 288.2L308.0 286.4L308.1 286.4L308.1 287.7L308.2 288.6L308.4 289.8L308.4 291.2L308.5 290.0L308.6 288.0L308.6 288.9L308.8 289.3L308.9 289.5L308.9 288.2L309.0 291.1L309.1 291.4L309.3 291.2L309.3 292.1L309.4 291.7L309.4 287.6L309.5 283.8L309.7 284.1L309.8 283.6L309.8 284.2L309.9 286.1L310.0 286.9L310.1 286.0L310.2 283.6L310.3 289.3L310.3 291.3L310.4 289.9L310.6 291.0L310.7 292.0L310.7 292.4L310.8 289.6L310.8 285.5L311.0 285.2L311.1 285.7L311.2 284.8L311.2 286.2L311.3 285.7L311.5 285.7L311.5 282.0L311.6 281.9L311.7 281.6L311.7 281.8L311.9 284.2L312.0 285.9L312.1 285.4L312.1 282.7L312.2 282.2L312.4 282.3L312.4 284.9L312.5 284.7L312.6 287.7L312.6 286.4L312.8 288.1L312.9 286.2L312.9 288.1L313.0 288.1L313.1 287.4L313.3 288.8L313.3 287.8L313.4 287.5L313.4 289.3L313.5 290.7L313.7 292.3L313.8 292.7L313.8 292.9L313.9 294.3L314.0 296.4L314.1 296.4L314.2 296.5L314.3 295.7L314.3 296.1L314.4 296.5L314.6 296.4L314.7 296.7L314.7 296.5L314.8 296.3L314.8 295.8L315.0 297.9L315.1 295.5L315.2 293.2L315.2 292.3L315.3 290.4L315.5 290.8L315.5 289.0L315.6 286.0L315.7 283.8L315.7 281.3L315.9 280.9L316.0 281.8L316.0 278.9L316.1 279.8L316.2 278.4L316.4 276.5L316.4 274.3L316.5 273.4L316.6 275.3L316.6 273.8L316.8 270.0L316.9 270.4L316.9 270.4L317.0 270.0L317.1 271.3L317.3 270.7L317.3 270.3L317.4 269.3L317.4 264.0L317.5 268.1L317.7 268.0L317.8 266.0L317.8 260.3L317.9 262.1L318.0 262.0L318.1 259.5L318.2 262.4L318.3 261.0L318.3 264.5L318.4 260.4L318.6 261.4L318.6 261.5L318.7 260.7L318.8 259.1L318.8 257.9L319.0 255.5L319.1 255.7L319.2 253.1L319.2 253.1L319.3 254.9L319.5 254.7L319.5 254.5L319.6 252.6L319.7 252.7L319.7 253.8L319.9 255.8L320.0 256.8L320.0 256.0L320.1 260.4L320.2 257.8L320.4 257.3L320.4 256.6L320.5 256.5L320.6 259.9L320.6 260.3L320.8 262.2L320.9 261.0L320.9 261.4L321.0 260.7L321.1 263.5L321.3 261.8L321.3 262.9L321.4 265.0L321.4 267.0L321.5 268.4L321.7 263.1L321.8 266.6L321.8 267.3L321.9 271.7L321.9 270.8L322.1 272.3L322.2 272.4L322.3 272.5L322.3 272.5L322.4 271.8L322.6 273.1L322.6 273.2L322.7 271.6L322.8 271.3L322.8 271.4L323.0 271.7L323.1 271.4L323.2 271.3L323.2 272.3L323.3 271.4L323.5 271.5L323.5 271.5L323.6 271.2L323.7 272.5L323.7 272.8L323.9 271.1L324.0 271.5L324.0 273.5L324.1 273.5L324.2 274.9L324.4 275.2L324.4 274.7L324.5 272.8L324.6 273.6L324.6 275.1L324.8 272.4L324.9 274.1L324.9 271.8L325.0 271.9L325.1 270.8L325.2 268.1L325.3 269.9L325.4 266.9L325.4 266.1L325.5 261.8L325.7 264.8L325.8 261.9L325.8 262.0L325.9 263.9L325.9 261.9L326.1 262.5L326.2 261.8L326.3 262.2L326.3 262.9L326.4 262.3L326.6 264.0L326.6 266.1L326.7 268.1L326.8 272.3L326.8 273.4L327.0 275.3L327.1 277.5L327.2 277.6L327.2 277.2L327.3 280.1L327.5 281.8L327.5 286.4L327.6 287.5L327.7 291.2L327.7 290.7L327.9 292.0L328.0 294.4L328.0 293.7L328.1 293.8L328.2 291.7L328.4 292.0L328.4 293.1L328.5 294.3L328.5 294.2L328.6 294.6L328.8 294.4L328.9 293.6L328.9 293.8L329.0 294.6L329.1 294.6L329.2 294.9L329.3 294.9L329.4 294.3L329.4 295.4L329.5 294.6L329.7 294.3L329.8 291.8L329.8 291.9L329.9 293.6L329.9 291.6L330.1 291.6L330.2 291.6L330.3 292.1L330.3 291.9L330.4 289.8L330.6 290.7L330.6 291.2L330.7 290.0L330.8 289.3L330.8 289.4L331.0 287.9L331.1 288.7L331.1 287.5L331.2 287.6L331.3 289.1L331.5 289.9L331.5 288.9L331.6 288.2L331.7 286.2L331.7 286.4L331.9 284.9L332.0 286.5L332.0 287.4L332.1 286.1L332.2 284.1L332.4 281.7L332.4 277.3L332.5 276.5L332.5 273.3L332.6 272.4L332.8 274.1L332.9 271.0L332.9 270.8L333.0 271.1L333.1 271.8L333.2 272.8L333.3 273.1L333.4 271.3L333.4 273.6L333.5 277.7L333.7 278.0L333.8 276.2L333.8 278.0L333.9 277.9L333.9 277.9L334.1 277.7L334.2 278.0L334.3 278.4L334.3 277.9L334.4 276.9L334.6 277.4L334.6 274.7L334.7 277.0L334.8 278.0L334.8 278.2L335.0 278.3L335.1 278.6L335.1 278.5L335.2 277.4L335.3 274.9L335.5 277.0L335.5 275.3L335.6 278.2L335.7 274.6L335.7 275.5L335.9 279.5L336.0 279.0L336.0 280.0L336.1 280.1L336.2 281.4L336.4 282.6L336.4 283.1L336.5 283.1L336.5 285.7L336.6 286.4L336.8 286.2L336.9 287.2L336.9 287.0L337.0 284.1L337.0 285.1L337.2 284.2L337.3 281.7L337.4 279.1L337.4 278.9L337.5 279.0L337.7 275.5L337.7 279.8L337.8 276.7L337.9 275.2L337.9 275.7L338.1 276.3L338.2 278.1L338.3 278.4L338.3 281.3L338.4 280.4L338.6 280.2L338.6 279.8L338.7 283.2L338.8 283.2L338.8 283.6L339.0 283.6L339.1 284.1L339.1 284.1L339.2 284.2L339.3 283.7L339.5 283.6L339.5 281.9L339.6 281.3L339.7 283.3L339.7 281.2L339.9 281.5L340.0 283.0L340.0 283.8L340.1 283.1L340.2 285.6L340.3 286.3L340.4 287.7L340.5 288.1L340.5 286.4L340.6 288.8L340.8 291.9L340.9 292.2L340.9 292.5L341.0 290.8L341.0 292.6L341.2 294.1L341.3 294.3L341.4 294.5L341.4 294.0L341.5 294.4L341.7 294.7L341.7 292.8L341.8 291.7L341.9 291.6L341.9 291.2L342.1 292.1L342.2 291.8L342.3 290.8L342.3 287.5L342.4 291.5L342.6 291.1L342.6 291.7L342.7 291.0L342.8 292.0L342.8 289.2L343.0 287.2L343.1 284.5L343.1 284.3L343.2 286.7L343.3 289.6L343.5 289.7L343.5 291.7L343.6 292.3L343.6 291.8L343.7 293.2L343.9 294.9L344.0 296.1L344.0 295.3L344.1 296.5L344.2 296.6L344.3 298.2L344.4 298.6L344.5 299.2L344.5 298.6L344.6 299.6L344.8 298.7L344.9 299.3L344.9 298.4L345.0 299.4L345.0 299.5L345.2 298.7L345.3 298.1L345.4 296.5L345.4 297.4L345.5 296.2L345.7 295.3L345.7 293.6L345.8 291.4L345.9 291.7L345.9 288.7L346.1 289.0L346.2 288.0L346.2 287.4L346.3 287.0L346.4 287.3L346.6 289.5L346.6 289.7L346.7 288.0L346.8 288.3L346.8 289.8L347.0 290.4L347.1 290.2L347.1 291.6L347.2 292.4L347.3 290.2L347.5 290.9L347.5 293.3L347.6 294.5L347.6 295.4L347.7 294.4L347.9 296.9L348.0 294.0L348.0 293.5L348.1 293.1L348.2 293.4L348.3 293.8L348.4 294.3L348.5 296.7L348.5 297.3L348.6 297.8L348.8 297.8L348.9 297.3L348.9 296.5L349.0 296.6L349.0 297.6L349.2 296.2L349.3 296.8L349.4 295.2L349.4 295.4L349.5 294.7L349.7 295.0L349.7 294.2L349.8 295.5L349.9 295.1L349.9 295.0L350.1 295.3L350.2 294.9L350.2 294.3L350.3 293.8L350.4 295.1L350.6 294.3L350.6 294.2L350.7 293.8L350.8 293.7L350.8 295.0L351.0 294.2L351.1 294.7L351.1 293.3L351.2 293.8L351.3 293.8L351.5 294.1L351.5 295.4L351.6 294.7L351.6 295.7L351.7 293.9L351.9 295.8L352.0 295.7L352.0 295.2L352.1 295.7L352.2 294.6L352.3 293.8L352.4 293.8L352.5 292.1L352.5 290.5L352.6 291.8L352.8 291.1L352.8 290.3L352.9 288.7L353.0 288.7L353.0 290.3L353.2 284.9L353.3 283.3L353.4 281.4L353.4 281.6L353.5 282.7L353.7 282.7L353.7 281.3L353.8 281.4L353.9 280.7L353.9 281.1L354.1 281.3L354.2 281.4L354.2 282.7L354.3 283.1L354.4 281.7L354.6 282.9L354.6 282.8L354.7 280.8L354.8 281.1L354.8 282.1L355.0 281.4L355.1 281.3L355.1 281.0L355.2 282.4L355.3 282.4L355.4 282.7L355.5 283.0L355.6 282.7L355.6 282.6L355.7 279.0L355.9 279.4L356.0 279.3L356.0 276.5L356.1 280.4L356.1 279.9L356.3 279.3L356.4 277.0L356.5 278.2L356.5 278.3L356.6 277.6L356.8 280.1L356.8 279.6L356.9 278.7L357.0 276.9L357.0 276.5L357.2 275.6L357.3 274.9L357.4 275.2L357.4 274.7L357.5 275.1L357.7 273.8L357.7 275.0L357.8 275.5L357.9 275.1L357.9 274.7L358.1 274.7L358.2 275.7L358.2 275.4L358.3 275.2L358.4 275.6L358.6 275.2L358.6 275.5L358.7 272.3L358.7 274.6L358.8 272.6L359.0 270.9L359.1 271.1L359.1 271.6L359.2 270.7L359.3 271.0L359.4 271.4L359.5 270.5L359.6 269.3L359.6 268.2L359.7 268.5L359.9 269.8L360.0 271.4L360.0 271.2L360.1 269.0L360.1 269.8L360.3 268.6L360.4 269.7L360.5 268.5L360.5 268.9L360.6 265.8L360.8 262.7L360.8 258.9L360.9 257.5L361.0 254.7L361.0 250.8L361.2 245.3L361.3 236.4L361.4 231.7L361.4 229.2L361.5 223.5L361.7 221.1L361.7 230.9L361.8 228.5L361.9 226.6L361.9 226.7L362.1 225.0L362.2 219.4L362.2 214.6L362.3 216.5L362.4 215.7L362.6 211.5L362.6 208.4L362.7 207.2L362.7 207.1L362.8 209.1L363.0 205.9L363.1 203.2L363.1 202.2L363.2 200.6L363.3 200.1L363.4 195.6L363.5 196.1L363.6 194.8L363.6 198.3L363.7 200.8L363.9 204.4L364.0 203.0L364.0 210.2L364.1 212.3L364.1 214.4L364.3 214.1L364.4 211.2L364.5 214.6L364.5 215.1L364.6 215.9L364.8 215.6L364.8 214.6L364.9 211.9L365.0 210.7L365.0 208.8L365.2 211.6L365.3 213.6L365.3 215.8L365.4 216.1L365.5 217.0L365.7 217.0L365.7 217.4L365.8 211.9L365.9 210.2L365.9 211.4L366.1 209.1L366.2 206.1L366.2 202.0L366.3 200.4L366.4 206.5L366.6 201.8L366.6 204.2L366.7 200.3L366.7 199.3L366.8 199.6L367.0 200.0L367.1 200.7L367.1 199.7L367.2 202.3L367.3 203.2L367.4 203.1L367.5 199.8L367.6 197.7L367.6 193.2L367.7 191.2L367.9 188.8L367.9 188.7L368.0 188.5L368.1 189.2L368.1 184.5L368.3 182.0L368.4 181.2L368.5 175.5L368.5 172.3L368.6 170.0L368.8 168.3L368.8 167.4L368.9 165.4L369.0 162.1L369.0 160.1L369.2 153.3L369.3 150.4L369.3 150.3L369.4 148.7L369.5 146.9L369.7 142.3L369.7 140.4L369.8 137.6L369.9 132.9L369.9 133.2L370.1 129.9L370.2 128.0L370.2 126.8L370.3 122.4L370.4 118.9L370.6 116.6L370.6 118.6L370.7 121.1L370.7 122.2L370.8 127.6L371.0 132.0L371.1 133.1L371.1 136.8L371.2 139.3L371.2 136.2L371.4 135.3L371.5 129.9L371.6 124.4L371.6 121.1L371.7 118.0L371.9 112.1L371.9 108.7L372.0 106.7L372.1 103.6L372.1 102.6L372.3 99.6L372.4 96.0L372.5 91.5M372.5 114.8L372.6 111.8L372.8 105.9L372.8 101.1L372.9 97.9L373.0 93.2L373.0 86.1L373.2 80.0L373.3 81.6L373.3 81.8L373.4 80.0L373.5 81.2L373.7 88.8L373.7 99.4L373.8 94.4L373.9 108.4M373.9 128.0L374.1 121.4L374.2 118.0L374.2 111.7L374.3 123.4M374.4 148.3L374.5 158.0M374.6 139.1L374.7 153.8L374.7 163.6L374.8 178.5L375.0 171.0L375.1 175.7M375.2 177.7L375.2 163.7L375.4 156.6L375.5 163.3L375.6 173.1L375.6 171.0L375.7 160.7L375.9 160.1L375.9 159.7L376.0 160.3L376.1 154.0L376.1 159.0M376.3 183.0L376.4 183.5L376.5 175.5L376.5 183.2L376.6 183.2L376.8 182.3L376.8 174.3L376.9 179.8L377.0 182.2L377.0 177.1L377.2 165.2L377.3 166.4L377.3 169.7L377.4 165.8L377.5 165.9L377.7 165.6M377.7 182.6L377.8 178.5L377.8 186.9L377.9 198.4M378.2 235.1L378.2 236.2L378.3 224.2L378.4 215.0L378.5 213.4L378.6 216.5L378.7 218.2L378.7 217.5L378.8 219.0L379.0 221.6L379.1 222.8L379.1 222.5L379.2 225.4L379.2 225.6L379.4 226.4L379.5 227.8L379.6 224.5L379.6 225.3L379.7 224.7L379.9 223.4L379.9 223.3L380.0 223.5L380.1 224.1L380.1 225.9L380.3 224.2L380.4 224.7L380.4 224.4L380.5 223.1L380.6 223.9L380.8 218.9L380.8 223.1L380.9 221.2L381.0 220.1L381.0 221.2L381.2 215.0L381.3 207.9L381.3 205.7L381.4 208.7L381.5 203.4L381.7 206.9L381.7 209.0L381.8 204.8L381.8 201.9L381.9 201.0L382.1 201.1L382.2 201.7L382.2 201.7L382.3 204.8L382.4 202.1L382.5 201.5L382.6 201.1L382.7 197.8L382.7 200.3L382.8 191.0L383.0 195.9L383.1 195.3L383.1 197.6L383.2 190.7L383.2 195.2L383.4 195.6L383.5 201.9L383.6 196.2L383.6 190.6L383.7 183.6L383.9 184.8L383.9 184.7L384.0 185.5L384.1 194.1L384.1 200.6L384.3 198.2L384.4 197.8L384.4 200.3L384.5 197.4L384.6 190.6L384.8 183.4L384.8 186.9L384.9 189.0L385.0 196.4L385.0 189.4L385.2 184.6L385.3 186.2L385.3 184.4L385.4 182.2L385.5 179.7L385.7 179.4L385.7 179.1L385.8 182.4L385.8 187.2L385.9 189.4L386.1 189.3L386.2 190.1L386.2 188.6L386.3 188.9L386.4 196.4L386.5 206.5L386.6 211.3L386.7 215.6L386.7 218.2L386.8 218.5L387.0 221.3L387.0 222.6L387.1 226.4L387.2 227.3L387.2 230.1L387.4 232.3L387.5 234.5L387.6 238.2L387.6 241.5L387.7 242.3L387.9 242.0L387.9 246.5L388.0 247.7L388.1 247.9L388.1 246.1L388.3 242.7L388.4 244.5L388.4 244.2L388.5 245.2L388.6 239.9L388.8 240.3L388.8 240.6L388.9 240.5L389.0 239.2L389.0 244.6L389.2 241.3L389.3 240.9L389.3 234.9L389.4 234.2L389.5 231.1L389.6 230.1L389.7 233.5L389.8 236.3L389.8 242.6L389.9 245.1L390.1 246.2L390.2 244.3L390.2 241.8L390.3 240.8L390.3 239.3L390.5 240.1L390.6 232.7L390.7 232.0L390.7 231.7L390.8 233.3L391.0 232.7L391.0 234.9L391.1 235.1L391.2 236.3L391.2 236.0L391.4 230.4L391.5 228.2L391.6 222.9L391.6 222.5L391.7 225.3L391.9 228.9L391.9 228.0L392.0 225.2L392.1 223.3L392.1 223.6L392.3 224.5L392.4 224.1L392.4 224.1L392.5 223.9L392.6 223.6L392.8 221.6L392.8 220.5L392.9 220.5L392.9 220.8L393.0 220.8L393.2 220.5L393.3 223.0L393.3 219.7L393.4 220.2L393.5 220.6L393.6 222.8L393.7 221.6L393.8 223.1L393.8 225.0L393.9 227.5L394.1 227.2L394.2 227.2L394.2 226.4L394.3 226.8L394.3 230.1L394.5 228.3L394.6 230.2L394.7 233.7L394.7 232.2L394.8 234.4L395.0 232.4L395.0 232.2L395.1 233.4L395.2 233.6L395.2 232.7L395.4 233.3L395.5 230.3L395.6 229.2L395.6 229.8L395.7 231.3L395.9 229.1L395.9 226.6L396.0 227.6L396.1 227.8L396.1 228.3L396.3 228.1L396.4 229.2L396.4 229.5L396.5 229.7L396.6 229.2L396.8 228.9L396.8 229.4L396.9 228.3L396.9 228.8L397.0 228.8L397.2 229.5L397.3 229.1L397.3 229.5L397.4 228.8L397.5 229.0L397.6 227.8L397.7 228.0L397.8 228.2L397.8 227.7L397.9 227.8L398.1 227.1L398.2 225.4L398.2 225.0L398.3 222.9L398.3 224.0L398.5 219.5L398.6 218.8L398.7 219.0L398.7 218.6L398.8 218.5L399.0 217.8L399.0 218.1L399.1 219.9L399.2 219.3L399.2 219.1L399.4 218.8L399.5 220.3L399.5 222.9L399.6 223.7L399.7 224.3L399.9 224.8L399.9 225.0L400.0 225.3L400.1 224.9L400.1 223.6L400.3 217.6L400.4 221.2L400.4 216.4L400.5 215.5L400.6 214.4L400.8 211.6L400.8 211.1L400.9 211.3L400.9 211.3L401.0 211.0L401.2 214.9L401.3 214.4L401.3 213.6L401.4 214.6L401.5 214.7L401.6 216.5L401.7 216.4L401.8 216.0L401.8 215.3L401.9 215.8L402.1 217.4L402.1 219.0L402.2 216.5L402.3 215.8L402.3 215.2L402.5 215.4L402.6 215.5L402.7 217.7L402.7 218.4L402.8 219.1L403.0 220.7L403.0 216.3L403.1 218.9L403.2 217.2L403.2 219.5L403.4 217.2L403.5 219.4L403.5 221.5L403.6 221.5L403.7 221.0L403.9 221.5L403.9 220.9L404.0 220.6L404.1 221.4L404.1 221.4L404.3 217.5L404.4 215.7L404.4 215.1L404.5 219.0L404.6 218.7L404.8 218.7L404.8 218.0L404.9 215.1L404.9 219.9L405.0 215.9L405.2 218.4L405.3 217.7L405.3 217.5L405.4 220.0L405.4 216.5L405.6 215.4L405.7 214.7L405.8 211.1L405.8 211.6L405.9 212.0L406.1 215.7L406.1 216.6L406.2 212.6L406.3 211.3L406.3 207.4L406.5 210.2L406.6 209.2L406.7 203.3L406.7 203.8L406.8 201.6L407.0 203.7L407.0 200.9L407.1 199.4L407.2 199.8L407.2 199.8L407.4 199.7L407.5 200.1L407.5 203.2L407.6 203.9L407.7 200.4L407.9 199.6L407.9 200.3L408.0 206.0L408.0 208.8L408.1 207.9L408.3 210.5L408.4 211.6L408.4 213.8L408.5 215.1L408.6 212.4L408.7 215.0L408.8 214.9L408.9 212.1L408.9 210.0L409.0 210.5L409.2 212.4L409.3 217.9L409.3 218.0L409.4 217.4L409.4 217.2L409.6 216.9L409.7 216.3L409.8 215.9L409.8 215.2L409.9 214.7L410.1 215.6L410.1 215.1L410.2 215.7L410.3 217.1L410.3 216.3L410.5 216.6L410.6 214.1L410.7 212.3L410.7 217.6L410.8 217.6L411.0 215.0L411.0 214.9L411.1 213.1L411.2 212.0L411.2 210.7L411.4 212.6L411.5 212.7L411.5 213.1L411.6 212.9L411.7 212.9L411.9 209.9L411.9 207.1L412.0 209.2L412.0 209.1L412.1 208.7L412.3 212.3L412.4 212.6L412.4 212.5L412.5 212.7L412.6 212.2L412.7 209.0L412.8 206.9L412.9 206.5L412.9 209.0L413.0 207.4L413.2 208.6L413.3 207.6L413.3 208.3L413.4 207.5L413.4 206.1L413.6 205.8L413.7 205.9L413.8 205.1L413.8 206.8L413.9 206.0L414.1 205.8L414.1 205.7L414.2 206.8L414.3 206.7L414.3 206.0L414.5 208.3L414.6 207.6L414.6 206.5L414.7 208.0L414.8 207.5L415.0 207.0L415.0 206.8L415.1 206.7L415.2 207.2L415.2 207.4L415.4 208.1L415.5 206.0L415.5 202.9L415.6 202.6L415.7 203.6L415.9 203.0L415.9 203.3L416.0 203.6L416.0 202.6L416.1 202.8L416.3 201.4L416.4 202.0L416.4 203.0L416.5 206.3L416.6 210.8L416.7 207.3L416.8 213.0L416.9 216.0L416.9 215.2L417.0 214.4L417.2 212.2L417.2 213.5L417.3 214.4L417.4 213.4L417.4 214.6L417.6 212.3L417.7 214.2L417.8 215.3L417.8 214.2L417.9 206.5L418.1 206.3L418.1 204.2L418.2 204.2L418.3 207.2L418.3 205.6L418.5 204.2L418.6 203.5L418.6 204.8L418.7 202.9L418.8 203.8L419.0 204.5L419.0 204.6L419.1 204.9L419.2 205.2L419.2 205.1L419.4 204.6L419.5 205.9L419.5 202.5L419.6 205.9L419.7 206.4L419.9 205.5L419.9 203.8L420.0 205.8L420.0 205.5L420.1 204.4L420.3 205.7L420.4 204.3L420.4 205.4L420.5 204.6L420.5 205.4L420.7 204.9L420.8 202.5L420.9 200.1L420.9 196.9L421.0 193.3L421.2 193.9L421.2 194.0L421.3 194.5L421.4 194.9L421.4 195.7L421.6 194.6L421.7 193.9L421.8 195.5L421.8 193.9L421.9 194.4L422.1 191.8L422.1 189.4L422.2 190.9L422.3 191.2L422.3 193.9L422.5 194.6L422.6 194.4L422.6 191.0L422.7 190.8L422.8 190.1L423.0 188.5L423.0 188.8L423.1 188.7L423.2 184.5L423.2 189.7L423.4 188.7L423.5 182.3L423.5 186.6L423.6 186.0L423.7 182.5L423.8 184.4L423.9 184.4L424.0 184.2L424.0 185.1L424.1 184.5L424.3 182.3L424.4 181.4L424.4 181.1L424.5 181.1L424.5 181.1L424.7 181.2L424.8 181.9L424.9 184.7L424.9 182.8L425.0 183.3L425.2 183.2L425.2 183.4L425.3 183.7L425.4 183.3L425.4 183.1L425.6 182.0L425.7 183.3L425.8 182.9L425.8 181.2L425.9 181.1L426.1 181.2L426.1 179.9L426.2 180.2L426.3 179.2L426.3 180.8L426.5 180.3L426.6 181.1L426.6 182.5L426.7 181.6L426.8 181.8L427.0 181.4L427.0 182.3L427.1 182.6L427.1 184.3L427.2 183.3L427.4 182.4L427.5 179.7L427.5 172.7L427.6 179.8L427.7 175.7L427.8 173.4L427.9 168.9L428.0 168.5L428.0 168.3L428.1 169.1L428.3 169.1L428.4 169.7L428.4 174.0L428.5 169.8L428.5 172.6L428.7 170.6L428.8 170.4L428.9 170.9L428.9 168.9L429.0 168.2L429.2 164.8L429.2 164.2L429.3 159.9L429.4 156.9L429.4 155.2L429.6 157.2L429.7 157.2L429.7 155.0L429.8 158.1L429.9 154.4L430.1 154.9L430.1 154.7L430.2 155.6L430.3 158.6L430.3 161.0L430.5 161.2L430.6 163.8L430.6 169.3L430.7 170.4L430.8 171.4L431.0 171.5L431.0 170.1L431.1 169.8L431.1 172.8L431.2 173.0L431.4 172.3L431.5 173.4L431.5 172.2L431.6 171.6L431.7 173.5L431.8 172.4L431.9 173.3L432.0 169.0L432.0 172.7L432.1 170.2L432.3 168.5L432.4 168.0L432.4 168.5L432.5 170.1L432.5 168.8L432.7 166.7L432.8 161.5L432.9 156.5L432.9 152.0L433.0 156.7L433.2 159.2L433.2 157.2L433.3 154.1L433.4 152.5L433.4 150.2L433.6 150.4L433.7 147.5L433.7 143.3L433.8 147.1L433.9 150.9L434.1 148.2L434.1 148.9L434.2 144.6L434.3 145.8L434.3 149.1L434.5 153.2L434.6 151.4L434.6 152.4L434.7 156.3L434.8 162.3L435.0 165.5L435.0 170.2L435.1 176.9L435.1 178.0L435.2 181.6L435.4 179.8L435.5 181.8L435.5 181.4L435.6 174.6L435.7 175.5L435.8 178.1L435.9 172.6L436.0 172.7L436.0 168.3L436.1 164.7L436.3 162.9L436.3 163.6L436.4 162.5L436.5 163.0L436.5 161.3L436.7 161.9L436.8 164.0L436.9 162.5L436.9 170.6L437.0 166.8L437.2 169.9L437.2 173.7L437.3 173.0L437.4 172.4L437.4 174.4L437.6 174.6L437.7 178.2L437.7 179.8L437.8 179.5L437.9 178.8L438.1 176.8L438.1 177.2L438.2 178.5L438.3 178.6L438.3 177.7L438.5 177.2L438.6 177.0L438.6 176.2L438.7 175.9L438.8 175.9L438.9 177.9L439.0 179.0L439.1 182.5L439.1 187.1L439.2 188.3L439.4 188.0L439.5 187.7L439.5 188.6L439.6 188.1L439.6 188.1L439.8 185.9L439.9 185.2L440.0 185.3L440.0 185.5L440.1 186.0L440.3 187.2L440.3 186.0L440.4 185.6L440.5 183.4L440.5 182.3L440.7 183.3L440.8 182.8L440.9 179.0L440.9 181.2L441.0 185.3L441.2 187.5L441.2 187.5L441.3 183.7L441.4 177.7L441.4 175.6L441.6 176.1L441.7 178.8L441.7 180.4L441.8 185.6L441.9 189.6L442.1 186.3L442.1 188.7L442.2 189.4L442.2 190.3L442.3 194.5L442.5 193.8L442.6 195.4L442.6 192.3L442.7 194.8L442.8 192.2L442.9 197.1L443.0 197.8L443.1 197.4L443.1 195.6L443.2 194.6L443.4 193.5L443.5 196.3L443.5 196.0L443.6 195.5L443.6 196.7L443.8 201.8L443.9 202.9L444.0 203.2L444.0 203.6L444.1 203.7L444.3 209.5L444.3 213.1L444.4 214.7L444.5 215.0L444.5 214.7L444.7 212.6L444.8 212.6L444.9 212.0L444.9 211.7L445.0 207.5L445.2 209.3L445.2 212.7L445.3 210.4L445.4 207.1L445.4 205.4L445.6 202.2L445.7 199.0L445.7 202.9L445.8 204.6L445.9 204.2L446.1 206.8L446.1 207.2L446.2 204.8L446.2 211.2L446.3 214.2L446.5 217.1L446.6 216.4L446.6 215.4L446.7 215.0L446.8 220.0L446.9 218.2L447.0 220.3L447.1 222.9L447.1 222.9L447.2 222.6L447.4 222.3L447.5 221.4L447.5 221.5L447.6 220.5L447.6 218.4L447.8 218.9L447.9 219.2L448.0 215.5L448.0 215.7L448.1 215.5L448.3 216.3L448.3 218.6L448.4 224.7L448.5 220.5L448.5 219.0L448.7 218.9L448.8 221.1L448.8 221.9L448.9 221.1L449.0 223.8L449.2 224.3L449.2 222.9L449.3 218.0L449.4 217.9L449.4 220.1L449.6 216.7L449.7 215.1L449.7 210.5L449.8 210.5L449.9 208.6L450.1 211.5L450.1 212.5L450.2 215.6L450.2 219.1L450.3 221.5L450.5 225.7L450.6 224.3L450.6 224.9L450.7 228.5L450.8 230.6L450.9 233.1L451.0 233.2L451.1 234.7L451.1 235.0L451.2 234.6L451.4 235.0L451.4 235.2L451.5 233.5L451.6 232.3L451.6 230.8L451.8 231.1L451.9 229.3L452.0 227.7L452.0 226.7L452.1 223.3L452.3 226.2L452.3 227.7L452.4 224.9L452.5 222.4L452.5 219.1L452.7 218.0L452.8 218.3L452.8 219.2L452.9 217.4L453.0 217.9L453.2 218.2L453.2 218.9L453.3 218.1L453.4 218.0L453.4 217.8L453.6 221.7L453.7 221.4L453.7 221.1L453.8 224.6L453.9 226.4L454.1 220.5L454.1 221.2L454.2 221.7L454.2 219.9L454.3 221.5L454.5 223.1L454.6 224.3L454.6 226.8L454.7 229.7L454.7 232.2L454.9 229.9L455.0 225.9L455.1 229.3L455.1 228.0L455.2 234.7L455.4 234.1L455.4 235.1L455.5 235.9L455.6 237.7L455.6 237.3L455.8 238.7L455.9 238.7L456.0 238.4L456.0 240.4L456.1 240.1L456.3 240.9L456.3 240.0L456.4 239.6L456.5 237.9L456.5 237.9L456.7 237.2L456.8 234.1L456.8 231.2L456.9 230.7L457.0 230.3L457.2 233.0L457.2 232.3L457.3 226.9L457.4 227.0L457.4 224.1L457.6 224.4L457.7 225.3L457.7 224.2L457.8 224.5L457.9 222.4L458.0 219.2L458.1 214.2L458.2 215.9L458.2 211.2L458.3 212.8L458.5 212.5L458.6 204.5L458.6 206.8L458.7 204.9L458.7 198.5L458.9 194.3L459.0 190.3L459.1 189.4L459.1 189.9L459.2 190.6L459.4 189.0L459.4 188.3L459.5 189.7L459.6 189.4L459.6 188.9L459.8 184.7L459.9 185.4L460.0 185.7L460.0 185.6L460.1 185.4L460.3 185.3L460.3 185.2L460.4 178.8L460.5 178.8L460.5 182.6L460.7 182.1L460.8 181.6L460.8 178.6L460.9 177.2L461.0 178.3L461.2 181.9L461.2 178.9L461.3 178.5L461.3 179.2L461.4 179.4L461.6 178.3L461.7 176.1L461.7 173.9L461.8 173.1L461.9 170.6L462.0 167.0L462.1 166.0L462.2 167.4L462.2 166.1L462.3 166.3L462.5 167.3L462.6 166.0L462.6 165.3L462.7 165.0L462.7 164.8L462.9 165.2L463.0 170.3L463.1 175.8L463.1 177.1L463.2 182.1L463.4 172.3L463.4 179.9L463.5 188.0L463.6 189.2L463.6 190.6L463.8 192.0L463.9 192.4L463.9 193.6L464.0 196.2L464.1 193.1L464.3 191.4L464.3 191.4L464.4 195.1L464.5 194.1L464.5 195.0L464.7 194.5L464.8 191.0L464.8 190.0L464.9 190.2L465.0 193.8L465.2 193.0L465.2 194.1L465.3 191.5L465.3 193.6L465.4 195.7L465.6 196.0L465.7 197.6L465.7 199.9L465.8 200.1L465.9 197.8L466.0 198.9L466.1 199.9L466.2 198.0L466.2 190.3L466.3 189.0L466.5 189.5L466.6 193.6L466.6 186.4L466.7 183.0L466.7 190.2L466.9 185.2L467.0 184.5L467.1 184.2L467.1 182.5L467.2 182.6L467.4 179.1L467.4 175.1L467.5 175.8L467.6 174.8L467.6 174.6L467.8 174.7L467.9 178.5L467.9 180.6L468.0 182.6L468.1 183.8L468.3 183.7L468.3 182.4L468.4 182.8L468.5 180.9L468.5 180.1L468.7 181.6L468.8 180.7L468.8 182.4L468.9 180.9L469.0 182.7L469.2 182.8L469.2 182.4L469.3 181.9L469.3 185.9L469.4 190.5L469.6 194.3L469.7 195.3L469.7 191.2L469.8 188.8L469.8 187.6L470.0 185.7L470.1 186.4L470.2 184.8L470.2 187.9L470.3 185.0L470.5 183.5L470.5 186.5L470.6 189.2L470.7 189.6L470.7 184.4L470.9 183.5L471.0 184.3L471.1 186.5L471.1 186.3L471.2 184.3L471.4 184.4L471.4 183.9L471.5 180.0L471.6 176.2L471.6 175.7L471.8 173.6L471.9 172.1L471.9 172.4L472.0 172.7L472.1 174.5L472.3 174.1L472.3 173.1L472.4 172.3L472.5 173.2L472.5 175.2L472.7 172.4L472.8 173.5L472.8 178.0L472.9 182.3L473.0 181.8L473.1 183.3L473.2 184.1L473.3 182.1L473.3 182.6L473.4 176.7L473.6 182.0L473.7 174.8L473.7 176.9L473.8 174.4L473.8 174.8L474.0 174.0L474.1 174.9L474.2 173.9L474.2 173.2L474.3 173.0L474.5 172.4L474.5 175.0L474.6 179.5L474.7 178.9L474.7 180.0L474.9 179.1L475.0 176.8L475.1 178.7L475.1 178.5L475.2 179.8L475.4 182.9L475.4 183.4L475.5 183.3L475.6 182.8L475.6 183.9L475.8 184.8L475.9 184.7L475.9 183.7L476.0 183.5L476.1 184.8L476.3 184.0L476.3 184.4L476.4 186.3L476.4 185.5L476.5 183.8L476.7 183.6L476.8 183.5L476.8 183.4L476.9 183.7L477.0 182.4L477.1 178.8L477.2 177.5L477.3 180.8L477.3 177.2L477.4 177.9L477.6 178.1L477.7 177.4L477.7 175.0L477.8 174.4L477.8 169.3L478.0 170.6L478.1 168.1L478.2 167.2L478.2 164.3L478.3 166.8L478.5 169.1L478.5 169.3L478.6 168.4L478.7 164.0L478.7 164.2L478.9 165.5L479.0 164.4L479.1 163.1L479.1 163.6L479.2 162.6L479.4 162.6L479.4 159.8L479.5 156.0L479.6 156.6L479.6 157.1L479.8 157.2L479.9 159.7L479.9 158.5L480.0 162.4L480.1 161.2L480.3 167.3L480.3 169.2L480.4 169.2L480.4 170.6L480.5 177.0L480.7 178.8L480.8 180.1L480.8 184.8L480.9 188.3L481.0 190.4L481.1 191.8L481.2 192.3L481.3 190.3L481.3 182.6L481.4 181.5L481.6 180.5L481.7 173.9L481.7 175.7L481.8 173.1L481.8 173.3L482.0 170.9L482.1 169.5L482.2 164.2L482.2 160.8L482.3 159.6L482.5 158.2L482.5 160.1L482.6 160.2L482.7 156.6L482.7 159.2L482.9 156.4L483.0 156.2L483.0 156.2L483.1 157.0L483.2 159.6L483.4 166.9L483.4 169.1L483.5 173.5L483.6 180.2L483.6 181.8L483.8 183.4L483.9 187.6L483.9 190.9L484.0 196.7L484.1 198.4L484.3 202.4L484.3 201.1L484.4 200.6L484.4 200.5L484.5 197.2L484.7 194.0L484.8 191.9L484.8 191.7L484.9 191.5L485.0 191.2L485.1 192.3L485.2 192.3L485.3 191.0L485.3 192.2L485.4 191.0L485.6 190.8L485.6 183.8L485.7 184.5L485.8 187.5L485.8 188.8L486.0 186.7L486.1 184.3L486.2 185.1L486.2 184.7L486.3 189.4L486.5 183.1L486.5 182.6L486.6 180.4L486.7 176.7L486.7 177.4L486.9 175.6L487.0 176.1L487.0 176.4L487.1 175.1L487.2 175.3L487.4 175.9L487.4 176.0L487.5 175.6L487.6 176.2L487.6 180.4L487.8 178.9L487.9 179.9L487.9 181.0L488.0 180.4L488.1 180.9L488.3 181.4L488.3 181.9L488.4 180.6L488.4 180.6L488.5 179.8L488.7 178.8L488.8 179.4L488.8 177.3L488.9 176.9L488.9 178.3L489.1 175.0L489.2 174.4L489.3 166.0L489.3 168.1L489.4 169.8L489.6 170.5L489.6 161.8L489.7 166.0L489.8 161.9L489.8 160.1L490.0 162.2L490.1 162.7L490.2 160.9L490.2 159.0L490.3 158.8L490.5 160.0L490.5 159.9L490.6 153.9L490.7 149.8L490.7 144.7L490.9 139.7L491.0 131.0L491.0 120.5L491.1 114.4L491.2 115.0L491.4 113.6L491.4 115.5L491.5 115.9L491.5 117.8L491.6 126.2L491.8 125.4L491.9 130.3L491.9 129.4L492.0 132.7L492.1 136.9L492.2 133.8L492.3 129.7L492.4 125.5L492.4 124.8L492.5 124.1L492.7 124.7L492.8 122.7L492.8 124.7L492.9 119.0L492.9 119.8L493.1 116.1L493.2 115.3L493.3 115.9L493.3 122.0L493.4 119.8L493.6 116.4L493.6 116.3L493.7 115.9L493.8 116.8L493.8 117.4L494.0 116.7L494.1 116.9L494.2 115.4L494.2 117.0L494.3 116.6L494.5 116.0L494.5 117.3L494.6 117.6L494.7 117.8L494.7 122.5L494.9 122.6L495.0 126.0L495.0 131.6L495.1 132.2L495.2 131.7L495.4 131.5L495.4 132.2L495.5 133.8L495.5 133.4L495.6 134.5L495.8 133.8L495.9 133.5L495.9 133.5L496.0 133.2L496.1 133.2L496.2 132.7L496.3 131.0L496.4 131.4L496.4 129.5L496.5 127.2L496.7 124.4L496.8 121.1L496.8 118.9L496.9 119.1L496.9 115.3L497.1 115.5L497.2 120.2L497.3 117.5L497.3 118.3L497.4 117.1L497.6 118.5L497.6 120.0L497.7 120.7L497.8 123.2L497.8 123.6L498.0 115.8L498.1 115.8L498.1 119.7L498.2 122.8L498.3 124.1L498.5 120.2L498.5 117.1L498.6 113.1L498.7 108.4L498.7 106.4L498.9 104.9L499.0 104.2L499.0 102.8L499.1 101.6L499.2 102.8L499.4 103.4L499.4 103.6L499.5 104.0L499.5 107.3L499.6 103.9L499.8 103.7L499.9 104.9L499.9 104.8L500.0 104.5L500.1 104.9L500.2 106.3L500.3 108.1L500.4 111.2L500.4 111.5L500.5 111.5L500.7 107.9L500.7 109.5L500.8 111.7L500.9 111.7L500.9 111.1L501.1 108.6L501.2 110.9L501.3 111.2L501.3 110.6L501.4 103.8L501.6 100.9L501.6 98.2L501.7 93.0L501.8 94.3L501.8 88.7L502.0 88.8L502.1 88.5L502.1 91.2L502.2 89.5L502.3 89.2L502.5 86.6L502.5 82.5L502.6 81.5L502.7 84.4L502.7 79.8L502.9 74.5L503.0 73.2L503.0 68.1L503.1 67.5L503.2 65.2L503.4 65.1L503.4 74.9L503.5 64.4L503.5 64.9L503.6 66.2L503.8 61.7L503.9 63.3L503.9 65.5L504.0 76.7L504.0 80.1L504.2 77.2L504.3 72.3L504.4 66.2L504.4 58.2L504.5 57.4L504.7 57.0L504.7 51.8L504.8 49.5L504.9 48.6L504.9 47.9L505.1 49.3L505.2 53.0L505.3 53.0L505.3 52.1L505.4 54.6L505.6 59.5L505.6 66.7L505.7 72.5L505.8 74.1L505.8 81.1L506.0 85.6L506.1 92.2L506.1 90.6L506.2 96.4L506.3 103.1L506.5 102.1L506.5 105.6L506.6 105.0L506.7 105.2L506.7 105.1L506.9 109.1L507.0 110.4L507.0 110.3L507.1 109.8L507.2 109.5L507.3 106.5L507.4 107.3L507.5 108.5L507.5 108.4L507.6 106.9L507.8 105.1L507.9 99.7L507.9 100.4L508.0 101.2L508.0 102.3L508.2 99.6L508.3 100.0L508.4 100.8L508.4 100.7L508.5 104.9L508.7 108.4L508.7 107.8L508.8 102.8L508.9 98.1L508.9 101.8L509.1 104.2L509.2 105.0L509.3 104.8L509.3 102.9L509.4 106.6L509.6 103.0L509.6 94.8L509.7 96.8L509.8 95.1L509.8 95.4L510.0 94.2L510.1 98.3L510.1 98.2L510.2 93.2L510.3 94.3L510.5 94.6L510.5 98.3L510.6 103.1L510.6 104.2L510.7 101.6L510.9 97.3L511.0 98.5L511.0 91.8L511.1 96.4L511.2 89.7L511.3 89.0L511.4 87.8L511.5 85.0L511.5 81.0L511.6 81.1L511.8 79.4L511.9 80.8L511.9 79.9L512.0 79.7L512.0 79.9L512.2 82.7L512.3 79.6L512.4 82.8L512.4 83.3L512.5 81.7L512.7 78.8L512.7 78.8L512.8 79.2L512.9 79.2L512.9 81.6L513.1 79.1L513.2 80.2L513.2 82.3L513.3 89.7L513.4 87.0L513.6 85.5L513.6 87.9L513.7 88.6L513.8 89.9L513.8 89.7L514.0 89.6L514.1 95.9L514.1 89.0L514.2 93.2L514.3 94.4L514.5 94.8L514.5 101.5L514.6 101.6L514.6 102.9L514.7 99.6L514.9 102.9L515.0 105.4L515.0 105.4L515.1 110.7L515.2 114.0L515.3 118.0L515.4 120.4L515.5 119.2L515.5 117.2L515.6 116.4L515.8 115.9L515.9 115.5L515.9 115.6L516.0 119.8L516.0 120.6L516.2 121.6L516.3 120.2L516.4 120.2L516.4 116.9L516.5 120.1L516.7 115.6L516.7 116.9L516.8 117.5L516.9 117.5L516.9 119.2L517.1 119.8L517.2 115.7L517.2 115.6L517.3 114.5L517.4 115.3L517.6 116.5L517.6 116.8L517.7 114.2L517.8 115.7L517.8 111.7L518.0 109.8L518.1 111.2L518.1 115.0L518.2 116.7L518.3 112.5L518.5 111.1L518.5 109.2L518.6 109.4L518.6 114.0L518.7 113.5L518.9 113.8L519.0 113.1L519.0 113.1L519.1 114.4L519.2 113.8L519.3 113.3L519.4 112.4L519.5 113.8L519.5 112.7L519.6 112.0L519.8 113.0L519.8 111.7L519.9 109.1L520.0 109.6L520.0 108.7L520.2 113.4L520.3 108.0L520.4 108.7L520.4 108.5L520.5 109.1L520.7 111.1L520.7 113.0L520.8 113.4L520.9 113.7L520.9 114.0L521.1 113.5L521.2 113.7L521.2 112.3L521.3 109.3L521.4 109.8L521.6 111.4L521.6 113.0L521.7 112.8L521.8 116.1L521.8 116.1L522.0 116.3L522.1 114.4L522.1 115.7L522.2 116.4L522.3 117.4L522.4 117.6L522.5 116.2L522.6 118.2L522.6 119.1L522.7 118.3L522.9 116.5L523.0 117.2L523.0 116.4L523.1 117.2L523.1 117.1L523.3 115.8L523.4 114.9L523.5 106.9L523.5 104.6L523.6 106.8L523.8 97.7L523.8 100.5L523.9 106.4L524.0 101.1L524.0 100.3L524.2 98.1L524.3 98.7L524.4 99.7L524.4 102.2L524.5 97.1L524.7 98.5L524.7 104.3L524.8 106.2L524.9 105.3L524.9 106.1L525.1 104.2L525.2 105.4L525.2 106.4L525.3 107.5L525.4 107.7L525.6 111.2L525.6 110.6L525.7 111.8L525.7 112.8L525.8 114.2L526.0 120.2L526.1 117.0L526.1 112.6L526.2 112.0L526.3 115.0L526.4 117.0L526.5 117.8L526.6 122.9L526.6 121.4L526.7 117.4L526.9 120.5L527.0 125.1L527.0 126.2L527.1 126.8L527.1 133.0L527.3 131.4L527.4 130.7L527.5 131.4L527.5 132.0L527.6 134.7L527.8 133.9L527.8 134.1L527.9 131.3L528.0 131.6L528.0 130.3L528.2 131.9L528.3 130.5L528.4 130.7L528.4 133.7L528.5 134.2L528.7 132.7L528.7 134.8L528.8 134.3L528.9 133.7L528.9 132.6L529.1 131.8L529.2 138.8L529.2 141.7L529.3 137.6L529.4 143.2L529.6 143.9L529.6 149.7L529.7 154.9L529.7 164.1L529.8 163.3L530.0 165.2L530.1 172.0L530.1 171.2L530.2 170.9L530.3 168.5L530.4 168.8L530.5 164.4L530.6 164.9L530.6 162.2L530.7 160.5L530.9 159.4L531.0 159.3L531.0 155.8L531.1 155.9L531.1 158.4L531.3 163.1L531.4 169.1L531.5 166.5L531.5 169.7L531.6 175.2L531.8 176.2L531.8 176.7L531.9 175.7L532.0 173.9L532.0 178.1L532.2 179.5L532.3 183.1L532.3 184.8L532.4 182.9L532.5 185.6L532.7 184.3L532.7 185.3L532.8 181.7L532.9 174.9L532.9 169.7L533.1 166.2L533.2 170.1L533.2 169.4L533.3 169.5L533.4 169.4L533.6 170.2L533.6 170.0L533.7 167.8L533.7 169.3L533.8 168.8L534.0 164.8L534.1 167.1L534.1 165.4L534.2 168.1L534.3 166.3L534.4 167.6L534.5 164.0L534.6 163.7L534.6 164.0L534.7 163.9L534.9 166.0L534.9 164.7L535.0 165.1L535.1 165.9L535.1 165.8L535.3 165.2L535.4 159.7L535.5 153.8L535.5 155.0L535.6 156.6L535.8 159.0L535.8 153.1L535.9 154.1L536.0 147.7L536.0 147.1L536.2 147.3L536.3 142.7L536.3 145.4L536.4 139.0L536.5 138.2L536.7 139.1L536.7 137.7L536.8 138.1L536.9 138.2L536.9 138.2L537.1 134.9L537.2 135.2L537.2 138.6L537.3 138.9L537.4 139.6L537.6 141.6L537.6 137.7L537.7 139.0L537.7 139.4L537.8 142.0L538.0 144.4L538.1 150.5L538.1 149.2L538.2 154.4L538.2 153.7L538.4 160.1L538.5 154.5L538.6 155.5L538.6 157.0L538.7 159.4L538.9 160.2L538.9 162.2L539.0 164.8L539.1 166.2L539.1 166.6L539.3 165.9L539.4 165.9L539.5 166.9L539.5 167.7L539.6 166.9L539.8 167.2L539.8 167.1L539.9 165.9L540.0 164.7L540.0 165.3L540.2 162.5L540.3 158.8L540.3 162.8L540.4 163.1L540.5 164.4L540.7 161.6L540.7 164.0L540.8 165.6L540.9 165.0L540.9 165.5L541.1 172.0L541.2 168.9L541.2 167.8L541.3 168.4L541.4 171.9L541.5 171.7L541.6 168.6L541.7 168.3L541.7 164.5L541.8 166.8L542.0 165.5L542.1 167.7L542.1 173.1L542.2 172.3L542.2 172.7L542.4 174.8L542.5 182.9L542.6 183.8L542.6 182.2L542.7 184.0L542.9 183.5L542.9 183.7L543.0 183.6L543.1 190.6L543.1 195.8L543.3 190.4L543.4 189.9L543.5 192.2L543.5 193.8L543.6 195.1L543.8 198.2L543.8 194.4L543.9 200.5L544.0 197.1L544.0 198.8L544.2 202.9L544.3 199.0L544.3 202.8L544.4 203.0L544.5 203.9L544.7 203.9L544.7 201.8L544.8 200.7L544.8 197.6L544.9 199.8L545.1 196.9L545.2 194.5L545.2 189.1L545.3 195.0L545.4 200.5L545.5 197.5L545.6 191.4L545.7 188.2L545.7 190.0L545.8 183.9L546.0 181.3L546.1 180.4L546.1 181.9L546.2 181.3L546.2 180.3L546.4 186.0L546.5 183.7L546.6 180.7L546.6 181.5L546.7 181.7L546.9 181.7L546.9 181.6L547.0 183.0L547.1 182.3L547.1 183.1L547.3 182.0L547.4 181.5L547.4 182.2L547.5 182.0L547.6 182.5L547.8 182.5L547.8 182.1L547.9 181.9L548.0 182.8L548.0 180.0L548.2 181.4L548.3 181.8L548.3 181.7L548.4 181.1L548.5 179.5L548.7 177.3L548.7 176.0L548.8 172.2L548.8 176.4L548.9 175.7L549.1 169.8L549.2 169.5L549.2 170.1L549.3 169.8L549.4 164.6L549.5 165.0L549.6 165.0L549.7 163.8L549.7 164.2L549.8 165.9L550.0 167.7L550.1 164.2L550.1 163.9L550.2 162.4L550.2 157.0L550.4 157.3L550.5 160.9L550.6 158.7L550.6 157.2L550.7 156.9L550.9 159.5L550.9 158.8L551.0 163.3L551.1 158.0L551.1 162.4L551.3 164.8L551.4 166.3L551.4 167.9L551.5 168.2L551.6 168.5L551.8 167.2L551.8 167.6L551.9 167.4L552.0 166.8L552.0 165.3L552.2 166.3L552.3 166.2L552.3 168.3L552.4 167.6L552.5 165.7L552.7 165.6L552.7 167.1L552.8 166.3L552.8 171.7L552.9 173.3L553.1 173.5L553.2 173.7L553.2 174.9L553.3 174.9L553.3 172.5L553.5 172.9L553.6 168.0L553.7 169.5L553.7 166.3L553.8 170.8L554.0 172.9L554.0 171.9L554.1 168.4L554.2 167.4L554.2 167.5L554.4 164.7L554.5 163.6L554.6 162.2L554.6 161.9L554.7 159.4L554.9 163.3L554.9 167.9L555.0 163.9L555.1 164.4L555.1 162.2L555.3 159.3L555.4 159.7L555.4 160.6L555.5 158.3L555.6 159.1L555.8 161.3L555.8 159.7L555.9 160.2L556.0 167.4L556.0 169.1L556.2 172.2L556.3 165.7L556.3 166.4L556.4 167.9L556.5 166.3L556.6 169.2L556.7 171.2L556.8 174.0L556.8 175.4L556.9 176.0L557.1 178.2L557.2 177.0L557.2 171.5L557.3 175.4L557.3 176.2L557.5 175.3L557.6 182.4L557.7 185.0L557.7 183.1L557.8 180.6L558.0 182.4L558.0 183.6L558.1 184.4L558.2 184.4L558.2 184.3L558.4 184.8L558.5 185.3L558.6 184.8L558.6 181.1L558.7 183.4L558.9 183.7L558.9 184.7L559.0 182.4L559.1 185.1L559.1 185.2L559.3 184.5L559.4 181.5L559.4 185.1L559.5 181.5L559.6 180.5L559.8 179.6L559.8 180.8L559.9 181.4L559.9 181.9L560.0 181.4L560.2 182.6L560.3 184.5L560.3 185.3L560.4 185.4L560.5 184.2L560.6 180.6L560.7 182.5L560.8 180.4L560.8 180.8L560.9 180.8L561.1 180.1L561.2 180.3L561.2 180.6L561.3 182.1L561.3 184.3L561.5 183.9L561.6 182.4L561.7 179.7L561.7 172.8L561.8 174.4L562.0 169.9L562.0 169.0L562.1 168.7L562.2 168.7L562.2 169.5L562.4 169.7L562.5 170.9L562.5 172.0L562.6 170.3L562.7 177.9L562.9 179.3L562.9 174.7L563.0 172.9L563.1 179.2L563.1 184.8L563.3 188.7L563.4 185.4L563.4 187.7L563.5 190.2L563.6 190.4L563.8 190.8L563.8 191.0L563.9 190.9L563.9 186.6L564.0 187.3L564.2 186.3L564.3 187.2L564.3 186.6L564.4 188.8L564.5 188.2L564.6 185.9L564.7 189.5L564.8 192.0L564.8 192.0L564.9 190.7L565.1 192.8L565.2 192.7L565.2 192.7L565.3 193.1L565.3 193.7L565.5 191.7L565.6 191.4L565.7 190.4L565.7 191.7L565.8 195.2L566.0 194.4L566.0 197.2L566.1 201.0L566.2 201.6L566.2 199.3L566.4 193.0L566.5 200.1L566.5 198.5L566.6 200.8L566.7 203.2L566.9 202.2L566.9 206.6L567.0 206.5L567.1 204.9L567.1 205.0L567.3 206.1L567.4 205.3L567.4 203.5L567.5 198.7L567.6 200.8L567.8 199.4L567.8 199.6L567.9 200.7L567.9 199.8L568.0 205.5L568.2 201.5L568.3 204.5L568.3 201.8L568.4 200.6L568.5 198.2L568.6 197.8L568.7 199.0L568.8 204.0L568.8 198.8L568.9 199.6L569.1 198.8L569.1 198.3L569.2 198.6L569.3 201.5L569.3 205.2L569.5 205.5L569.6 205.3L569.7 205.0L569.7 204.7L569.8 204.4L570.0 207.0L570.0 208.0L570.1 207.8L570.2 214.3L570.2 209.4L570.4 212.3L570.5 212.2L570.5 213.2L570.6 212.7L570.7 211.7L570.9 211.2L570.9 213.4L571.0 213.6L571.1 213.9L571.1 212.7L571.3 213.7L571.4 209.4L571.4 208.4L571.5 209.1L571.6 209.0L571.8 209.0L571.8 212.4L571.9 212.9L571.9 216.5L572.0 217.9L572.2 215.8L572.3 217.9L572.3 215.1L572.4 212.5L572.4 212.7L572.6 211.5L572.7 215.0L572.8 222.0L572.8 222.5L572.9 222.0L573.1 223.3L573.1 223.4L573.2 223.3L573.3 224.2L573.3 224.2L573.5 226.5L573.6 225.8L573.7 226.8L573.7 226.2L573.8 226.0L574.0 226.4L574.0 226.5L574.1 226.0L574.2 223.2L574.2 217.7L574.4 222.6L574.5 218.6L574.5 219.1L574.6 216.2L574.7 217.4L574.9 215.2L574.9 215.1L575.0 206.9L575.0 211.3L575.1 209.5L575.3 209.3L575.4 209.6L575.4 204.6L575.5 203.3L575.6 202.8L575.7 203.9L575.8 203.9L575.9 203.6L575.9 200.8L576.0 199.2L576.2 198.8L576.3 197.0L576.3 197.1L576.4 198.0L576.4 198.4L576.6 197.5L576.7 197.9L576.8 198.1L576.8 202.5L576.9 202.8L577.1 202.5L577.1 201.5L577.2 201.1L577.3 200.9L577.3 201.9L577.5 201.0L577.6 202.3L577.7 197.8L577.7 198.2L577.8 199.5L578.0 197.9L578.0 199.1L578.1 200.1L578.2 200.3L578.2 202.3L578.4 202.4L578.5 202.3L578.5 201.9L578.6 197.2L578.7 196.6L578.9 195.2L578.9 197.1L579.0 196.0L579.0 196.4L579.1 197.2L579.3 196.9L579.4 197.4L579.4 196.5L579.5 195.5L579.6 193.7L579.7 198.1L579.8 196.9L579.9 196.7L579.9 191.5L580.0 194.0L580.2 196.3L580.3 192.9L580.3 196.0L580.4 196.8L580.4 194.0L580.6 191.6L580.7 190.9L580.8 190.9L580.8 191.9L580.9 199.6L581.1 197.2L581.1 197.7L581.2 199.4L581.3 198.1L581.3 199.1L581.5 200.2L581.6 198.7L581.6 202.6L581.7 199.6L581.8 204.5L582.0 202.3L582.0 199.2L582.1 201.8L582.2 206.3L582.2 204.1L582.4 202.5L582.5 201.2L582.5 206.5L582.6 208.3L582.7 203.7L582.9 206.4L582.9 207.5L583.0 207.9L583.0 207.6L583.1 207.0L583.3 209.7L583.4 210.2L583.4 209.6L583.5 210.4L583.6 212.2L583.7 211.7L583.8 211.0L583.9 211.9L583.9 212.2L584.0 212.4L584.2 211.9L584.2 212.6L584.3 212.4L584.4 212.9L584.4 212.4L584.6 211.9L584.7 209.0L584.8 208.1L584.8 210.1L584.9 209.4L585.1 208.0L585.1 207.9L585.2 208.3L585.3 207.5L585.3 207.5L585.5 208.4L585.6 209.4L585.6 211.9L585.7 207.7L585.8 207.7L586.0 209.7L586.0 210.2L586.1 213.2L586.2 210.2L586.2 214.6L586.4 216.8L586.5 216.1L586.5 216.4L586.6 217.4L586.7 216.7L586.9 215.1L586.9 217.8L587.0 217.6L587.0 216.9L587.1 216.4L587.3 217.5L587.4 216.2L587.4 215.8L587.5 216.8L587.5 223.2L587.7 224.3L587.8 227.5L587.9 227.8L587.9 227.9L588.0 227.3L588.2 224.8L588.2 224.4L588.3 223.5L588.4 223.3L588.4 223.2L588.6 223.7L588.7 214.4L588.8 206.9L588.8 198.6L588.9 190.8M589.1 169.7L589.1 164.7L589.2 159.7L589.3 157.0L589.3 154.5L589.5 154.6L589.6 153.6M589.6 173.8L589.7 178.8L589.8 183.0L590.0 182.4L590.0 184.2L590.1 185.5L590.2 185.1L590.2 175.9L590.4 175.7L590.5 175.5L590.5 175.8L590.6 175.5L590.7 178.5L590.8 175.5L590.9 178.6L591.0 178.8L591.0 178.1L591.1 174.5L591.3 171.7L591.4 163.9L591.4 164.0L591.5 161.1L591.5 160.7L591.7 164.1L591.8 172.7L591.9 170.1L591.9 169.6L592.0 169.5L592.2 165.9L592.2 166.6L592.3 169.1L592.4 172.3L592.4 179.9L592.6 176.7L592.7 180.4L592.8 176.2L592.8 176.3L592.9 176.5L593.1 176.4L593.1 175.1L593.2 176.7L593.3 175.8L593.3 171.7L593.5 170.9L593.6 171.2L593.6 173.7L593.7 173.3L593.8 175.3L594.0 175.0L594.0 174.0L594.1 175.0L594.1 175.7L594.2 175.3L594.4 175.0L594.5 175.6L594.5 176.3L594.6 176.0L594.7 175.8L594.8 176.0L594.9 175.3" fill="none" stroke="#ff0000" stroke-linejoin="round"/></defs><use href="#rl" stroke-width="4"/><use href="#rl" stroke-width="7.6" stroke-linecap="round"/><path d="M378.1 219.5h0M375.1 193.5h0M208.1 201.4h0" fill="none" stroke="#ff0000" stroke-width="7.6" stroke-linecap="round"/><rect x="35.1" y="27.9" width="587.15" height="373.5" fill="none" stroke="#000" stroke-width="1.1"/><text x="107.35" y="416.7" font-size="10.3px" text-anchor="middle" textLength="20.2" lengthAdjust="spacingAndGlyphs">2004</text><text x="200.95" y="416.7" font-size="10.3px" text-anchor="middle" textLength="20.2" lengthAdjust="spacingAndGlyphs">2008</text><text x="293.65" y="416.7" font-size="10.3px" text-anchor="middle" textLength="20.2" lengthAdjust="spacingAndGlyphs">2012</text><text x="386.35" y="416.7" font-size="10.3px" text-anchor="middle" textLength="20.2" lengthAdjust="spacingAndGlyphs">2016</text><text x="479.05" y="416.7" font-size="10.3px" text-anchor="middle" textLength="20.2" lengthAdjust="spacingAndGlyphs">2020</text><text x="571.75" y="416.7" font-size="10.3px" text-anchor="middle" textLength="20.2" lengthAdjust="spacingAndGlyphs">2024</text><text x="27.4" y="366.80" font-size="10.3px" text-anchor="end" textLength="25.4" lengthAdjust="spacingAndGlyphs">10000</text><text x="27.4" y="297.98" font-size="10.3px" text-anchor="end" textLength="25.4" lengthAdjust="spacingAndGlyphs">15000</text><text x="27.4" y="229.15" font-size="10.3px" text-anchor="end" textLength="25.4" lengthAdjust="spacingAndGlyphs">20000</text><text x="27.4" y="160.33" font-size="10.3px" text-anchor="end" textLength="25.4" lengthAdjust="spacingAndGlyphs">25000</text><text x="27.4" y="91.50" font-size="10.3px" text-anchor="end" textLength="25.4" lengthAdjust="spacingAndGlyphs">30000</text><text x="629.5" y="376.00" font-size="10.3px" textLength="20.2" lengthAdjust="spacingAndGlyphs">1000</text><text x="629.5" y="308.84" font-size="10.3px" textLength="20.2" lengthAdjust="spacingAndGlyphs">2000</text><text x="629.5" y="241.68" font-size="10.3px" textLength="20.2" lengthAdjust="spacingAndGlyphs">3000</text><text x="629.5" y="174.52" font-size="10.3px" textLength="20.2" lengthAdjust="spacingAndGlyphs">4000</text><text x="629.5" y="107.36" font-size="10.3px" textLength="20.2" lengthAdjust="spacingAndGlyphs">5000</text><text x="629.5" y="40.20" font-size="10.3px" textLength="20.2" lengthAdjust="spacingAndGlyphs">6000</text><path d="M108.25 401.40v3.5M200.95 401.40v3.5M293.65 401.40v3.5M386.35 401.40v3.5M479.05 401.40v3.5M571.75 401.40v3.5M35.10 362.60h-3.5M35.10 293.78h-3.5M35.10 224.95h-3.5M35.10 156.13h-3.5M35.10 87.30h-3.5M622.25 372.30h3.5M622.25 305.14h3.5M622.25 237.98h3.5M622.25 170.82h3.5M622.25 103.66h3.5M622.25 36.50h3.5" stroke="#000" stroke-width="0.8" fill="none"/><rect x="517.7" y="377.3" width="98.3" height="17.9" rx="2" ry="2" fill="#fff" fill-opacity="0.8" stroke="#ccc" stroke-width="0.9"/><path d="M522.6 386.5H545.6" stroke="#f00" stroke-width="1.5" stroke-dasharray="1.5 1.8" fill="none"/><circle cx="534.2" cy="386.5" r="3.6" fill="#f00"/><text x="554.1" y="390.2" font-size="10.3px" fill="#000" textLength="57.3" lengthAdjust="spacingAndGlyphs" font-family="Liberation Sans, Noto Sans CJK SC, sans-serif">沪深300指数</text><text x="229.8" y="20.7" font-size="12.55px" fill="#000" textLength="196.3" lengthAdjust="spacingAndGlyphs" font-family="Liberation Sans, Noto Sans CJK SC, sans-serif">恒生指数与沪深300走势之间的关系</text></svg></body></html>
